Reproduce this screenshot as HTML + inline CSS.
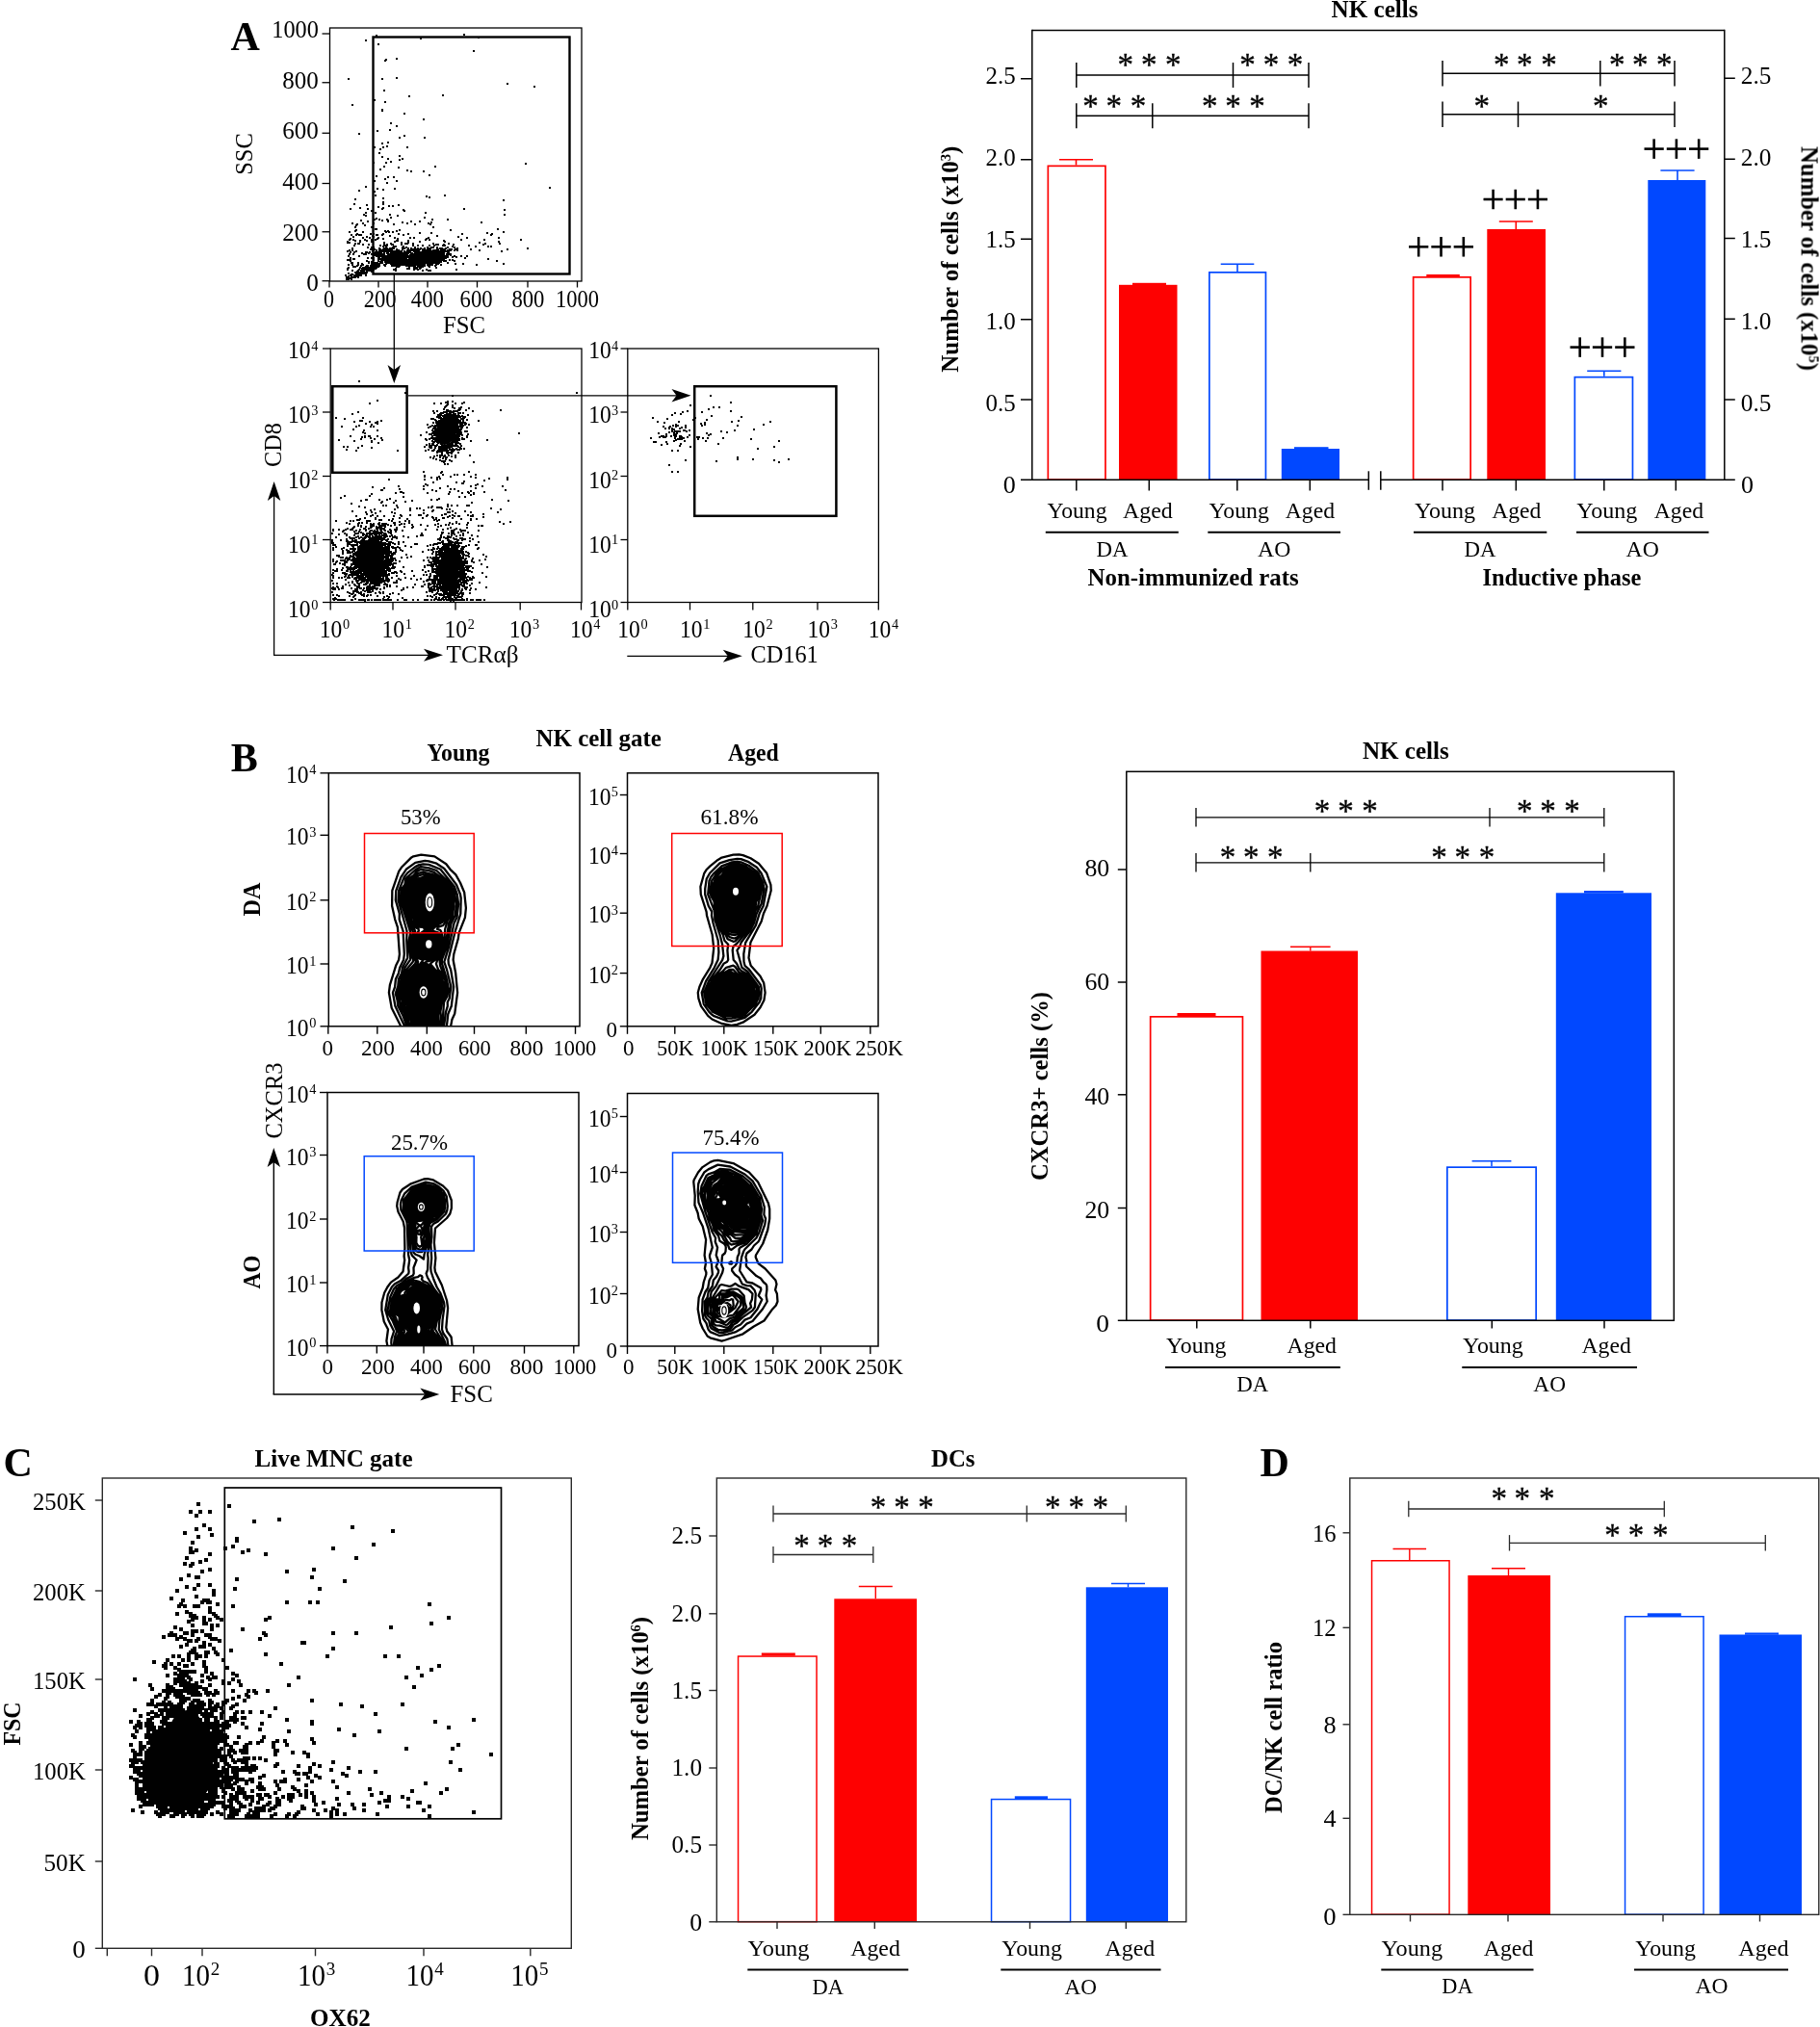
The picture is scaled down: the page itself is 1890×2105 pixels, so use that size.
<!DOCTYPE html>
<html><head><meta charset="utf-8"><title>Figure</title>
<style>html,body{margin:0;padding:0;background:#fff}body{width:1890px;height:2105px;overflow:hidden}svg{display:block}text{font-family:"Liberation Serif",serif;fill:#000}</style></head>
<body>
<svg width="1890" height="2105" viewBox="0 0 1890 2105">
<rect width="1890" height="2105" fill="#fff"/>
<g opacity="0.999">
<text x="239.5" y="52" font-size="42" font-weight="bold">A</text>
<path d="M437 276h2M447 267h2M394 262h2M413 277h2M427 276h2M436 272h2M454 267h2M429 278h2M423 272h2M417 273h2M411 269h2M414 270h2M447 264h2M410 261h2M446 266h2M429 268h2M434 267h2M457 267h2M404 258h2M438 276h2M432 268h2M454 268h2M421 263h2M434 274h2M407 274h2M440 271h2M450 264h2M445 272h2M457 263h2M411 267h2M396 265h2M444 269h2M420 270h2M418 263h2M411 268h2M454 261h2M425 270h2M443 259h2M433 262h2M416 267h2M447 269h2M438 265h2M460 259h2M415 266h2M396 270h2M422 279h2M446 274h2M437 265h2M439 269h2M419 271h2M433 272h2M406 264h2M455 268h2M423 273h2M459 261h2M404 271h2M402 264h2M402 259h2M403 265h2M432 270h2M407 265h2M409 273h2M386 261h2M419 267h2M415 271h2M387 265h2M430 272h2M409 268h2M426 266h2M451 260h2M438 277h2M444 266h2M451 272h2M431 269h2M455 266h2M407 257h2M456 267h2M415 265h2M396 273h2M429 270h2M455 272h2M437 271h2M421 274h2M412 272h2M405 266h2M402 261h2M411 263h2M413 260h2M445 268h2M402 271h2M430 264h2M429 264h2M433 274h2M433 266h2M404 264h2M428 275h2M446 265h2M409 275h2M441 261h2M446 273h2M435 266h2M436 265h2M441 264h2M413 269h2M394 272h2M454 254h2M408 269h2M424 270h2M446 275h2M411 265h2M448 267h2M448 271h2M430 257h2M405 267h2M395 263h2M446 268h2M451 263h2M405 262h2M438 271h2M469 267h2M403 268h2M396 271h2M398 261h2M425 276h2M452 267h2M433 270h2M432 267h2M398 275h2M450 272h2M435 264h2M399 258h2M457 272h2M397 270h2M442 267h2M443 270h2M418 266h2M426 265h2M416 271h2M441 273h2M425 266h2M410 266h2M421 271h2M452 271h2M464 273h2M443 265h2M430 270h2M394 269h2M446 267h2M443 267h2M407 264h2M460 264h2M404 268h2M404 273h2M450 270h2M443 273h2M408 275h2M422 274h2M436 269h2M444 271h2M399 269h2M435 277h2M436 268h2M452 278h2M442 269h2M395 265h2M426 258h2M408 268h2M431 263h2M401 268h2M410 265h2M410 268h2M424 274h2M440 265h2M418 273h2M460 266h2M459 265h2M421 268h2M409 266h2M437 264h2M391 262h2M420 268h2M459 255h2M436 275h2M458 258h2M439 273h2M411 272h2M421 262h2M443 272h2M462 271h2M407 263h2M442 271h2M417 274h2M424 269h2M446 269h2M435 274h2M395 260h2M431 275h2M414 269h2M396 267h2M441 266h2M449 268h2M401 267h2M458 270h2M398 262h2M458 264h2M456 264h2M447 265h2M457 271h2M406 270h2M418 268h2M429 274h2M438 259h2M447 271h2M431 279h2M458 260h2M408 271h2M416 268h2M392 262h2M450 255h2M460 270h2M452 272h2M456 268h2M445 269h2M451 271h2M428 264h2M439 274h2M437 269h2M405 260h2M462 268h2M452 264h2M412 265h2M419 264h2M427 268h2M403 264h2M461 259h2M451 268h2M400 269h2M440 262h2M445 265h2M407 273h2M415 270h2M444 265h2M432 264h2M438 270h2M447 272h2M399 276h2M380 262h2M399 272h2M395 261h2M413 271h2M440 267h2M424 275h2M432 259h2M438 281h2M416 269h2M447 261h2M393 260h2M410 270h2M453 266h2M422 267h2M449 269h2M435 268h2M406 275h2M417 269h2M436 267h2M459 267h2M437 273h2M398 265h2M429 266h2M447 257h2M400 271h2M453 263h2M431 270h2M402 269h2M419 266h2M434 262h2M453 257h2M413 270h2M433 280h2M390 266h2M407 272h2M439 271h2M430 268h2M445 267h2M428 273h2M422 266h2M424 273h2M417 263h2M408 266h2M460 271h2M433 265h2M409 272h2M420 267h2M434 260h2M455 269h2M457 261h2M443 264h2M445 255h2M400 257h2M426 276h2M445 266h2M420 271h2M448 264h2M410 263h2M394 266h2M444 258h2M403 271h2M434 266h2M446 262h2M444 263h2M433 268h2M403 269h2M449 271h2M380 271h2M438 264h2M416 263h2M430 267h2M393 261h2M431 268h2M445 260h2M452 265h2M389 262h2M416 264h2M437 272h2M420 265h2M437 266h2M440 273h2M443 271h2M456 263h2M431 264h2M397 266h2M444 268h2M421 267h2M412 269h2M453 270h2M412 263h2M414 267h2M417 271h2M414 261h2M407 271h2M441 249h2M438 266h2M410 267h2M466 270h2M402 263h2M431 272h2M460 254h2M409 271h2M451 270h2M409 270h2M457 275h2M444 260h2M423 276h2M416 275h2M434 269h2M439 266h2M428 271h2M432 273h2M449 273h2M420 272h2M444 270h2M441 269h2M417 267h2M409 264h2M452 274h2M423 259h2M438 262h2M407 268h2M434 272h2M406 271h2M414 266h2M419 269h2M413 272h2M458 268h2M411 273h2M424 266h2M447 266h2M455 271h2M426 267h2M446 271h2M408 265h2M457 260h2M420 274h2M415 268h2M403 270h2M418 271h2M420 273h2M459 262h2M442 263h2M435 276h2M390 260h2M441 260h2M443 266h2M460 267h2M433 277h2M460 268h2M415 269h2M430 271h2M425 267h2M449 267h2M427 271h2M399 255h2M446 281h2M445 277h2M411 277h2M397 261h2M452 275h2M448 268h2M408 258h2M382 263h2M435 279h2M443 263h2M441 265h2M441 268h2M451 273h2M421 273h2M456 270h2M448 262h2M425 268h2M415 263h2M439 265h2M429 272h2M456 266h2M412 274h2M447 270h2M461 255h2M457 269h2M410 272h2M452 268h2M455 262h2M408 261h2M448 274h2M413 264h2M408 276h2M426 273h2M407 269h2M416 274h2M451 276h2M454 264h2M432 266h2M467 264h2M453 269h2M450 262h2M410 256h2M466 259h2M450 268h2M464 264h2M466 264h2M430 262h2M453 245h2M406 266h2M414 264h2M406 276h2M415 267h2M436 274h2M401 269h2M429 269h2M421 275h2M436 264h2M440 258h2M421 266h2M424 267h2M445 264h2M423 271h2M389 263h2M400 261h2M453 264h2M402 268h2M405 269h2M440 260h2M406 265h2M449 257h2M398 268h2M465 260h2M412 271h2M426 272h2M433 267h2M418 267h2M456 262h2M396 261h2M405 272h2M444 281h2M436 278h2M400 274h2M395 269h2M402 265h2M412 260h2M446 261h2M448 263h2M446 260h2M441 267h2M435 269h2M440 276h2M419 261h2M450 271h2M469 256h2M444 273h2M444 274h2M426 271h2M422 260h2M438 274h2M435 270h2M431 267h2M428 260h2M412 261h2M442 268h2M422 253h2M418 269h2M464 260h2M428 270h2M438 272h2M458 262h2M404 270h2M424 279h2M412 262h2M464 265h2M398 267h2M427 265h2M417 264h2M460 263h2M439 276h2M453 271h2M412 266h2M436 270h2M405 265h2M452 270h2M423 267h2M393 268h2M440 272h2M411 262h2M397 269h2M448 272h2M404 266h2M434 276h2M409 274h2M450 263h2M403 267h2M430 277h2M439 267h2M397 264h2M425 271h2M420 275h2M414 273h2M448 269h2M448 266h2M408 262h2M426 269h2M423 270h2M416 265h2M439 263h2M393 263h2M415 275h2M427 269h2M409 265h2M417 259h2M404 267h2M439 260h2M410 281h2M453 272h2M445 271h2M447 263h2M430 260h2M453 268h2M405 263h2M413 265h2M426 270h2M385 264h2M454 266h2M413 268h2M445 274h2M455 265h2M429 261h2M401 271h2M434 263h2M435 273h2M434 268h2M452 261h2M422 264h2M403 261h2M399 266h2M443 260h2M443 269h2M416 261h2M410 276h2M423 263h2M416 266h2M396 260h2M440 268h2M456 258h2M388 264h2M429 271h2M440 274h2M435 259h2M422 262h2M432 265h2M401 258h2M441 272h2M432 275h2M455 263h2M454 271h2M447 262h2M467 260h2M444 262h2M428 268h2M399 268h2M443 275h2M434 270h2M451 261h2M407 266h2M409 267h2M462 261h2M457 266h2M446 272h2M419 275h2M463 264h2M391 263h2M439 268h2M427 272h2M413 267h2M398 266h2M471 260h2M438 267h2M389 265h2M417 270h2M406 259h2M426 268h2M442 272h2M457 270h2M449 260h2M448 273h2M445 270h2M424 277h2M461 268h2M403 259h2M414 274h2M377 264h2M387 260h2M425 275h2M399 259h2M431 262h2M437 263h2M427 274h2M395 262h2M433 264h2M428 259h2M420 263h2M428 265h2M414 262h2M383 262h2M464 263h2M452 254h2M442 266h2M452 273h2M408 270h2M425 260h2M405 261h2M426 263h2M454 274h2M432 278h2M432 274h2M406 261h2M419 274h2M458 261h2M418 265h2M466 260h2M407 270h2M397 259h2M427 273h2M402 273h2M392 264h2M417 268h2M421 270h2M408 274h2M398 263h2M398 270h2M426 260h2M450 266h2M430 258h2M458 267h2M410 262h2M416 272h2M438 261h2M446 270h2M422 270h2M411 266h2M449 263h2M439 270h2M427 275h2M443 268h2M462 266h2M447 274h2M384 259h2M442 270h2M405 268h2M454 259h2M401 270h2M431 266h2M444 276h2M408 263h2M453 273h2M426 274h2M425 265h2M392 269h2M425 274h2M436 262h2M421 276h2M455 273h2M433 269h2M437 268h2M433 260h2M450 260h2M442 265h2M449 265h2M458 269h2M429 275h2M465 262h2M421 269h2M428 272h2M438 255h2M464 267h2M387 263h2M418 270h2M463 265h2M436 266h2M405 253h2M429 280h2M433 263h2M468 259h2M404 260h2M462 258h2M449 264h2M442 262h2M474 258h2M414 265h2M411 259h2M407 267h2M401 266h2M433 271h2M447 273h2M402 270h2M400 260h2M457 268h2M392 268h2M417 275h2M428 274h2M453 259h2M455 267h2M419 258h2M415 262h2M391 266h2M407 254h2M396 269h2M410 279h2M430 265h2M423 258h2M402 267h2M450 269h2M438 268h2M470 254h2M434 259h2M427 263h2M442 273h2M444 275h2M434 264h2M406 267h2M428 255h2M412 267h2M436 271h2M395 271h2M430 269h2M446 258h2M411 261h2M394 259h2M443 261h2M424 268h2M413 261h2M448 275h2M458 265h2M403 273h2M432 271h2M400 272h2M414 276h2M433 273h2M427 267h2M424 261h2M391 264h2M427 266h2M419 273h2M405 274h2M440 266h2M451 269h2M448 261h2M450 265h2M410 264h2M459 269h2M412 273h2M404 265h2M393 265h2M420 264h2M429 279h2M412 276h2M436 277h2M456 261h2M425 262h2M413 273h2M430 263h2M406 258h2M461 251h2M440 264h2M420 269h2M438 263h2M412 275h2M467 265h2M407 262h2M478 249h2M405 264h2M410 274h2M442 280h2M441 270h2M398 258h2M427 264h2M443 274h2M412 268h2M418 272h2M419 270h2M439 264h2M438 273h2M461 261h2M394 255h2M438 269h2M436 263h2M417 257h2M413 274h2M479 243h2M417 266h2M388 259h2M454 265h2M409 262h2M429 276h2M441 271h2M408 280h2M428 269h2M453 265h2M433 275h2M447 268h2M398 259h2M397 265h2M454 270h2M412 270h2M437 270h2M393 267h2M430 273h2M379 279h2M367 286h2M373 285h2M372 283h2M381 279h2M376 278h2M386 278h2M382 280h2M386 276h2M380 279h2M361 290h2M384 280h2M385 278h2M363 286h2M380 281h2M392 277h2M364 288h2M375 283h2M369 286h2M373 286h2M375 284h2M370 285h2M381 280h2M394 273h2M391 273h2M374 281h2M370 284h2M370 282h2M388 276h2M360 288h2M371 287h2M372 286h2M362 289h2M387 278h2M377 279h2M367 288h2M385 274h2M372 285h2M386 277h2M379 284h2M374 286h2M389 273h2M392 274h2M389 278h2M385 282h2M383 279h2M391 274h2M361 284h2M373 283h2M368 288h2M375 282h2M381 276h2M380 282h2M393 274h2M376 281h2M379 277h2M381 281h2M392 275h2M385 275h2M386 275h2M392 271h2M393 276h2M380 283h2M371 281h2M382 279h2M380 280h2M389 276h2M385 280h2M379 280h2M386 273h2M383 281h2M365 288h2M375 281h2M366 288h2M381 278h2M386 280h2M370 286h2M384 276h2M390 278h2M374 284h2M377 281h2M390 274h2M374 285h2M393 269h2M378 284h2M374 282h2M376 282h2M370 287h2M371 288h2M383 278h2M371 284h2M390 273h2M389 279h2M377 284h2M364 285h2M365 285h2M369 284h2M375 279h2M372 284h2M358 286h2M361 287h2M370 283h2M368 283h2M395 270h2M382 278h2M382 281h2M364 290h2M378 279h2M387 276h2M379 286h2M359 288h2M388 277h2M371 286h2M360 289h2M391 276h2M385 277h2M364 287h2M359 290h2M388 273h2M389 275h2M388 275h2M384 278h2M378 283h2M380 276h2M380 277h2M369 287h2M390 275h2M377 282h2M367 255h2M368 253h2M370 243h2M363 248h2M360 280h2M381 217h2M379 262h2M386 274h2M376 232h2M368 207h2M369 239h2M379 224h2M360 270h2M380 246h2M387 232h2M386 245h2M365 258h2M385 257h2M387 257h2M382 272h2M363 271h2M379 194h2M368 240h2M363 268h2M379 278h2M371 273h2M387 246h2M372 198h2M372 253h2M376 247h2M374 229h2M379 221h2M387 280h2M380 278h2M377 223h2M376 254h2M360 279h2M360 251h2M363 262h2M376 275h2M387 270h2M367 212h2M381 257h2M370 233h2M387 268h2M364 244h2M371 275h2M372 280h2M374 276h2M363 217h2M380 213h2M366 269h2M382 273h2M370 276h2M362 260h2M382 254h2M365 281h2M360 252h2M366 246h2M369 244h2M361 278h2M360 261h2M368 250h2M361 275h2M365 273h2M375 274h2M385 236h2M365 275h2M362 252h2M373 251h2M378 234h2M373 250h2M381 230h2M365 232h2M385 219h2M378 280h2M365 260h2M366 249h2M367 262h2M381 268h2M368 277h2M385 259h2M367 269h2M377 278h2M361 266h2M361 270h2M362 241h2M375 263h2M385 249h2M373 216h2M369 261h2M385 268h2M372 266h2M383 247h2M376 241h2M372 244h2M369 234h2M384 243h2M362 249h2M362 264h2M378 249h2M368 236h2M363 270h2M387 169h2M385 251h2M379 264h2M371 253h2M366 277h2M364 273h2M380 250h2M373 278h2M374 244h2M366 264h2M385 272h2M396 82h2M394 155h2M451 173h2M398 94h2M388 188h2M409 247h2M404 223h2M402 184h2M394 176h2M412 250h2M442 204h2M439 124h2M411 250h2M444 247h2M460 250h2M389 238h2M418 218h2M389 203h2M388 199h2M424 100h2M411 240h2M396 149h2M405 128h2M419 118h2M461 203h2M389 249h2M481 217h2M441 221h2M412 224h2M435 230h2M459 99h2M413 243h2M401 255h2M411 61h2M392 247h2M416 254h2M390 244h2M420 253h2M393 159h2M400 62h2M393 228h2M397 153h2M404 245h2M409 196h2M397 216h2M408 256h2M399 186h2M397 206h2M399 106h2M397 256h2M411 131h2M398 173h2M388 228h2M417 165h2M402 230h2M396 163h2M411 188h2M388 153h2M398 252h2M419 219h2M401 152h2M465 253h2M423 252h2M396 114h2M388 104h2M390 37h2M396 229h2M409 251h2M436 40h2M396 217h2M389 221h2M392 215h2M445 182h2M414 166h2M491 53h2M390 238h2M448 228h2M397 210h2M408 233h2M390 183h2M400 169h2M464 261h2M399 240h2M442 248h2M439 178h2M391 248h2M411 81h2M393 258h2M391 244h2M484 247h2M413 213h2M426 230h2M402 165h2M401 228h2M404 135h2M387 243h2M419 141h2M402 229h2M408 184h2M414 143h2M425 247h2M387 228h2M405 226h2M407 214h2M396 115h2M431 260h2M402 148h2M401 190h2M397 248h2M403 214h2M390 227h2M413 174h2M449 253h2M435 242h2M405 168h2M397 197h2M440 226h2M440 143h2M392 46h2M402 240h2M422 177h2M431 261h2M414 162h2M445 205h2M391 196h2M399 63h2M397 212h2M391 136h2M464 228h2M426 178h2M464 257h2M422 153h2M439 261h2M428 253h2M416 252h2M403 241h2M447 231h2M415 264h2M422 232h2M430 233h2M400 241h2M401 254h2M396 244h2M421 253h2M443 257h2M445 249h2M418 256h2M406 254h2M446 233h2M417 231h2M414 239h2M450 261h2M440 259h2M421 257h2M435 251h2M433 255h2M429 247h2M433 258h2M423 250h2M423 243h2M412 248h2M447 242h2M438 260h2M436 258h2M418 244h2M449 236h2M407 241h2M401 263h2M398 254h2M397 243h2M444 232h2M416 262h2M520 261h2M474 260h2M493 256h2M506 256h2M467 239h2M517 247h2M509 244h2M484 266h2M480 274h2M494 275h2M488 259h2M506 269h2M518 253h2M501 254h2M510 243h2M471 257h2M478 266h2M526 259h2M471 266h2M503 253h2M482 268h2M469 270h2M517 251h2M497 260h2M473 267h2M471 271h2M515 271h2M497 252h2M522 274h2M473 280h2M509 256h2M486 255h2M502 249h2M475 246h2M472 274h2M505 242h2M472 259h2M526 87h2M554 90h2M545 170h2M570 195h2M522 208h2M523 218h2M523 223h2M540 249h2M547 258h2M522 241h2M516 238h2M499 231h2M481 36h2M496 39h2M379 42h2M361 82h2M365 109h2M372 139h2" stroke="#000" stroke-width="2" fill="none"/>
<rect x="342.5" y="29" width="261.5" height="263" fill="none" stroke="#000" stroke-width="1.3"/>
<rect x="387.5" y="38.5" width="204" height="246" fill="none" stroke="#000" stroke-width="2.4"/>
<line x1="334.5" y1="35" x2="342.5" y2="35" stroke="#000" stroke-width="1.3"/>
<text x="282.3" y="39.15" font-size="26" textLength="48.5" lengthAdjust="spacingAndGlyphs">1000</text>
<line x1="334.5" y1="85.75" x2="342.5" y2="85.75" stroke="#000" stroke-width="1.3"/>
<text x="293.3" y="91.75" font-size="26" textLength="37.5" lengthAdjust="spacingAndGlyphs">800</text>
<line x1="334.5" y1="138.25" x2="342.5" y2="138.25" stroke="#000" stroke-width="1.3"/>
<text x="293.3" y="144.35" font-size="26" textLength="37.5" lengthAdjust="spacingAndGlyphs">600</text>
<line x1="334.5" y1="190.5" x2="342.5" y2="190.5" stroke="#000" stroke-width="1.3"/>
<text x="293.3" y="196.95" font-size="26" textLength="37.5" lengthAdjust="spacingAndGlyphs">400</text>
<line x1="334.5" y1="240.75" x2="342.5" y2="240.75" stroke="#000" stroke-width="1.3"/>
<text x="293.3" y="249.55" font-size="26" textLength="37.5" lengthAdjust="spacingAndGlyphs">200</text>
<line x1="334.5" y1="291.75" x2="342.5" y2="291.75" stroke="#000" stroke-width="1.3"/>
<text x="318.2" y="302.15" font-size="26" textLength="12.6" lengthAdjust="spacingAndGlyphs">0</text>
<line x1="342" y1="292" x2="342" y2="298.5" stroke="#000" stroke-width="1.3"/>
<text x="336" y="319.4" font-size="24.5" textLength="11" lengthAdjust="spacingAndGlyphs">0</text>
<line x1="393" y1="292" x2="393" y2="298.5" stroke="#000" stroke-width="1.3"/>
<text x="377.7" y="319.4" font-size="24.5" textLength="34" lengthAdjust="spacingAndGlyphs">200</text>
<line x1="444" y1="292" x2="444" y2="298.5" stroke="#000" stroke-width="1.3"/>
<text x="426.8" y="319.4" font-size="24.5" textLength="34" lengthAdjust="spacingAndGlyphs">400</text>
<line x1="495.5" y1="292" x2="495.5" y2="298.5" stroke="#000" stroke-width="1.3"/>
<text x="477.6" y="319.4" font-size="24.5" textLength="34" lengthAdjust="spacingAndGlyphs">600</text>
<line x1="548" y1="292" x2="548" y2="298.5" stroke="#000" stroke-width="1.3"/>
<text x="531.4" y="319.4" font-size="24.5" textLength="34" lengthAdjust="spacingAndGlyphs">800</text>
<line x1="599.5" y1="292" x2="599.5" y2="298.5" stroke="#000" stroke-width="1.3"/>
<text x="576.9" y="319.4" font-size="24.5" textLength="45" lengthAdjust="spacingAndGlyphs">1000</text>
<text x="460" y="346" font-size="24.5" textLength="44" lengthAdjust="spacingAndGlyphs">FSC</text>
<text transform="translate(261.5 160) rotate(-90)" x="-21.75" y="0" font-size="24.5" textLength="43.5" lengthAdjust="spacingAndGlyphs">SSC</text>
<line x1="409.3" y1="285" x2="409.3" y2="385" stroke="#000" stroke-width="1.3"/>
<polygon points="409.3,398 402.55,379 409.3,384 416.05,379" fill="#000"/>
<ellipse cx="463.6" cy="447.5" rx="11.08" ry="15.34" fill="#000" transform="rotate(18.52 463.6 447.5)"/>
<ellipse cx="385.8" cy="579.5" rx="13.2" ry="17.82" fill="#000" transform="rotate(9.09 385.8 579.5)"/>
<ellipse cx="466.5" cy="592" rx="10.13" ry="21.35" fill="#000" transform="rotate(0 466.5 592)"/>
<path d="M475 449h2M458 465h2M466 431h2M474 459h2M454 448h2M466 434h2M467 463h2M480 429h2M470 429h2M464 464h2M449 455h2M462 418h2M471 459h2M448 468h2M468 474h2M454 443h2M468 460h2M452 442h2M481 466h2M453 449h2M469 428h2M448 461h2M455 444h2M457 436h2M456 478h2M460 434h2M466 467h2M471 431h2M463 427h2M456 438h2M478 435h2M463 468h2M472 434h2M477 442h2M464 463h2M474 463h2M449 427h2M455 437h2M465 463h2M479 444h2M456 433h2M452 437h2M476 451h2M452 448h2M461 468h2M461 436h2M463 434h2M475 460h2M462 435h2M474 436h2M478 423h2M442 462h2M472 438h2M460 435h2M452 455h2M480 442h2M453 452h2M471 463h2M451 456h2M472 463h2M476 438h2M467 428h2M474 448h2M476 448h2M468 428h2M462 464h2M452 446h2M476 467h2M473 438h2M453 462h2M445 451h2M460 479h2M441 456h2M478 463h2M481 439h2M442 457h2M465 464h2M450 443h2M473 435h2M453 441h2M451 463h2M454 446h2M477 429h2M466 461h2M464 426h2M465 433h2M468 468h2M470 463h2M472 462h2M483 440h2M458 437h2M450 452h2M456 465h2M474 441h2M452 451h2M462 422h2M451 450h2M449 448h2M464 471h2M461 431h2M468 464h2M449 461h2M453 450h2M463 435h2M452 452h2M457 464h2M460 425h2M474 432h2M467 461h2M474 445h2M449 439h2M450 474h2M477 433h2M457 437h2M459 432h2M475 430h2M471 434h2M470 436h2M472 427h2M466 470h2M462 465h2M464 418h2M458 462h2M460 463h2M479 452h2M486 441h2M457 461h2M461 428h2M477 440h2M446 475h2M471 430h2M475 438h2M453 470h2M472 453h2M455 440h2M455 439h2M449 445h2M465 430h2M469 461h2M477 443h2M462 463h2M450 467h2M477 425h2M475 444h2M472 458h2M478 450h2M455 466h2M478 449h2M482 448h2M468 433h2M472 452h2M475 453h2M475 457h2M462 477h2M472 430h2M460 464h2M467 427h2M455 468h2M453 448h2M449 449h2M458 466h2M476 453h2M464 462h2M453 473h2M456 473h2M477 448h2M463 475h2M451 458h2M474 451h2M471 432h2M470 459h2M469 469h2M475 436h2M459 466h2M475 433h2M452 463h2M465 435h2M461 465h2M473 448h2M477 438h2M478 444h2M474 427h2M474 435h2M443 441h2M467 462h2M468 431h2M469 432h2M472 457h2M478 439h2M453 451h2M467 434h2M477 437h2M456 439h2M478 446h2M445 464h2M453 459h2M463 429h2M451 445h2M461 435h2M459 437h2M477 465h2M447 451h2M457 441h2M453 455h2M458 469h2M463 465h2M461 433h2M471 437h2M478 440h2M447 455h2M464 432h2M451 442h2M467 430h2M480 433h2M482 441h2M451 455h2M450 459h2M471 457h2M480 435h2M467 464h2M473 454h2M459 467h2M480 438h2M453 453h2M457 466h2M466 463h2M473 434h2M468 469h2M454 460h2M479 440h2M456 432h2M456 440h2M473 461h2M469 460h2M472 432h2M460 480h2M469 434h2M485 431h2M475 454h2M473 452h2M474 456h2M450 449h2M455 469h2M468 462h2M455 467h2M455 459h2M474 437h2M451 447h2M466 430h2M463 469h2M458 464h2M456 441h2M454 447h2M449 435h2M472 460h2M466 465h2M470 458h2M445 462h2M470 456h2M465 473h2M478 443h2M474 443h2M454 439h2M454 438h2M475 470h2M477 446h2M454 469h2M453 458h2M474 460h2M440 464h2M448 447h2M454 444h2M476 449h2M466 466h2M475 445h2M462 475h2M481 418h2M469 462h2M448 458h2M463 463h2M469 466h2M474 450h2M446 465h2M475 450h2M473 466h2M458 471h2M476 432h2M447 463h2M448 450h2M451 449h2M460 428h2M483 426h2M472 456h2M472 459h2M454 454h2M442 449h2M449 456h2M470 428h2M473 453h2M471 424h2M449 460h2M464 482h2M484 444h2M478 441h2M459 468h2M460 468h2M451 436h2M474 453h2M457 431h2M482 439h2M464 469h2M461 473h2M465 427h2M469 435h2M456 475h2M475 437h2M460 433h2M445 461h2M472 454h2M473 449h2M469 423h2M467 432h2M481 434h2M464 420h2M464 468h2M452 439h2M444 467h2M449 476h2M452 456h2M452 450h2M448 453h2M456 464h2M474 452h2M484 453h2M475 439h2M471 455h2M472 455h2M484 436h2M479 455h2M466 427h2M451 448h2M463 467h2M449 468h2M470 431h2M475 426h2M477 439h2M460 467h2M478 451h2M475 429h2M453 433h2M453 427h2M474 458h2M477 461h2M457 419h2M472 437h2M466 429h2M455 464h2M454 431h2M462 431h2M474 442h2M457 434h2M475 447h2M474 446h2M464 435h2M461 464h2M473 440h2M451 444h2M447 435h2M472 433h2M454 445h2M474 467h2M464 433h2M451 465h2M482 433h2M453 469h2M471 435h2M447 465h2M459 476h2M463 433h2M486 424h2M461 466h2M470 427h2M451 451h2M455 433h2M460 474h2M459 429h2M457 435h2M473 460h2M455 434h2M450 450h2M479 419h2M474 438h2M454 440h2M463 426h2M466 464h2M476 456h2M444 444h2M475 443h2M473 456h2M457 429h2M480 437h2M452 477h2M476 424h2M464 431h2M459 435h2M479 432h2M466 462h2M464 417h2M461 446h2M456 430h2M470 454h2M479 456h2M457 469h2M469 436h2M484 454h2M462 459h2M463 456h2M469 417h2M481 493h2M487 473h2M454 457h2M457 452h2M461 482h2M476 426h2M461 449h2M445 456h2M436 452h2M475 464h2M472 473h2M464 444h2M463 450h2M472 475h2M464 446h2M463 460h2M465 459h2M463 441h2M449 462h2M481 456h2M472 419h2M456 434h2M471 508h2M458 479h2M463 437h2M471 456h2M458 438h2M460 443h2M468 479h2M467 455h2M485 451h2M458 473h2M460 453h2M488 458h2M457 473h2M463 470h2M484 448h2M458 451h2M469 421h2M464 459h2M468 471h2M454 468h2M456 446h2M469 458h2M469 411h2M461 479h2M467 435h2M463 458h2M457 467h2M450 429h2M463 421h2M465 465h2M480 502h2M448 442h2M461 423h2M467 444h2M471 467h2M468 439h2M450 419h2M463 439h2M465 449h2M453 496h2M466 478h2M476 457h2M467 467h2M491 480h2M441 468h2M470 468h2M474 457h2M457 449h2M457 442h2M458 447h2M478 466h2M464 453h2M468 457h2M446 443h2M375 570h2M401 584h2M392 562h2M394 557h2M403 568h2M388 597h2M398 556h2M377 570h2M380 606h2M383 560h2M377 604h2M379 596h2M398 578h2M385 603h2M415 571h2M396 587h2M398 588h2M402 569h2M377 594h2M396 603h2M378 596h2M409 575h2M373 585h2M372 595h2M406 583h2M388 596h2M371 606h2M396 566h2M377 596h2M392 600h2M372 573h2M372 580h2M370 582h2M372 598h2M398 575h2M393 597h2M392 595h2M400 581h2M373 574h2M383 603h2M384 548h2M376 600h2M407 564h2M398 570h2M394 595h2M402 584h2M376 567h2M396 553h2M400 583h2M385 597h2M377 617h2M374 589h2M393 593h2M408 569h2M392 599h2M362 581h2M384 551h2M403 583h2M387 560h2M381 615h2M366 568h2M401 583h2M413 565h2M366 585h2M398 584h2M365 581h2M414 583h2M390 608h2M395 594h2M398 566h2M387 599h2M376 598h2M398 587h2M397 586h2M367 579h2M369 580h2M360 582h2M380 597h2M368 554h2M396 594h2M383 554h2M393 567h2M357 587h2M397 589h2M396 589h2M394 560h2M390 561h2M397 597h2M394 558h2M375 568h2M401 582h2M399 555h2M379 606h2M378 569h2M403 591h2M385 598h2M406 575h2M370 615h2M385 606h2M388 561h2M396 564h2M370 554h2M369 585h2M392 597h2M404 585h2M393 557h2M374 584h2M393 599h2M398 611h2M368 570h2M396 565h2M388 599h2M403 590h2M370 595h2M403 581h2M399 571h2M367 595h2M394 597h2M394 564h2M376 571h2M365 573h2M372 582h2M369 562h2M391 598h2M403 574h2M371 578h2M400 568h2M396 560h2M374 588h2M389 553h2M392 563h2M395 591h2M400 598h2M404 587h2M370 588h2M380 565h2M362 597h2M402 591h2M398 557h2M380 598h2M371 592h2M405 578h2M401 581h2M369 577h2M371 603h2M406 578h2M386 610h2M371 589h2M371 568h2M403 563h2M396 569h2M376 591h2M370 598h2M389 564h2M403 592h2M398 583h2M367 576h2M398 607h2M384 601h2M373 578h2M403 571h2M370 564h2M379 599h2M378 567h2M390 606h2M391 536h2M402 574h2M399 566h2M401 603h2M367 590h2M358 580h2M370 576h2M394 602h2M357 599h2M387 563h2M391 599h2M371 577h2M378 558h2M385 554h2M375 569h2M403 570h2M398 544h2M410 558h2M357 595h2M395 561h2M394 598h2M391 563h2M366 586h2M379 562h2M393 556h2M396 561h2M372 592h2M407 589h2M369 558h2M394 592h2M402 583h2M402 580h2M386 598h2M367 566h2M395 552h2M373 584h2M401 565h2M392 554h2M400 594h2M391 595h2M386 597h2M376 555h2M390 549h2M394 553h2M377 569h2M402 577h2M376 599h2M357 582h2M369 561h2M385 559h2M401 579h2M402 602h2M402 571h2M370 573h2M381 604h2M381 601h2M379 563h2M394 567h2M374 570h2M358 583h2M391 597h2M403 564h2M393 566h2M391 558h2M366 580h2M369 603h2M407 580h2M384 598h2M401 602h2M410 569h2M403 573h2M400 578h2M399 589h2M384 604h2M378 597h2M365 586h2M380 567h2M398 589h2M395 595h2M394 596h2M371 575h2M373 573h2M361 574h2M403 575h2M372 568h2M367 589h2M386 609h2M398 574h2M380 555h2M401 609h2M393 602h2M377 592h2M399 567h2M393 596h2M401 592h2M388 563h2M401 599h2M367 559h2M400 607h2M394 593h2M376 596h2M375 565h2M403 597h2M405 573h2M400 593h2M395 562h2M388 555h2M384 597h2M375 599h2M371 576h2M391 560h2M379 567h2M391 550h2M390 597h2M375 604h2M401 607h2M399 603h2M395 592h2M365 562h2M393 605h2M411 605h2M390 563h2M388 602h2M382 614h2M392 560h2M404 591h2M372 590h2M406 560h2M384 602h2M364 587h2M376 569h2M409 557h2M373 582h2M396 568h2M406 541h2M389 561h2M385 604h2M369 563h2M379 566h2M380 566h2M372 586h2M365 560h2M398 565h2M391 608h2M391 557h2M363 594h2M375 571h2M372 576h2M367 581h2M399 582h2M385 545h2M369 601h2M371 594h2M407 588h2M360 563h2M375 572h2M368 612h2M383 552h2M377 564h2M366 614h2M369 581h2M383 556h2M405 580h2M388 609h2M395 550h2M408 585h2M383 615h2M408 590h2M382 558h2M383 610h2M378 566h2M381 597h2M398 610h2M405 574h2M375 618h2M399 575h2M390 602h2M376 602h2M373 581h2M394 568h2M400 575h2M390 556h2M398 585h2M363 589h2M392 559h2M369 593h2M389 597h2M404 593h2M384 562h2M388 553h2M379 547h2M376 592h2M391 552h2M386 561h2M367 585h2M402 586h2M382 603h2M400 589h2M373 572h2M403 577h2M397 591h2M399 579h2M394 550h2M369 587h2M397 601h2M383 599h2M371 581h2M395 605h2M399 585h2M380 563h2M371 587h2M359 584h2M369 575h2M372 572h2M391 554h2M368 600h2M399 570h2M374 575h2M404 565h2M391 619h2M393 608h2M400 569h2M376 565h2M395 559h2M371 569h2M396 590h2M367 597h2M404 557h2M376 562h2M409 580h2M378 559h2M371 544h2M402 552h2M401 574h2M353 579h2M376 556h2M389 552h2M370 578h2M402 572h2M400 573h2M365 570h2M370 566h2M395 558h2M400 574h2M364 586h2M363 578h2M374 565h2M374 582h2M374 599h2M393 595h2M375 592h2M400 590h2M402 576h2M374 566h2M371 584h2M373 571h2M379 602h2M403 584h2M374 585h2M372 606h2M371 583h2M376 559h2M403 593h2M398 573h2M404 563h2M405 583h2M392 548h2M394 612h2M389 596h2M400 576h2M400 555h2M371 572h2M407 576h2M372 569h2M399 590h2M366 577h2M365 594h2M385 564h2M410 582h2M392 603h2M369 595h2M382 565h2M387 598h2M373 570h2M366 584h2M395 597h2M363 577h2M371 579h2M387 564h2M367 591h2M368 566h2M375 573h2M384 544h2M376 560h2M388 598h2M403 620h2M402 589h2M376 570h2M397 570h2M381 565h2M406 595h2M375 543h2M404 582h2M400 587h2M381 566h2M372 571h2M362 565h2M400 579h2M394 563h2M383 564h2M390 598h2M383 563h2M380 568h2M359 562h2M402 560h2M399 584h2M377 555h2M384 612h2M382 601h2M392 594h2M386 562h2M383 598h2M374 563h2M396 591h2M368 563h2M371 571h2M371 610h2M402 604h2M366 582h2M361 573h2M399 547h2M402 579h2M373 589h2M373 595h2M373 594h2M380 562h2M387 561h2M398 590h2M391 602h2M371 585h2M389 599h2M409 565h2M372 577h2M376 561h2M406 568h2M389 598h2M385 599h2M386 557h2M380 554h2M368 587h2M372 574h2M390 562h2M405 546h2M399 568h2M377 562h2M395 593h2M379 564h2M373 598h2M391 600h2M369 590h2M391 561h2M396 546h2M374 601h2M367 580h2M373 567h2M388 564h2M410 572h2M385 562h2M393 594h2M371 574h2M380 556h2M384 599h2M394 601h2M398 603h2M401 572h2M371 596h2M402 601h2M379 550h2M396 556h2M388 559h2M403 587h2M398 572h2M396 601h2M390 599h2M387 601h2M373 591h2M403 553h2M407 582h2M374 611h2M397 569h2M383 565h2M386 600h2M388 606h2M371 557h2M391 551h2M385 547h2M400 561h2M387 602h2M370 610h2M395 548h2M398 591h2M365 567h2M393 543h2M360 593h2M372 585h2M377 597h2M372 579h2M386 559h2M397 566h2M382 598h2M394 566h2M374 617h2M375 600h2M373 569h2M398 554h2M399 574h2M396 602h2M365 578h2M379 607h2M405 585h2M390 557h2M370 587h2M382 557h2M388 552h2M364 591h2M397 593h2M376 593h2M399 596h2M400 595h2M375 575h2M407 586h2M362 616h2M373 586h2M403 596h2M407 569h2M402 597h2M388 558h2M389 602h2M384 561h2M378 568h2M380 610h2M393 553h2M397 598h2M398 560h2M372 563h2M390 559h2M404 584h2M390 560h2M392 606h2M386 564h2M361 572h2M390 605h2M375 596h2M394 599h2M381 557h2M405 554h2M373 583h2M354 570h2M367 552h2M362 580h2M381 598h2M399 554h2M405 577h2M397 595h2M393 555h2M390 603h2M405 563h2M374 574h2M392 565h2M364 595h2M373 611h2M388 551h2M383 607h2M399 586h2M398 550h2M385 563h2M367 572h2M378 603h2M422 579h2M401 587h2M387 600h2M362 591h2M393 601h2M374 605h2M387 559h2M391 604h2M398 571h2M366 566h2M399 595h2M378 600h2M370 593h2M403 569h2M398 558h2M397 572h2M388 600h2M370 579h2M374 593h2M401 597h2M391 559h2M367 586h2M372 583h2M369 612h2M374 578h2M396 592h2M409 558h2M395 590h2M401 608h2M360 573h2M382 561h2M395 554h2M379 556h2M408 595h2M352 585h2M385 601h2M399 557h2M374 583h2M372 575h2M368 594h2M405 582h2M397 573h2M378 564h2M399 564h2M383 608h2M396 598h2M366 592h2M354 600h2M355 586h2M399 598h2M398 586h2M365 559h2M436 601h2M360 600h2M377 577h2M399 558h2M370 613h2M361 590h2M397 602h2M354 611h2M394 531h2M384 579h2M359 579h2M359 556h2M396 577h2M397 603h2M386 592h2M391 590h2M377 602h2M413 563h2M365 597h2M391 568h2M351 578h2M366 559h2M386 570h2M378 581h2M364 617h2M388 594h2M416 613h2M378 549h2M362 600h2M381 593h2M387 582h2M377 572h2M416 579h2M370 609h2M373 590h2M375 577h2M348 622h2M389 578h2M383 613h2M355 575h2M395 571h2M369 589h2M370 599h2M369 614h2M374 615h2M397 622h2M359 555h2M380 605h2M351 577h2M355 582h2M360 580h2M383 592h2M377 560h2M369 600h2M397 559h2M375 578h2M390 579h2M384 588h2M381 605h2M393 573h2M391 572h2M388 581h2M404 566h2M406 580h2M418 563h2M369 536h2M351 612h2M365 604h2M364 597h2M353 582h2M381 588h2M356 569h2M364 523h2M405 551h2M347 593h2M386 588h2M394 579h2M359 571h2M382 593h2M377 567h2M383 579h2M401 619h2M382 592h2M361 598h2M367 562h2M349 593h2M400 544h2M363 570h2M368 614h2M345 595h2M390 585h2M381 594h2M400 572h2M381 590h2M358 598h2M380 599h2M358 607h2M398 595h2M355 609h2M380 619h2M409 550h2M380 543h2M376 603h2M381 613h2M406 590h2M376 583h2M395 568h2M372 599h2M389 606h2M426 578h2M399 588h2M373 588h2M388 580h2M380 570h2M387 584h2M370 583h2M360 615h2M409 594h2M374 564h2M364 563h2M382 562h2M376 618h2M389 611h2M406 579h2M376 589h2M374 553h2M347 586h2M366 620h2M387 609h2M348 568h2M385 592h2M362 579h2M384 615h2M409 605h2M397 616h2M427 593h2M375 564h2M362 544h2M380 603h2M397 615h2M397 580h2M399 606h2M364 566h2M380 613h2M390 558h2M445 611h2M383 611h2M362 558h2M402 622h2M393 575h2M385 513h2M386 579h2M384 572h2M393 615h2M417 572h2M385 582h2M406 600h2M389 555h2M383 586h2M416 594h2M368 585h2M380 587h2M382 600h2M394 585h2M374 597h2M376 586h2M394 578h2M368 583h2M402 587h2M376 584h2M408 580h2M359 543h2M401 557h2M389 601h2M372 623h2M381 618h2M396 570h2M366 593h2M392 578h2M358 550h2M411 609h2M390 547h2M384 610h2M372 616h2M400 602h2M347 612h2M393 578h2M404 608h2M379 603h2M375 603h2M368 588h2M379 519h2M399 551h2M366 594h2M385 579h2M415 602h2M376 590h2M348 584h2M360 562h2M354 592h2M348 558h2M367 582h2M374 595h2M369 551h2M375 561h2M372 601h2M359 596h2M394 574h2M394 600h2M395 565h2M377 585h2M410 570h2M387 587h2M382 595h2M350 610h2M359 593h2M369 597h2M345 583h2M397 546h2M403 602h2M365 617h2M422 610h2M390 600h2M381 596h2M376 613h2M426 601h2M357 584h2M346 586h2M367 601h2M386 585h2M380 612h2M366 590h2M386 535h2M367 607h2M397 565h2M430 565h2M379 532h2M383 577h2M382 578h2M356 551h2M389 538h2M374 546h2M401 591h2M373 563h2M355 611h2M394 576h2M411 598h2M376 568h2M373 576h2M386 582h2M379 588h2M379 558h2M351 550h2M359 589h2M365 599h2M380 534h2M346 566h2M420 600h2M365 591h2M366 616h2M377 619h2M362 574h2M349 606h2M418 589h2M412 568h2M384 536h2M374 520h2M404 550h2M355 590h2M371 570h2M403 540h2M392 583h2M370 540h2M371 600h2M382 582h2M380 590h2M400 599h2M380 581h2M387 579h2M349 591h2M409 544h2M384 618h2M368 574h2M386 614h2M407 616h2M383 562h2M418 612h2M413 617h2M397 574h2M390 571h2M373 602h2M364 611h2M389 616h2M382 594h2M398 564h2M395 585h2M364 582h2M384 576h2M390 573h2M408 605h2M376 601h2M378 589h2M378 624h2M388 579h2M362 563h2M349 583h2M362 608h2M378 614h2M349 577h2M381 609h2M355 572h2M404 586h2M365 596h2M378 592h2M397 604h2M410 585h2M404 609h2M371 615h2M363 559h2M376 575h2M393 585h2M368 618h2M378 572h2M391 585h2M371 573h2M370 605h2M389 604h2M365 605h2M389 566h2M387 604h2M360 567h2M403 603h2M398 604h2M395 598h2M417 621h2M383 593h2M406 586h2M392 587h2M407 568h2M345 581h2M399 607h2M357 554h2M390 596h2M419 547h2M386 571h2M410 594h2M386 602h2M381 582h2M366 570h2M377 583h2M360 565h2M379 598h2M402 582h2M374 558h2M394 604h2M418 611h2M414 569h2M392 580h2M372 552h2M383 569h2M392 574h2M389 582h2M408 575h2M353 561h2M397 588h2M395 575h2M389 588h2M373 550h2M377 607h2M363 574h2M390 612h2M394 616h2M357 585h2M370 611h2M362 573h2M406 577h2M357 596h2M388 608h2M387 611h2M369 566h2M358 602h2M351 600h2M394 590h2M361 605h2M410 573h2M385 611h2M376 577h2M360 592h2M369 602h2M349 618h2M391 611h2M353 623h2M362 619h2M367 619h2M384 605h2M428 610h2M394 577h2M390 570h2M406 556h2M351 555h2M387 586h2M365 590h2M347 611h2M347 621h2M391 601h2M408 574h2M415 593h2M387 544h2M380 584h2M400 600h2M409 589h2M365 549h2M381 611h2M400 586h2M360 591h2M413 601h2M368 576h2M387 590h2M345 571h2M347 566h2M420 567h2M349 609h2M393 607h2M404 617h2M363 550h2M377 611h2M411 559h2M355 595h2M372 559h2M372 607h2M395 566h2M368 622h2M360 572h2M441 550h2M411 595h2M429 598h2M411 603h2M360 574h2M388 592h2M374 623h2M426 568h2M366 571h2M402 565h2M387 552h2M371 546h2M351 619h2M406 532h2M355 573h2M398 620h2M387 606h2M386 554h2M374 592h2M439 582h2M419 596h2M396 580h2M388 595h2M363 593h2M399 593h2M388 572h2M397 599h2M370 563h2M360 589h2M368 608h2M368 561h2M366 575h2M372 609h2M382 570h2M425 528h2M355 579h2M386 613h2M383 597h2M393 545h2M395 522h2M372 600h2M409 529h2M414 542h2M435 528h2M407 558h2M363 541h2M400 525h2M432 557h2M366 541h2M372 526h2M408 522h2M416 544h2M384 530h2M389 556h2M409 545h2M385 555h2M382 549h2M411 558h2M411 550h2M377 549h2M403 498h2M380 519h2M425 530h2M399 556h2M420 521h2M401 562h2M367 556h2M436 556h2M395 546h2M371 554h2M359 560h2M365 531h2M467 558h2M404 518h2M428 547h2M421 576h2M398 536h2M412 527h2M389 533h2M418 512h2M374 562h2M372 540h2M396 545h2M414 538h2M378 538h2M407 539h2M414 545h2M399 546h2M353 517h2M420 541h2M385 551h2M395 582h2M419 544h2M385 532h2M376 554h2M384 546h2M401 570h2M393 546h2M411 548h2M448 526h2M409 533h2M389 539h2M398 549h2M365 550h2M405 553h2M408 543h2M413 505h2M448 537h2M418 557h2M383 558h2M387 546h2M411 525h2M384 567h2M396 521h2M372 543h2M397 549h2M379 551h2M373 564h2M457 546h2M374 547h2M416 536h2M355 552h2M417 551h2M410 552h2M366 548h2M382 554h2M373 539h2M367 547h2M378 527h2M424 543h2M394 549h2M415 535h2M375 562h2M423 558h2M396 544h2M348 541h2M380 541h2M394 548h2M360 549h2M437 554h2M432 528h2M382 541h2M409 543h2M378 570h2M393 540h2M402 567h2M397 525h2M472 616h2M467 573h2M457 617h2M449 580h2M460 567h2M464 616h2M477 587h2M476 581h2M481 605h2M476 602h2M457 606h2M468 572h2M454 605h2M476 594h2M476 580h2M459 550h2M476 564h2M461 611h2M464 619h2M480 573h2M458 579h2M469 622h2M460 569h2M457 597h2M480 604h2M480 608h2M448 580h2M456 598h2M485 592h2M477 577h2M456 606h2M483 596h2M456 591h2M484 585h2M477 597h2M460 574h2M463 617h2M477 591h2M489 602h2M473 621h2M446 579h2M463 571h2M453 609h2M458 612h2M472 573h2M482 604h2M453 570h2M452 584h2M455 603h2M465 545h2M469 569h2M472 563h2M478 605h2M479 602h2M474 569h2M461 615h2M458 611h2M458 586h2M484 590h2M447 610h2M450 604h2M473 611h2M470 569h2M459 565h2M464 574h2M476 587h2M484 577h2M474 564h2M469 618h2M450 565h2M483 580h2M471 567h2M456 594h2M456 583h2M479 568h2M461 617h2M469 615h2M484 589h2M470 615h2M454 607h2M462 611h2M457 595h2M457 582h2M480 600h2M455 584h2M482 583h2M465 568h2M475 606h2M483 612h2M442 603h2M478 585h2M473 579h2M480 605h2M457 587h2M453 585h2M468 614h2M474 571h2M472 622h2M487 613h2M470 612h2M456 572h2M464 572h2M477 580h2M484 606h2M465 561h2M479 575h2M471 611h2M495 570h2M465 554h2M479 599h2M493 566h2M479 600h2M452 588h2M483 589h2M468 615h2M458 571h2M470 616h2M483 577h2M477 604h2M459 576h2M478 623h2M459 568h2M458 606h2M459 575h2M487 600h2M467 616h2M471 569h2M459 579h2M473 570h2M473 612h2M478 574h2M479 619h2M477 550h2M451 580h2M454 560h2M475 581h2M468 569h2M476 584h2M475 610h2M473 568h2M459 563h2M463 612h2M456 582h2M481 590h2M470 551h2M460 558h2M476 588h2M469 572h2M472 618h2M462 612h2M478 592h2M458 602h2M461 610h2M481 568h2M467 618h2M480 588h2M473 574h2M465 622h2M488 611h2M448 594h2M457 583h2M455 623h2M470 567h2M478 620h2M456 593h2M471 620h2M455 590h2M467 614h2M489 606h2M455 579h2M468 616h2M480 595h2M472 613h2M473 569h2M476 585h2M473 623h2M462 617h2M486 578h2M464 549h2M478 579h2M471 623h2M471 575h2M457 589h2M449 583h2M480 599h2M459 610h2M444 607h2M457 612h2M459 604h2M481 583h2M457 578h2M476 620h2M458 618h2M466 615h2M476 589h2M482 611h2M455 617h2M447 611h2M480 597h2M448 603h2M476 612h2M465 623h2M470 623h2M454 611h2M481 609h2M478 602h2M456 602h2M461 613h2M461 616h2M471 564h2M478 582h2M477 603h2M467 621h2M469 613h2M484 603h2M473 614h2M454 580h2M455 596h2M483 567h2M452 620h2M473 616h2M456 595h2M481 594h2M475 576h2M473 608h2M455 588h2M448 620h2M480 591h2M453 550h2M454 623h2M465 563h2M459 613h2M475 580h2M453 607h2M470 570h2M456 610h2M477 600h2M460 580h2M475 584h2M461 609h2M476 608h2M456 570h2M475 604h2M483 605h2M478 598h2M464 569h2M454 590h2M462 572h2M452 573h2M459 564h2M459 578h2M457 586h2M477 588h2M443 623h2M457 600h2M478 596h2M481 602h2M464 566h2M478 600h2M479 617h2M459 562h2M455 564h2M474 609h2M470 618h2M477 581h2M458 582h2M454 588h2M469 614h2M479 618h2M478 593h2M461 577h2M470 571h2M475 583h2M476 591h2M449 569h2M466 566h2M456 604h2M464 623h2M480 601h2M485 574h2M460 610h2M471 619h2M453 591h2M487 616h2M456 592h2M465 557h2M460 609h2M480 617h2M477 599h2M457 623h2M475 561h2M475 597h2M483 588h2M473 577h2M485 591h2M460 612h2M463 615h2M469 563h2M460 614h2M464 557h2M463 565h2M473 549h2M452 578h2M463 569h2M483 610h2M469 616h2M456 605h2M466 619h2M456 609h2M454 597h2M483 600h2M456 575h2M457 602h2M462 573h2M469 617h2M486 566h2M487 559h2M474 616h2M453 602h2M452 598h2M470 574h2M485 599h2M456 564h2M474 581h2M476 597h2M454 569h2M481 591h2M468 553h2M456 559h2M463 623h2M466 564h2M484 583h2M474 608h2M462 575h2M473 575h2M459 582h2M479 613h2M479 594h2M453 579h2M487 602h2M452 576h2M491 600h2M459 614h2M479 585h2M468 573h2M476 577h2M474 619h2M460 611h2M469 568h2M457 613h2M478 583h2M475 573h2M481 600h2M474 562h2M453 598h2M458 610h2M477 573h2M470 554h2M480 570h2M474 573h2M466 570h2M471 618h2M477 602h2M468 568h2M457 605h2M458 604h2M488 588h2M468 623h2M479 608h2M474 577h2M458 553h2M490 590h2M458 580h2M443 567h2M458 605h2M479 595h2M456 577h2M472 577h2M458 603h2M476 544h2M469 574h2M462 571h2M457 604h2M480 609h2M475 618h2M456 588h2M466 565h2M458 585h2M480 580h2M456 600h2M451 609h2M476 578h2M481 596h2M482 581h2M463 614h2M452 617h2M474 614h2M478 614h2M472 565h2M459 577h2M466 573h2M466 614h2M477 592h2M449 582h2M460 577h2M469 570h2M451 613h2M452 580h2M460 576h2M478 587h2M456 576h2M453 580h2M451 565h2M468 554h2M478 570h2M470 559h2M449 573h2M475 620h2M455 606h2M460 620h2M468 571h2M460 613h2M462 566h2M468 563h2M465 572h2M479 584h2M487 562h2M470 573h2M468 556h2M453 601h2M464 537h2M485 593h2M475 568h2M454 598h2M452 599h2M480 590h2M471 565h2M455 560h2M461 575h2M452 591h2M465 620h2M481 576h2M457 618h2M474 580h2M456 585h2M473 567h2M462 568h2M479 587h2M458 569h2M480 616h2M479 616h2M457 576h2M449 593h2M485 589h2M475 578h2M472 608h2M477 583h2M460 616h2M451 579h2M454 591h2M451 581h2M475 582h2M475 603h2M475 614h2M449 566h2M471 560h2M484 610h2M455 598h2M487 608h2M451 622h2M464 567h2M456 589h2M478 552h2M466 621h2M454 573h2M466 617h2M472 571h2M483 592h2M454 583h2M461 572h2M463 574h2M477 598h2M483 573h2M459 608h2M456 590h2M454 564h2M474 605h2M462 620h2M459 621h2M477 590h2M489 601h2M473 610h2M479 588h2M477 616h2M470 624h2M476 595h2M457 585h2M465 613h2M482 603h2M453 610h2M479 622h2M461 569h2M485 553h2M479 612h2M485 590h2M475 577h2M454 614h2M464 565h2M466 612h2M467 624h2M480 574h2M460 579h2M476 579h2M472 576h2M479 592h2M476 610h2M460 570h2M461 612h2M479 593h2M476 575h2M448 592h2M454 582h2M463 568h2M457 611h2M447 614h2M457 584h2M463 616h2M458 554h2M486 575h2M481 597h2M471 572h2M453 597h2M473 560h2M458 609h2M481 587h2M479 591h2M453 573h2M478 595h2M454 584h2M477 607h2M473 542h2M455 574h2M478 573h2M451 606h2M465 567h2M476 567h2M478 580h2M450 603h2M457 601h2M454 568h2M451 586h2M463 559h2M472 609h2M481 560h2M458 572h2M467 622h2M481 607h2M467 619h2M462 576h2M456 584h2M473 609h2M476 617h2M455 594h2M453 582h2M470 575h2M456 561h2M479 551h2M475 599h2M470 592h2M471 550h2M479 589h2M466 543h2M447 588h2M486 589h2M467 603h2M475 536h2M465 592h2M459 593h2M461 576h2M470 577h2M459 605h2M466 609h2M479 571h2M444 571h2M450 594h2M490 599h2M465 558h2M470 579h2M475 572h2M444 608h2M450 598h2M458 574h2M460 565h2M480 579h2M467 583h2M470 578h2M465 600h2M480 587h2M466 591h2M463 589h2M446 566h2M481 551h2M464 583h2M466 603h2M467 579h2M478 615h2M457 558h2M468 585h2M457 556h2M462 591h2M447 584h2M469 579h2M460 538h2M470 586h2M470 597h2M490 560h2M474 575h2M459 589h2M477 556h2M483 603h2M454 610h2M479 559h2M457 610h2M469 544h2M469 566h2M467 571h2M474 588h2M472 590h2M468 566h2M473 598h2M479 561h2M468 564h2M470 598h2M454 603h2M489 582h2M449 613h2M468 613h2M454 602h2M448 571h2M460 582h2M458 583h2M477 585h2M458 590h2M471 594h2M443 579h2M461 573h2M489 556h2M484 602h2M462 583h2M482 551h2M475 617h2M491 584h2M474 584h2M485 588h2M454 613h2M468 551h2M496 563h2M485 577h2M462 559h2M480 577h2M487 593h2M449 588h2M469 538h2M464 578h2M478 564h2M472 582h2M460 618h2M480 556h2M450 580h2M481 593h2M462 585h2M469 582h2M455 572h2M464 595h2M470 608h2M462 578h2M456 573h2M481 601h2M484 545h2M443 619h2M468 591h2M459 571h2M480 583h2M454 544h2M463 577h2M449 586h2M465 570h2M459 570h2M445 601h2M496 569h2M461 588h2M497 605h2M452 622h2M457 570h2M476 572h2M473 592h2M464 601h2M463 605h2M470 580h2M467 574h2M478 606h2M471 616h2M479 572h2M470 613h2M471 587h2M460 589h2M448 586h2M446 596h2M465 608h2M482 585h2M464 561h2M465 582h2M456 618h2M459 553h2M473 543h2M454 606h2M495 557h2M468 595h2M475 553h2M473 606h2M489 583h2M472 610h2M460 602h2M463 567h2M461 587h2M471 536h2M462 599h2M471 573h2M447 571h2M452 581h2M476 536h2M440 589h2M464 560h2M458 573h2M449 579h2M471 603h2M474 596h2M465 580h2M449 604h2M452 592h2M468 603h2M444 593h2M484 622h2M442 615h2M453 565h2M467 595h2M471 588h2M476 598h2M467 562h2M459 607h2M471 586h2M462 606h2M478 571h2M475 566h2M467 596h2M471 555h2M471 610h2M480 585h2M464 620h2M462 614h2M503 581h2M460 600h2M458 563h2M472 533h2M485 603h2M457 571h2M469 600h2M473 557h2M482 598h2M460 606h2M461 603h2M464 597h2M475 587h2M454 593h2M463 586h2M455 540h2M504 610h2M469 605h2M469 602h2M439 597h2M465 591h2M458 613h2M445 599h2M469 581h2M452 602h2M470 581h2M463 600h2M460 585h2M452 574h2M471 615h2M470 553h2M480 554h2M453 590h2M472 583h2M438 573h2M460 607h2M496 551h2M442 536h2M473 571h2M477 559h2M455 595h2M486 588h2M441 594h2M457 575h2M467 590h2M432 565h2M453 599h2M462 593h2M446 602h2M451 599h2M457 594h2M464 593h2M454 576h2M463 601h2M449 609h2M455 611h2M448 602h2M448 605h2M446 607h2M444 606h2M448 612h2M449 602h2M444 582h2M443 587h2M440 607h2M450 591h2M447 586h2M452 586h2M438 609h2M439 604h2M453 616h2M453 600h2M448 606h2M451 604h2M447 612h2M449 606h2M462 622h2M450 618h2M461 565h2M442 597h2M457 572h2M454 612h2M432 602h2M453 612h2M460 598h2M450 611h2M451 584h2M462 602h2M463 607h2M469 588h2M443 603h2M451 601h2M443 602h2M445 584h2M445 614h2M448 590h2M469 603h2M450 608h2M446 613h2M438 592h2M451 583h2M460 588h2M455 621h2M454 595h2M452 594h2M464 617h2M455 586h2M451 600h2M455 582h2M468 594h2M450 600h2M437 609h2M446 619h2M465 602h2M448 615h2M458 622h2M463 590h2M445 587h2M450 570h2M445 606h2M450 585h2M452 595h2M445 602h2M461 604h2M450 583h2M456 608h2M448 575h2M446 598h2M459 603h2M430 607h2M444 610h2M445 612h2M450 610h2M440 588h2M439 533h2M493 507h2M455 527h2M499 546h2M457 491h2M464 526h2M488 536h2M447 496h2M502 499h2M494 539h2M485 511h2M459 538h2M491 513h2M488 495h2M471 493h2M467 495h2M458 535h2M488 510h2M443 504h2M482 516h2M452 538h2M485 543h2M488 539h2M496 546h2M476 516h2M453 527h2M443 535h2M475 510h2M466 511h2M486 525h2M438 538h2M467 508h2M447 519h2M455 518h2M474 525h2M479 512h2M467 548h2M453 541h2M490 535h2M488 540h2M452 539h2M439 505h2M439 490h2M440 494h2M462 534h2M448 531h2M458 490h2M462 545h2M443 512h2M489 522h2M449 538h2M486 512h2M458 528h2M500 546h2M482 531h2M461 534h2M449 501h2M453 519h2M468 525h2M473 501h2M448 509h2M440 495h2M474 493h2M447 527h2M493 504h2M456 497h2M484 525h2M491 512h2M450 540h2M495 503h2M464 505h2M493 496h2M486 490h2M449 530h2M454 547h2M500 505h2M451 545h2M488 532h2M478 539h2M484 548h2M493 493h2M469 535h2M459 493h2M481 500h2M466 529h2M464 532h2M441 503h2M452 510h2M466 536h2M488 514h2M464 524h2M527 520h2M439 530h2M509 528h2M463 529h2M469 531h2M502 511h2M516 532h2M526 498h2M490 536h2M488 505h2M507 497h2M438 556h2M466 532h2M444 527h2M434 535h2M436 535h2M501 534h2M457 527h2M519 529h2M465 513h2M485 535h2M453 498h2M440 498h2M482 560h2M510 519h2M439 508h2M522 544h2M427 548h2M521 505h2M427 520h2M427 545h2M436 545h2M443 546h2M479 502h2M456 507h2M524 509h2M455 495h2M501 537h2M425 535h2M393 519h2M398 507h2M388 529h2M383 515h2M396 509h2M401 519h2M416 511h2M395 540h2M392 544h2M408 536h2M414 508h2M386 506h2M402 545h2M410 520h2M410 512h2M395 509h2M415 511h2M422 539h2M418 516h2M424 541h2M383 541h2M500 595h2M504 578h2M504 599h2M490 580h2M494 566h2M499 586h2M505 589h2M497 582h2M501 576h2M489 594h2M493 612h2M383 438h2M369 443h2M383 419h2M378 454h2M385 441h2M384 455h2M385 459h2M378 453h2M379 440h2M388 456h2M365 430h2M385 458h2M391 453h2M377 447h2M383 453h2M378 450h2M389 439h2M391 440h2M375 463h2M372 442h2M374 456h2M375 437h2M391 438h2M385 465h2M366 446h2M384 443h2M372 396h2M391 447h2M395 455h2M375 454h2M387 443h2M392 460h2M371 465h2M376 449h2M373 437h2M376 434h2M382 453h2M395 437h2M396 457h2M391 416h2M369 468h2M359 467h2M367 438h2M354 443h2M363 453h2M356 464h2M360 464h2M367 458h2M371 428h2M357 435h2M351 457h2M348 434h2M391 623h2M382 623h2M502 623h2M484 623h2M385 623h2M402 623h2M495 623h2M356 623h2M404 623h2M498 623h2M474 623h2M447 623h2M490 623h2M450 623h2M346 623h2M357 623h2M378 623h2M354 623h2M397 623h2M364 623h2M440 623h2M394 623h2M469 623h2M393 623h2M399 623h2M381 623h2M375 623h2M412 623h2M421 623h2M350 623h2M460 623h2M376 623h2M373 623h2M351 623h2M400 623h2M466 623h2M442 623h2M365 623h2M476 623h2M405 623h2M497 623h2M481 623h2M428 623h2M441 623h2M494 623h2M488 623h2M388 623h2M419 623h2M480 623h2M377 623h2M389 623h2M433 623h2M479 623h2M344 564h2M344 615h2M345 612h2M345 569h2M345 592h2M344 603h2M345 606h2M345 582h2M345 618h2M344 554h2M345 610h2M344 562h2M345 598h2M345 550h2M344 611h2M345 599h2M344 561h2M345 564h2M345 566h2M345 600h2M344 597h2M345 622h2M345 551h2M490 427h2M496 437h2M505 457h2M538 450h2M598 408h2M519 426h2M526 496h2M529 542h2M518 542h2M420 408h2M412 468h2M357 515h2" stroke="#000" stroke-width="2" fill="none"/>
<rect x="343.2" y="362" width="260.8" height="263.5" fill="none" stroke="#000" stroke-width="1.3"/>
<rect x="345.3" y="401.2" width="77.3" height="89.6" fill="none" stroke="#000" stroke-width="2.5"/>
<line x1="335" y1="362" x2="343.2" y2="362" stroke="#000" stroke-width="1.3"/>
<text x="299" y="371.9" font-size="25.5" textLength="23.5" lengthAdjust="spacingAndGlyphs">10</text>
<text x="323.3" y="363.5" font-size="14.3">4</text>
<line x1="335" y1="428" x2="343.2" y2="428" stroke="#000" stroke-width="1.3"/>
<text x="299" y="439.2" font-size="25.5" textLength="23.5" lengthAdjust="spacingAndGlyphs">10</text>
<text x="323.3" y="430.8" font-size="14.3">3</text>
<line x1="335" y1="494.5" x2="343.2" y2="494.5" stroke="#000" stroke-width="1.3"/>
<text x="299" y="506.5" font-size="25.5" textLength="23.5" lengthAdjust="spacingAndGlyphs">10</text>
<text x="323.3" y="498.1" font-size="14.3">2</text>
<line x1="335" y1="560.5" x2="343.2" y2="560.5" stroke="#000" stroke-width="1.3"/>
<text x="299" y="573.8" font-size="25.5" textLength="23.5" lengthAdjust="spacingAndGlyphs">10</text>
<text x="323.3" y="565.4" font-size="14.3">1</text>
<line x1="335" y1="625.5" x2="343.2" y2="625.5" stroke="#000" stroke-width="1.3"/>
<text x="299" y="641.1" font-size="25.5" textLength="23.5" lengthAdjust="spacingAndGlyphs">10</text>
<text x="323.3" y="632.7" font-size="14.3">0</text>
<line x1="343.2" y1="625.5" x2="343.2" y2="633.5" stroke="#000" stroke-width="1.3"/>
<text x="331.7" y="661.8" font-size="24.5" textLength="23.5" lengthAdjust="spacingAndGlyphs">10</text>
<text x="356" y="653.4" font-size="14.3">0</text>
<line x1="408" y1="625.5" x2="408" y2="633.5" stroke="#000" stroke-width="1.3"/>
<text x="396.5" y="661.8" font-size="24.5" textLength="23.5" lengthAdjust="spacingAndGlyphs">10</text>
<text x="420.8" y="653.4" font-size="14.3">1</text>
<line x1="473" y1="625.5" x2="473" y2="633.5" stroke="#000" stroke-width="1.3"/>
<text x="461.5" y="661.8" font-size="24.5" textLength="23.5" lengthAdjust="spacingAndGlyphs">10</text>
<text x="485.8" y="653.4" font-size="14.3">2</text>
<line x1="540.2" y1="625.5" x2="540.2" y2="633.5" stroke="#000" stroke-width="1.3"/>
<text x="528.7" y="661.8" font-size="24.5" textLength="23.5" lengthAdjust="spacingAndGlyphs">10</text>
<text x="553" y="653.4" font-size="14.3">3</text>
<line x1="603.5" y1="625.5" x2="603.5" y2="633.5" stroke="#000" stroke-width="1.3"/>
<text x="592" y="661.8" font-size="24.5" textLength="23.5" lengthAdjust="spacingAndGlyphs">10</text>
<text x="616.3" y="653.4" font-size="14.3">4</text>
<text transform="translate(292.2 462) rotate(-90)" x="-23" y="0" font-size="24.5" textLength="46" lengthAdjust="spacingAndGlyphs">CD8</text>
<line x1="284.6" y1="515" x2="284.6" y2="680.3" stroke="#000" stroke-width="1.3"/>
<line x1="284" y1="680.3" x2="445" y2="680.3" stroke="#000" stroke-width="1.3"/>
<polygon points="284.6,500 291.35,520 284.6,515 277.85,520" fill="#000"/>
<polygon points="460,680.3 440,686.8 445,680.3 440,673.8" fill="#000"/>
<text x="463.5" y="688" font-size="24.5" textLength="75" lengthAdjust="spacingAndGlyphs">TCRαβ</text>
<line x1="424" y1="410.8" x2="703" y2="410.8" stroke="#000" stroke-width="1.3"/>
<polygon points="717.5,410.8 697.5,417.55 702.5,410.8 697.5,404.05" fill="#000"/>
<path d="M705 455h2M688 443h2M699 451h2M700 448h2M692 435h2M704 448h2M699 446h2M710 458h2M701 457h2M713 454h2M692 461h2M703 442h2M705 456h2M710 447h2M697 431h2M697 468h2M680 459h2M705 463h2M711 444h2M716 421h2M682 438h2M702 448h2M699 458h2M707 454h2M706 461h2M698 442h2M689 439h2M678 459h2M708 428h2M688 453h2M683 450h2M694 445h2M715 452h2M720 441h2M715 447h2M709 447h2M694 444h2M694 449h2M699 452h2M697 445h2M716 464h2M719 436h2M677 434h2M701 443h2M700 455h2M684 454h2M703 468h2M691 459h2M703 456h2M688 454h2M712 448h2M687 453h2M691 453h2M686 453h2M705 448h2M700 454h2M697 448h2M675 455h2M697 447h2M711 442h2M706 453h2M695 443h2M696 453h2M701 441h2M713 427h2M701 453h2M700 429h2M705 453h2M701 451h2M686 462h2M690 445h2M711 478h2M691 451h2M707 456h2M699 449h2M707 444h2M705 445h2M690 454h2M706 430h2M702 450h2M709 455h2M704 438h2M721 434h2M750 455h2M735 452h2M729 455h2M731 439h2M727 440h2M781 477h2M762 447h2M745 461h2M792 441h2M803 478h2M786 466h2M731 441h2M766 437h2M737 411h2M728 428h2M799 438h2M759 438h2M740 423h2M779 456h2M738 432h2M748 448h2M746 423h2M725 454h2M733 450h2M765 477h2M735 425h2M734 455h2M723 454h2M728 442h2M737 451h2M724 456h2M733 436h2M754 449h2M732 458h2M803 464h2M808 458h2M808 480h2M818 477h2M758 418h2M758 427h2M769 433h2M765 442h2M782 446h2M743 479h2M765 475h2M697 490h2M703 490h2M694 483h2" stroke="#000" stroke-width="2" fill="none"/>
<rect x="651.8" y="362" width="260.6" height="263.5" fill="none" stroke="#000" stroke-width="1.3"/>
<rect x="721.2" y="401.2" width="147.2" height="134.6" fill="none" stroke="#000" stroke-width="2.5"/>
<line x1="644.5" y1="362" x2="651.8" y2="362" stroke="#000" stroke-width="1.3"/>
<text x="611.3" y="371.9" font-size="25.5" textLength="23.5" lengthAdjust="spacingAndGlyphs">10</text>
<text x="635" y="363.5" font-size="14.3">4</text>
<line x1="644.5" y1="428" x2="651.8" y2="428" stroke="#000" stroke-width="1.3"/>
<text x="611.3" y="439.2" font-size="25.5" textLength="23.5" lengthAdjust="spacingAndGlyphs">10</text>
<text x="635" y="430.8" font-size="14.3">3</text>
<line x1="644.5" y1="494.5" x2="651.8" y2="494.5" stroke="#000" stroke-width="1.3"/>
<text x="611.3" y="506.5" font-size="25.5" textLength="23.5" lengthAdjust="spacingAndGlyphs">10</text>
<text x="635" y="498.1" font-size="14.3">2</text>
<line x1="644.5" y1="560.5" x2="651.8" y2="560.5" stroke="#000" stroke-width="1.3"/>
<text x="611.3" y="573.8" font-size="25.5" textLength="23.5" lengthAdjust="spacingAndGlyphs">10</text>
<text x="635" y="565.4" font-size="14.3">1</text>
<line x1="644.5" y1="625.5" x2="651.8" y2="625.5" stroke="#000" stroke-width="1.3"/>
<text x="611.3" y="641.1" font-size="25.5" textLength="23.5" lengthAdjust="spacingAndGlyphs">10</text>
<text x="635" y="632.7" font-size="14.3">0</text>
<line x1="651.8" y1="625.5" x2="651.8" y2="633.5" stroke="#000" stroke-width="1.3"/>
<text x="641.3" y="661.8" font-size="24.5" textLength="23.5" lengthAdjust="spacingAndGlyphs">10</text>
<text x="665.6" y="653.4" font-size="14.3">0</text>
<line x1="716.5" y1="625.5" x2="716.5" y2="633.5" stroke="#000" stroke-width="1.3"/>
<text x="706" y="661.8" font-size="24.5" textLength="23.5" lengthAdjust="spacingAndGlyphs">10</text>
<text x="730.3" y="653.4" font-size="14.3">1</text>
<line x1="781.8" y1="625.5" x2="781.8" y2="633.5" stroke="#000" stroke-width="1.3"/>
<text x="771.3" y="661.8" font-size="24.5" textLength="23.5" lengthAdjust="spacingAndGlyphs">10</text>
<text x="795.6" y="653.4" font-size="14.3">2</text>
<line x1="849" y1="625.5" x2="849" y2="633.5" stroke="#000" stroke-width="1.3"/>
<text x="838.5" y="661.8" font-size="24.5" textLength="23.5" lengthAdjust="spacingAndGlyphs">10</text>
<text x="862.8" y="653.4" font-size="14.3">3</text>
<line x1="912.3" y1="625.5" x2="912.3" y2="633.5" stroke="#000" stroke-width="1.3"/>
<text x="901.8" y="661.8" font-size="24.5" textLength="23.5" lengthAdjust="spacingAndGlyphs">10</text>
<text x="926.1" y="653.4" font-size="14.3">4</text>
<line x1="651.3" y1="681.3" x2="756" y2="681.3" stroke="#000" stroke-width="1.3"/>
<polygon points="770.8,681.3 750.8,687.8 755.8,681.3 750.8,674.8" fill="#000"/>
<text x="779.5" y="688" font-size="24.5" textLength="70.3" lengthAdjust="spacingAndGlyphs">CD161</text>
<text x="1427.6" y="17.5" font-size="25" text-anchor="middle" font-weight="bold" textLength="90" lengthAdjust="spacingAndGlyphs">NK cells</text>
<rect x="1088.35" y="172.35" width="59.6" height="325.7" fill="none" stroke="#fe0000" stroke-width="1.7"/>
<line x1="1100" y1="165.8" x2="1135" y2="165.8" stroke="#fe0000" stroke-width="1.6"/>
<line x1="1117.5" y1="165.8" x2="1117.5" y2="171.5" stroke="#fe0000" stroke-width="1.6"/>
<rect x="1162" y="295.8" width="60.5" height="202.5" fill="#fe0000"/>
<rect x="1176" y="293.8" width="35" height="2.2" fill="#fe0000"/>
<rect x="1255.85" y="282.85" width="58.6" height="215.2" fill="none" stroke="#0048ff" stroke-width="1.7"/>
<line x1="1267.7" y1="274.3" x2="1302.3" y2="274.3" stroke="#0048ff" stroke-width="1.6"/>
<line x1="1285" y1="274.3" x2="1285" y2="282" stroke="#0048ff" stroke-width="1.6"/>
<rect x="1330.8" y="466" width="60.2" height="32.3" fill="#0048ff"/>
<rect x="1344" y="464.2" width="35.5" height="2" fill="#0048ff"/>
<rect x="1467.65" y="287.85" width="59.5" height="210.2" fill="none" stroke="#fe0000" stroke-width="1.7"/>
<rect x="1481.3" y="285" width="34.5" height="2.5" fill="#fe0000"/>
<rect x="1544.3" y="238" width="60.7" height="260.3" fill="#fe0000"/>
<line x1="1556.8" y1="230" x2="1591.8" y2="230" stroke="#fe0000" stroke-width="1.6"/>
<line x1="1574.3" y1="230" x2="1574.3" y2="238" stroke="#fe0000" stroke-width="1.6"/>
<rect x="1635.35" y="391.65" width="60.1" height="106.4" fill="none" stroke="#0048ff" stroke-width="1.7"/>
<line x1="1648.2" y1="385.3" x2="1683.4" y2="385.3" stroke="#0048ff" stroke-width="1.6"/>
<line x1="1665.8" y1="385.3" x2="1665.8" y2="390.8" stroke="#0048ff" stroke-width="1.6"/>
<rect x="1711.3" y="187" width="60" height="311.3" fill="#0048ff"/>
<line x1="1724.4" y1="177" x2="1759.6" y2="177" stroke="#0048ff" stroke-width="1.6"/>
<line x1="1742" y1="177" x2="1742" y2="187" stroke="#0048ff" stroke-width="1.6"/>
<line x1="1071.8" y1="31.5" x2="1790.8" y2="31.5" stroke="#000" stroke-width="1.5"/>
<line x1="1071.8" y1="30.75" x2="1071.8" y2="498.3" stroke="#000" stroke-width="1.5"/>
<line x1="1790.8" y1="30.75" x2="1790.8" y2="498.3" stroke="#000" stroke-width="1.5"/>
<line x1="1060" y1="498.3" x2="1421.3" y2="498.3" stroke="#000" stroke-width="1.5"/>
<line x1="1433.8" y1="498.3" x2="1801.8" y2="498.3" stroke="#000" stroke-width="1.5"/>
<line x1="1421.3" y1="489.3" x2="1421.3" y2="508.8" stroke="#000" stroke-width="1.5"/>
<line x1="1433.8" y1="489.3" x2="1433.8" y2="508.8" stroke="#000" stroke-width="1.5"/>
<line x1="1117.8" y1="498.3" x2="1117.8" y2="509.5" stroke="#000" stroke-width="1.5"/>
<line x1="1193.3" y1="498.3" x2="1193.3" y2="509.5" stroke="#000" stroke-width="1.5"/>
<line x1="1284.8" y1="498.3" x2="1284.8" y2="509.5" stroke="#000" stroke-width="1.5"/>
<line x1="1360.3" y1="498.3" x2="1360.3" y2="509.5" stroke="#000" stroke-width="1.5"/>
<line x1="1498" y1="498.3" x2="1498" y2="509.5" stroke="#000" stroke-width="1.5"/>
<line x1="1574.3" y1="498.3" x2="1574.3" y2="509.5" stroke="#000" stroke-width="1.5"/>
<line x1="1665.8" y1="498.3" x2="1665.8" y2="509.5" stroke="#000" stroke-width="1.5"/>
<line x1="1740.3" y1="498.3" x2="1740.3" y2="509.5" stroke="#000" stroke-width="1.5"/>
<line x1="1060" y1="81.75" x2="1071.8" y2="81.75" stroke="#000" stroke-width="1.5"/>
<text x="1023.6" y="87.1" font-size="26" textLength="31.2" lengthAdjust="spacingAndGlyphs">2.5</text>
<line x1="1060" y1="165.75" x2="1071.8" y2="165.75" stroke="#000" stroke-width="1.5"/>
<text x="1023.6" y="172.1" font-size="26" textLength="31.2" lengthAdjust="spacingAndGlyphs">2.0</text>
<line x1="1060" y1="248.25" x2="1071.8" y2="248.25" stroke="#000" stroke-width="1.5"/>
<text x="1023.6" y="257.1" font-size="26" textLength="31.2" lengthAdjust="spacingAndGlyphs">1.5</text>
<line x1="1060" y1="331.75" x2="1071.8" y2="331.75" stroke="#000" stroke-width="1.5"/>
<text x="1023.6" y="342.1" font-size="26" textLength="31.2" lengthAdjust="spacingAndGlyphs">1.0</text>
<line x1="1060" y1="415" x2="1071.8" y2="415" stroke="#000" stroke-width="1.5"/>
<text x="1023.6" y="427.1" font-size="26" textLength="31.2" lengthAdjust="spacingAndGlyphs">0.5</text>
<text x="1041.8" y="512.1" font-size="26" textLength="13" lengthAdjust="spacingAndGlyphs">0</text>
<line x1="1790.8" y1="81.25" x2="1801.8" y2="81.25" stroke="#000" stroke-width="1.5"/>
<text x="1807.8" y="87.1" font-size="26" textLength="31.6" lengthAdjust="spacingAndGlyphs">2.5</text>
<line x1="1790.8" y1="165.25" x2="1801.8" y2="165.25" stroke="#000" stroke-width="1.5"/>
<text x="1807.8" y="172.1" font-size="26" textLength="31.6" lengthAdjust="spacingAndGlyphs">2.0</text>
<line x1="1790.8" y1="247.5" x2="1801.8" y2="247.5" stroke="#000" stroke-width="1.5"/>
<text x="1807.8" y="257.1" font-size="26" textLength="31.6" lengthAdjust="spacingAndGlyphs">1.5</text>
<line x1="1790.8" y1="331.25" x2="1801.8" y2="331.25" stroke="#000" stroke-width="1.5"/>
<text x="1807.8" y="342.1" font-size="26" textLength="31.6" lengthAdjust="spacingAndGlyphs">1.0</text>
<line x1="1790.8" y1="415" x2="1801.8" y2="415" stroke="#000" stroke-width="1.5"/>
<text x="1807.8" y="427.1" font-size="26" textLength="31.6" lengthAdjust="spacingAndGlyphs">0.5</text>
<text x="1808" y="512.1" font-size="26" textLength="13" lengthAdjust="spacingAndGlyphs">0</text>
<line x1="1117.8" y1="78" x2="1359" y2="78" stroke="#000" stroke-width="1.5"/>
<line x1="1117.8" y1="65" x2="1117.8" y2="91" stroke="#000" stroke-width="1.5"/>
<line x1="1280.5" y1="65" x2="1280.5" y2="91" stroke="#000" stroke-width="1.5"/>
<line x1="1359" y1="65" x2="1359" y2="91" stroke="#000" stroke-width="1.5"/>
<line x1="1117.8" y1="120.3" x2="1359" y2="120.3" stroke="#000" stroke-width="1.5"/>
<line x1="1117.8" y1="107.3" x2="1117.8" y2="133.3" stroke="#000" stroke-width="1.5"/>
<line x1="1196.8" y1="107.3" x2="1196.8" y2="133.3" stroke="#000" stroke-width="1.5"/>
<line x1="1359" y1="107.3" x2="1359" y2="133.3" stroke="#000" stroke-width="1.5"/>
<text x="1168.8" y="78.04" font-size="33" text-anchor="middle" stroke="#000" stroke-width="0.35">*</text>
<text x="1193.3" y="78.04" font-size="33" text-anchor="middle" stroke="#000" stroke-width="0.35">*</text>
<text x="1218.3" y="78.04" font-size="33" text-anchor="middle" stroke="#000" stroke-width="0.35">*</text>
<text x="1295.5" y="78.04" font-size="33" text-anchor="middle" stroke="#000" stroke-width="0.35">*</text>
<text x="1320" y="78.04" font-size="33" text-anchor="middle" stroke="#000" stroke-width="0.35">*</text>
<text x="1345" y="78.04" font-size="33" text-anchor="middle" stroke="#000" stroke-width="0.35">*</text>
<text x="1132.5" y="121.14" font-size="33" text-anchor="middle" stroke="#000" stroke-width="0.35">*</text>
<text x="1156.8" y="121.14" font-size="33" text-anchor="middle" stroke="#000" stroke-width="0.35">*</text>
<text x="1182" y="121.14" font-size="33" text-anchor="middle" stroke="#000" stroke-width="0.35">*</text>
<text x="1256.3" y="121.14" font-size="33" text-anchor="middle" stroke="#000" stroke-width="0.35">*</text>
<text x="1280.5" y="121.14" font-size="33" text-anchor="middle" stroke="#000" stroke-width="0.35">*</text>
<text x="1305.5" y="121.14" font-size="33" text-anchor="middle" stroke="#000" stroke-width="0.35">*</text>
<line x1="1498" y1="76.3" x2="1739" y2="76.3" stroke="#000" stroke-width="1.5"/>
<line x1="1498" y1="63" x2="1498" y2="89.6" stroke="#000" stroke-width="1.5"/>
<line x1="1661.8" y1="63" x2="1661.8" y2="89.6" stroke="#000" stroke-width="1.5"/>
<line x1="1739" y1="63" x2="1739" y2="89.6" stroke="#000" stroke-width="1.5"/>
<line x1="1498" y1="118.8" x2="1739" y2="118.8" stroke="#000" stroke-width="1.5"/>
<line x1="1498" y1="105.5" x2="1498" y2="132.1" stroke="#000" stroke-width="1.5"/>
<line x1="1576.5" y1="105.5" x2="1576.5" y2="132.1" stroke="#000" stroke-width="1.5"/>
<line x1="1739" y1="105.5" x2="1739" y2="132.1" stroke="#000" stroke-width="1.5"/>
<text x="1559.3" y="78.04" font-size="33" text-anchor="middle" stroke="#000" stroke-width="0.35">*</text>
<text x="1583.3" y="78.04" font-size="33" text-anchor="middle" stroke="#000" stroke-width="0.35">*</text>
<text x="1608.5" y="78.04" font-size="33" text-anchor="middle" stroke="#000" stroke-width="0.35">*</text>
<text x="1679.3" y="78.04" font-size="33" text-anchor="middle" stroke="#000" stroke-width="0.35">*</text>
<text x="1703.3" y="78.04" font-size="33" text-anchor="middle" stroke="#000" stroke-width="0.35">*</text>
<text x="1728.3" y="78.04" font-size="33" text-anchor="middle" stroke="#000" stroke-width="0.35">*</text>
<text x="1538.8" y="121.14" font-size="33" text-anchor="middle" stroke="#000" stroke-width="0.35">*</text>
<text x="1662.3" y="121.14" font-size="33" text-anchor="middle" stroke="#000" stroke-width="0.35">*</text>
<line x1="1707.5" y1="154.6" x2="1727.77" y2="154.6" stroke="#000" stroke-width="2.6"/>
<line x1="1717.63" y1="144.35" x2="1717.63" y2="164.85" stroke="#000" stroke-width="2.6"/>
<line x1="1730.77" y1="154.6" x2="1751.03" y2="154.6" stroke="#000" stroke-width="2.6"/>
<line x1="1740.9" y1="144.35" x2="1740.9" y2="164.85" stroke="#000" stroke-width="2.6"/>
<line x1="1754.03" y1="154.6" x2="1774.3" y2="154.6" stroke="#000" stroke-width="2.6"/>
<line x1="1764.17" y1="144.35" x2="1764.17" y2="164.85" stroke="#000" stroke-width="2.6"/>
<line x1="1463" y1="256.3" x2="1483.33" y2="256.3" stroke="#000" stroke-width="2.6"/>
<line x1="1473.17" y1="246.05" x2="1473.17" y2="266.55" stroke="#000" stroke-width="2.6"/>
<line x1="1486.33" y1="256.3" x2="1506.67" y2="256.3" stroke="#000" stroke-width="2.6"/>
<line x1="1496.5" y1="246.05" x2="1496.5" y2="266.55" stroke="#000" stroke-width="2.6"/>
<line x1="1509.67" y1="256.3" x2="1530" y2="256.3" stroke="#000" stroke-width="2.6"/>
<line x1="1519.83" y1="246.05" x2="1519.83" y2="266.55" stroke="#000" stroke-width="2.6"/>
<line x1="1540.5" y1="207" x2="1560.67" y2="207" stroke="#000" stroke-width="2.6"/>
<line x1="1550.58" y1="196.75" x2="1550.58" y2="217.25" stroke="#000" stroke-width="2.6"/>
<line x1="1563.67" y1="207" x2="1583.83" y2="207" stroke="#000" stroke-width="2.6"/>
<line x1="1573.75" y1="196.75" x2="1573.75" y2="217.25" stroke="#000" stroke-width="2.6"/>
<line x1="1586.83" y1="207" x2="1607" y2="207" stroke="#000" stroke-width="2.6"/>
<line x1="1596.92" y1="196.75" x2="1596.92" y2="217.25" stroke="#000" stroke-width="2.6"/>
<line x1="1630.5" y1="360.6" x2="1650.83" y2="360.6" stroke="#000" stroke-width="2.6"/>
<line x1="1640.67" y1="350.35" x2="1640.67" y2="370.85" stroke="#000" stroke-width="2.6"/>
<line x1="1653.83" y1="360.6" x2="1674.17" y2="360.6" stroke="#000" stroke-width="2.6"/>
<line x1="1664" y1="350.35" x2="1664" y2="370.85" stroke="#000" stroke-width="2.6"/>
<line x1="1677.17" y1="360.6" x2="1697.5" y2="360.6" stroke="#000" stroke-width="2.6"/>
<line x1="1687.33" y1="350.35" x2="1687.33" y2="370.85" stroke="#000" stroke-width="2.6"/>
<text x="1087.5" y="538.3" font-size="24" textLength="62" lengthAdjust="spacingAndGlyphs">Young</text>
<text x="1166" y="538.3" font-size="24" textLength="51.8" lengthAdjust="spacingAndGlyphs">Aged</text>
<text x="1255.5" y="538.3" font-size="24" textLength="62.3" lengthAdjust="spacingAndGlyphs">Young</text>
<text x="1334.8" y="538.3" font-size="24" textLength="51.2" lengthAdjust="spacingAndGlyphs">Aged</text>
<text x="1469" y="538.3" font-size="24" textLength="63" lengthAdjust="spacingAndGlyphs">Young</text>
<text x="1549.3" y="538.3" font-size="24" textLength="51" lengthAdjust="spacingAndGlyphs">Aged</text>
<text x="1637.3" y="538.3" font-size="24" textLength="63" lengthAdjust="spacingAndGlyphs">Young</text>
<text x="1717.8" y="538.3" font-size="24" textLength="51.2" lengthAdjust="spacingAndGlyphs">Aged</text>
<line x1="1085.8" y1="552.8" x2="1223.8" y2="552.8" stroke="#000" stroke-width="2.1"/>
<line x1="1254.3" y1="552.8" x2="1392" y2="552.8" stroke="#000" stroke-width="2.1"/>
<line x1="1468" y1="552.8" x2="1606.3" y2="552.8" stroke="#000" stroke-width="2.1"/>
<line x1="1637" y1="552.8" x2="1774.5" y2="552.8" stroke="#000" stroke-width="2.1"/>
<text x="1138.5" y="577.5" font-size="24" textLength="33" lengthAdjust="spacingAndGlyphs">DA</text>
<text x="1306" y="577.5" font-size="24" textLength="34.3" lengthAdjust="spacingAndGlyphs">AO</text>
<text x="1520.5" y="577.5" font-size="24" textLength="33" lengthAdjust="spacingAndGlyphs">DA</text>
<text x="1688.5" y="577.5" font-size="24" textLength="34.3" lengthAdjust="spacingAndGlyphs">AO</text>
<text x="1129.5" y="607.5" font-size="25" textLength="219.3" lengthAdjust="spacingAndGlyphs" font-weight="bold">Non-immunized rats</text>
<text x="1539.5" y="607.5" font-size="25" textLength="164.8" lengthAdjust="spacingAndGlyphs" font-weight="bold">Inductive phase</text>
<text transform="translate(994.8 269.2) rotate(-90)" x="-117.5" y="0" font-size="25.5" textLength="235" lengthAdjust="spacingAndGlyphs" font-weight="bold">Number of cells (x10<tspan font-size="15" dy="-8">3</tspan><tspan dy="8">)</tspan></text>
<text transform="translate(1870.6 268.5) rotate(90)" x="-116.5" y="0" font-size="25.5" textLength="233" lengthAdjust="spacingAndGlyphs" font-weight="bold">Number of cells (x10<tspan font-size="15" dy="-8">5</tspan><tspan dy="8">)</tspan></text>
<text x="239.8" y="801" font-size="42" font-weight="bold">B</text>
<text x="443.5" y="790" font-size="25" textLength="65" lengthAdjust="spacingAndGlyphs" font-weight="bold">Young</text>
<text x="756" y="790" font-size="25" textLength="52.8" lengthAdjust="spacingAndGlyphs" font-weight="bold">Aged</text>
<text x="556.5" y="775" font-size="25" textLength="130.3" lengthAdjust="spacingAndGlyphs" font-weight="bold">NK cell gate</text>
<clipPath id="cp1"><rect x="341.3" y="802.8" width="260.7" height="263"/></clipPath>
<g clip-path="url(#cp1)">
<path d="M445.3 1093l-6-0.2l-6-3.2l-8-6.8l-3.2-4l-4.3-10l-11.1-22l-2.8-16l1-8l6.2-20l3-6l0.8-6l-2-28l-2.7-8l-3.1-14l0.2-16l6.9-20l2.7-4l10.4-10.4l2-1.1l8-1.7l14 1.8l12 7.8l4.2 5.6l5.8 5.6l4.7 8.4l4.2 10l1.7 16l-1 10l-6.3 16l-0.8 6l-4.5 15.9l-0.7 6.1l2.6 14l1.9 20l-2.9 22l-2.8 6l-1.5 8l-7.8 18l-4.8 4.8zM443.3 1089l-4-0.3l-3.6-1.9l-8.4-7.3l-2-2.7l-14.9-32l-2.5-14l2.2-6l0.8-8l3-6l1.3-6l3.9-8l0.7-6l-1.2-24l-3.9-12l0.1-6l-4-14l0.5-10l5.1-14l5.4-8l9.5-6.9l10-2l4 0.4l8 2.4l8 5.3l12.7 16.8l4 10l0.7 4l-0.4 16l-5.5 18l-7.3 30l0.3 4l2.3 6l3 18l-2.3 20l-3.5 8.2l-1.3 11.8l-2 8l-4.2 8l-2.5 3l-4 2.8zM449.3 1085.1l-4 1.2l-6-0.1l-2.4-1.4l-8.3-8l-5-8l-5.1-14l-5.2-10l-0.7-6l-1.6-6l0-2l2.3-6.8l0.6-7.2l3.2-6l0.8-6l5.4-10l-1-18l0.2-10l-9-32l0.7-10l5.6-14l3.5-4.4l8-6.3l4-2l4-0.7l6 0.5l12.1 4.9l14.5 18l2.9 8l1.3 10l-1.6 14l-3 6l-5.2 24l-5 16l2.7 8l4.3 18l-1.6 12l-2 4l0.1 4l-1.8 6l-2.6 20l-5.7 10zM449.3 1083l-4 1.2l-6-0.3l-8-6.9l-4.7-6.2l-2.2-4l-4.3-14l-4.4-8l-0.8-6l-1.9-6l3.4-16l2.9-5.6l1.1-6.4l5.5-8l0.4-2l-1.7-10l0.1-8l1.4-8l-0.2-2l-10.2-32l0.9-10l0.7-2l3.1-4l1-6l1.6-2l9-8l5.3-2.7l8 1.2l8 2.7l10 9.5l5.9 7.3l2.8 6l1.9 12l-1.2 12l-4.1 8l-4.5 24l-5.3 14l0.3 4l4.3 14l2.5 12l-1.5 8l-3.4 6l-1.9 28l-1.4 4l-3.7 6zM449.3 1081.1l-4 1.3l-6-0.8l-2.4-2.8l-5.6-3.9l-3.2-4.1l-2.1-4l-3.9-14l-4.3-8l-0.4-6l-2.7-6l3.2-14l2.7-6l1.6-6l6.6-8l0.2-2l-2.3-8l-0.5-8l0.7-6l1.9-6l-0.3-2l-4.3-10l-6.3-20l-0.5-4l1.4-8l3.7-6l0.3-4l1.1-2l5.4-3.5l4-4.7l4-1.8l8 1.3l6 2.1l10 7.7l5.5 6.9l3.1 6l1.1 4l0.3 10l-1.2 10l-3.9 8l-3.9 24l-5.8 14l0.6 6l3.1 8l3.8 14l-0.1 4l-1.4 6l-4 8l-1.1 8l0.5 4l-0.9 16l-5 8zM449.3 1079.3l-4 1.4l-4-0.2l-4-3.9l-4-1.4l-3.9-4.4l-1.9-4l-0.6-6l-2.9-8l-4.1-8l-0.2-6l-3-6l2.9-14l3.8-10l7.7-8l0.7-2l-3.7-10l-0.5-8l0.4-4l3.1-10l-5.1-10l-4.7-14l-2.2-10l1.7-8l3.2-6l1.3-4.8l5.2-3.2l3.9-4l4.9-1.2l12 2.9l8.6 6.3l4.9 6l4.6 10l-0.4 14l-1.3 6l-3.3 6l-2.2 8l-1.4 18l-5.9 12l-2 6l2.2 6l3.6 4l1.1 8l1.9 4l0.8 4l-1.5 8l-3.9 6l-1.7 8l-0.2 10l0.9 10l-4.5 8zM447.3 1078.9l-4 0.4l-2-0.7l-4-3.5l-4-1.1l-2.9-3.2l-1.4-4l-0.8-8l-5.5-12l-1.4-8.1l-2.4-5.9l2.2-14l3.2-8l1.1-2l8.3-8l0.4-2l-4.6-10l-0.6-8l1.4-6l3-6.3l1.6-1.7l-0.3-2l-3.3-1.8l-2-2.4l-4-10.2l-4.8-17.6l2.2-8l4.4-10l8.2-5.7l4-0.9l10 1.4l6 3.2l4.7 4l3.1 4l5.1 12l-0.2 10l-2.1 8l-5.5 10l-5.7 2l-0.7 2l3.3 1.2l1.4 2.8l1.2 10l-0.4 4l-7.6 14l-5.3 4l5.3 6l5.4 4.2l0.9 3.8l-0.9 4l2.7 4l1.1 4l-1.5 8l-4.2 6l-2.3 8l-0.1 8l1.6 6l0.1 6l-4.8 8zM447.3 1077.4l-4 0.5l-4-3.3l-6-1.7l-1.9-2.1l-1.3-4l-0.5-10l-5.4-10l-3.7-14l1.5-12l4-10l5.3-5.6l3.6-2.4l4.7-6l-4.3-1.3l-3.6-4.7l-1.7-10l0.8-4l3.4-6l6.2-4l0.6-2l-1.7-2l-4-0.1l-4-2.2l-1.7-5.7l-3.2-6l-4.5-16l2.4-6l0.7-4l2.8-6l7.5-4.8l6-1.7l10 1.6l8 6.2l3.5 4.7l3.6 8l0.7 4l-0.3 8l-2.5 8l-5 6.9l-6 3.6l-3.9 3.5l0.3 2l6.4 2l2.6 8l-0.3 6l-7.1 12.4l-2 1.6l-7 2l1 2l13.4 12l-1.1 6l2.7 4l1.6 6l-0.9 4l-4.1 6l-3.7 10l0.2 8l2.5 8l-0.5 4l-3.5 6z" fill="none" stroke="#000" stroke-width="2.3" stroke-linejoin="round"/>
<path d="M447.3 997l-2 0.3l-10-3.1l-2.9-3.4l-2-10l0.9-4l4-6.2l7.1-3.8l0-2l-3.1-3l-6-0.5l-2-2.4l-0.6-4.1l-3.7-6l-4.5-16l2.5-6l0.6-4l3.2-6l6.5-3.9l6-1.9l6 0.4l4 1.2l8 6.2l2.9 4l3.6 8l0.9 4l-0.8 10l-2.3 6l-4.3 5.7l-11.6 8.3l0.2 2l7.4 2.4l2.4 5.6l0.8 6l-3.6 8l-3.6 5.5zM445.3 1077.5l-2-0.2l-4-3.2l-5.4-1.3l-2-2l-1.3-4l-0.3-10l-4.7-8l-4.5-16l1.4-12l4.2-10l4.6-4.9l8-6.3l2 0.6l14.8 12.6l-1.1 6l2.7 4l1.7 6l-1 4l-4.1 6l-3.8 10l0.3 8l2.7 8l-0.6 4l-3.6 6l-2 2z" fill="#000" stroke="#000" stroke-width="2.3" stroke-linejoin="round"/>
<ellipse cx="446.3" cy="937" rx="4.6" ry="9.5" fill="#fff"/>
<ellipse cx="446.3" cy="937" rx="2.39" ry="5.23" fill="none" stroke="#000" stroke-width="1.1"/>
<ellipse cx="445.3" cy="980.5" rx="3.2" ry="4.2" fill="#fff"/>
<ellipse cx="439.8" cy="1030.5" rx="4.2" ry="6.2" fill="#fff"/>
<ellipse cx="439.8" cy="1030.5" rx="2.18" ry="3.41" fill="none" stroke="#000" stroke-width="1.1"/>
</g>
<rect x="341.3" y="802.8" width="260.7" height="263" fill="none" stroke="#000" stroke-width="1.5"/>
<rect x="378.5" y="865.5" width="113.7" height="103.3" fill="none" stroke="#fe0000" stroke-width="1.5"/>
<text x="416" y="856.3" font-size="24" textLength="41.5" lengthAdjust="spacingAndGlyphs">53%</text>
<line x1="332.5" y1="802.8" x2="341.3" y2="802.8" stroke="#000" stroke-width="1.4"/>
<text x="297" y="812.8" font-size="24.5" textLength="23.5" lengthAdjust="spacingAndGlyphs">10</text>
<text x="321.3" y="804.4" font-size="14.3">4</text>
<line x1="332.5" y1="867.3" x2="341.3" y2="867.3" stroke="#000" stroke-width="1.4"/>
<text x="297" y="877.3" font-size="24.5" textLength="23.5" lengthAdjust="spacingAndGlyphs">10</text>
<text x="321.3" y="868.9" font-size="14.3">3</text>
<line x1="332.5" y1="934.8" x2="341.3" y2="934.8" stroke="#000" stroke-width="1.4"/>
<text x="297" y="944.8" font-size="24.5" textLength="23.5" lengthAdjust="spacingAndGlyphs">10</text>
<text x="321.3" y="936.4" font-size="14.3">2</text>
<line x1="332.5" y1="1001" x2="341.3" y2="1001" stroke="#000" stroke-width="1.4"/>
<text x="297" y="1011" font-size="24.5" textLength="23.5" lengthAdjust="spacingAndGlyphs">10</text>
<text x="321.3" y="1002.6" font-size="14.3">1</text>
<line x1="332.5" y1="1065.8" x2="341.3" y2="1065.8" stroke="#000" stroke-width="1.4"/>
<text x="297" y="1075.8" font-size="24.5" textLength="23.5" lengthAdjust="spacingAndGlyphs">10</text>
<text x="321.3" y="1067.4" font-size="14.3">0</text>
<line x1="340.8" y1="1065.8" x2="340.8" y2="1073.8" stroke="#000" stroke-width="1.4"/>
<line x1="391.8" y1="1065.8" x2="391.8" y2="1073.8" stroke="#000" stroke-width="1.4"/>
<line x1="443.3" y1="1065.8" x2="443.3" y2="1073.8" stroke="#000" stroke-width="1.4"/>
<line x1="492.5" y1="1065.8" x2="492.5" y2="1073.8" stroke="#000" stroke-width="1.4"/>
<line x1="546.3" y1="1065.8" x2="546.3" y2="1073.8" stroke="#000" stroke-width="1.4"/>
<line x1="597.5" y1="1065.8" x2="597.5" y2="1073.8" stroke="#000" stroke-width="1.4"/>
<text x="334.5" y="1095.5" font-size="24" textLength="11.5" lengthAdjust="spacingAndGlyphs">0</text>
<text x="375" y="1095.5" font-size="24" textLength="34.8" lengthAdjust="spacingAndGlyphs">200</text>
<text x="426" y="1095.5" font-size="24" textLength="33.8" lengthAdjust="spacingAndGlyphs">400</text>
<text x="476" y="1095.5" font-size="24" textLength="33.8" lengthAdjust="spacingAndGlyphs">600</text>
<text x="529.5" y="1095.5" font-size="24" textLength="34.8" lengthAdjust="spacingAndGlyphs">800</text>
<text x="574.5" y="1095.5" font-size="24" textLength="44.8" lengthAdjust="spacingAndGlyphs">1000</text>
<clipPath id="cp2"><rect x="651.5" y="802.8" width="260.5" height="263"/></clipPath>
<g clip-path="url(#cp2)">
<path d="M759.5 1064.9l-10-1.9l-10-4.5l-4.3-3.7l-7.2-10l-2.6-8l-0.6-6l1.6-6l3.6-8l7.4-12l2.1-4.8l1.7-15.2l-1.5-14l-5.7-20l-0.4-4l-5.8-18l-0.4-8l3.9-14l2.2-3.5l4-3.9l8-6.5l4-2.3l12-3l6-0.2l4 0.7l8 3.2l8.4 5.5l8.3 10l4.2 12l0.3 6l-4.2 16l-3.6 8l-2.2 8l-11.3 22l-1.9 16l2.2 8l9.8 10.9l3.7 7.1l1.4 10l-1.2 8l-3.9 7.5l-6 7.4l-12 8l-6 2.2zM765.5 1059.2l-6 1.5l-4-0.4l-14-5.1l-2-1.4l-3.1-3l-5.6-8l-2.1-12l4.4-12l8.7-14l3.8-8l0.8-8l-0.7-12l-5.1-18l-1.6-8l0.3-4l-3.5-6l-3.6-12l0-6l1.5-10l3.4-6l10.4-10.4l10-3.3l8-1.3l4 0.4l8 3l8.4 5.6l4.6 6l5.9 14l-3.7 20l-4.1 8l-3.7 12l-10.7 18l-1.9 12l0.2 8l1 4l4 3.5l12.3 16.5l0.9 4l-0.5 10l-1.6 4l-7.9 10l-7.2 6.1zM763.5 1056.8l-4 0.8l-6-0.3l-13.5-6.5l-6.6-8l-2.2-12l4.9-12l14.1-22l1.2-4l-1.3-12l-2.5-10l-5.3-16l-0.1-8l-7-18l1.3-14l1.8-4l3.2-4l8-7.5l10-3.8l6-0.5l4 0.3l8 3.4l8 5.9l2 2.2l4.7 10l1.4 6l-3 16l-4.9 10l-2.7 10l-4.2 8l-9.2 12l-1.4 4l-2.8 4l5 18l5.7 4l11.7 16l0.5 6l-0.7 6l-3.2 6l-10.9 11.2l-2 1.3zM761.5 1055.1l-8 0.1l-12-6l-4.3-4.4l-2.4-4l-1.8-10l6.8-14l8-10l3.7-6l3.6-2l1.1-2l-0.8-10l0.8-6l-3.8-4l-1.6-6l-4.1-8l-2.4-8l-0.1-8l-2.1-6l-0.6-5l-2.9-5l-1.2-4l1.7-12l4.4-6.8l6-5.7l10-4.6l4-0.7l6 0.9l6 2.5l9.1 6.4l1.8 2l3.7 8l1.2 6l-4.1 18l-3.2 6l-1.8 8l-4.4 10l-12.3 14.7l-4 3.3l-0.8 4l1 10l3.4 4l2.4 5l2 2.2l6 3.3l9 11.5l1.5 4l0.1 8l-1.3 4l-2.5 4l-10.4 10l-2.4 1.1zM763.5 977.4l-2 0.4l-6-2.7l-1.9-4.3l-4.6-6l-2.9-10l-0.3-8l-2.3-10.3l-2.9-5.7l-1.3-6l1-6l3.6-8l5.8-6l9.8-5.2l4-1l10 3l10 6.5l2 2.5l2.9 6.2l0.8 6l-0.9 8l-3.1 6l-0.5 4l-2.7 6l-1.7 8l-4.4 10zM765.5 1052.8l-6 0.9l-6-0.3l-10-5.2l-4-3l-1.8-2.4l-3.1-10l0.6-4l2.8-4l2.4-6l4.3-6l5.8-4l3.6-4l7.4-2.1l2 1.3l4 5.9l6.7 2.9l8.4 10l1.9 10l-1.5 6l-3.5 5l-10 8.2zM765.5 973.2l-2 1.1l-2 0.1l-4-1.4l-6.8-8.2l-3.6-12l0.1-8l-6.3-20l0.3-4l4.3-8.8l4-3.1l2-2.8l9.6-5.3l2.4-0.5l8 2.2l10.5 6.3l1.9 2l2.1 4l1.3 6l-0.6 10l-3.4 6l-0.4 4l-2.6 6l-2.3 10l-4.1 8zM767.5 1050.9l-8 1.5l-4-0.1l-4-1.3l-10-6l-2-2l-3.5-10.2l0.9-4l8-14l12.6-7.9l4 0.1l4 4.2l8 3.2l6 6.5l2.2 3.9l1.3 8l-1.5 5.6l-4 5.3zM763.5 971l-4-0.3l-2-1l-4.9-4.9l-4.2-12l0.5-8l-5.9-16l-0.8-6l0.5-2l4.5-8l2.7-2l3.2-4l10.4-4.8l6 1.5l12 6.9l3.8 6.4l0.6 4l-0.4 9l-3.5 7l-0.6 4l-2.7 6l-2.9 12l-2.3 4.1l-4 4.7l-2 1.9zM761.5 1051.1l-8-0.5l-12-7.4l-1.6-2.4l-2.6-8l0.1-2l8.1-14.2l2-2.1l10-5l2-0.1l8 4.6l6 2.2l6 6.6l2.2 10l-0.8 4l-3.4 5l-10 7.6zM767.5 967.7l-2 0.9l-6-0.5l-4.4-3.3l-5.4-12l-0.4-2l1.1-6l-2.9-6.3l-3.8-13.7l0.6-4l3.2-6l6-6.5l10-4.4l2-0.1l11.2 5l2.8 2l4 5.7l1.2 4.3l-0.5 8l-3.1 6l-0.9 6l-3 6l-1.8 10l-3.2 6zM765.5 1048.8l-6 1.6l-6-0.9l-12-8.3l-2.4-6.4l-0.2-4l6.6-11.2l4-4.5l6-3.3l4-0.4l2 0.6l6 3.3l4 1.2l6.4 6.3l1 2l1.7 8l-1.1 4l-2.8 4z" fill="none" stroke="#000" stroke-width="2.3" stroke-linejoin="round"/>
<path d="M767.5 967.1l-2 0.8l-6-0.7l-3.4-2.4l-5.8-12l-0.5-2l1.1-6l-3.4-7.8l-3.2-12.2l0.8-4l3-6l5.6-6l1.8-1.3l4.1-0.7l3.9-2.1l2-0.3l13.1 6.4l4.9 7.1l0.7 2.9l-0.6 8l-3 6l-0.9 6l-3.1 6l-1.6 10l-3.4 6zM763.5 1049l-6 1l-4.4-1.2l-11.2-8l-2.8-8l3.5-8l5.8-8l5.1-3.6l4-1.2l4 0.5l10 4.5l2 1.8l4.9 6l1.7 8l-1.1 4l-3 4l-8.5 6.5z" fill="#000" stroke="#000" stroke-width="2.3" stroke-linejoin="round"/>
<ellipse cx="764" cy="925.8" rx="3" ry="4" fill="#fff"/>
</g>
<rect x="651.5" y="802.8" width="260.5" height="263" fill="none" stroke="#000" stroke-width="1.5"/>
<rect x="697.7" y="865.5" width="114.5" height="117" fill="none" stroke="#fe0000" stroke-width="1.5"/>
<text x="727.5" y="856.3" font-size="24" textLength="60" lengthAdjust="spacingAndGlyphs">61.8%</text>
<line x1="643.8" y1="825.5" x2="651.5" y2="825.5" stroke="#000" stroke-width="1.4"/>
<text x="611" y="835.5" font-size="24.5" textLength="23.5" lengthAdjust="spacingAndGlyphs">10</text>
<text x="634.7" y="827.1" font-size="14.3">5</text>
<line x1="643.8" y1="886.5" x2="651.5" y2="886.5" stroke="#000" stroke-width="1.4"/>
<text x="611" y="896.5" font-size="24.5" textLength="23.5" lengthAdjust="spacingAndGlyphs">10</text>
<text x="634.7" y="888.1" font-size="14.3">4</text>
<line x1="643.8" y1="948.2" x2="651.5" y2="948.2" stroke="#000" stroke-width="1.4"/>
<text x="611" y="958.2" font-size="24.5" textLength="23.5" lengthAdjust="spacingAndGlyphs">10</text>
<text x="634.7" y="949.8" font-size="14.3">3</text>
<line x1="643.8" y1="1010.6" x2="651.5" y2="1010.6" stroke="#000" stroke-width="1.4"/>
<text x="611" y="1020.6" font-size="24.5" textLength="23.5" lengthAdjust="spacingAndGlyphs">10</text>
<text x="634.7" y="1012.2" font-size="14.3">2</text>
<line x1="643.8" y1="1065.8" x2="651.5" y2="1065.8" stroke="#000" stroke-width="1.4"/>
<text x="629.5" y="1077.3" font-size="24" textLength="11.5" lengthAdjust="spacingAndGlyphs">0</text>
<line x1="651.5" y1="1065.8" x2="651.5" y2="1073.8" stroke="#000" stroke-width="1.4"/>
<line x1="700.8" y1="1065.8" x2="700.8" y2="1073.8" stroke="#000" stroke-width="1.4"/>
<line x1="751.8" y1="1065.8" x2="751.8" y2="1073.8" stroke="#000" stroke-width="1.4"/>
<line x1="802.8" y1="1065.8" x2="802.8" y2="1073.8" stroke="#000" stroke-width="1.4"/>
<line x1="852.3" y1="1065.8" x2="852.3" y2="1073.8" stroke="#000" stroke-width="1.4"/>
<line x1="903.8" y1="1065.8" x2="903.8" y2="1073.8" stroke="#000" stroke-width="1.4"/>
<text x="647" y="1095.5" font-size="24" textLength="11.5" lengthAdjust="spacingAndGlyphs">0</text>
<text x="682" y="1095.5" font-size="24" textLength="38.5" lengthAdjust="spacingAndGlyphs">50K</text>
<text x="727.5" y="1095.5" font-size="24" textLength="49.3" lengthAdjust="spacingAndGlyphs">100K</text>
<text x="782" y="1095.5" font-size="24" textLength="47.3" lengthAdjust="spacingAndGlyphs">150K</text>
<text x="834.5" y="1095.5" font-size="24" textLength="49.8" lengthAdjust="spacingAndGlyphs">200K</text>
<text x="888.3" y="1095.5" font-size="24" textLength="49.7" lengthAdjust="spacingAndGlyphs">250K</text>
<clipPath id="cp3"><rect x="340" y="1134.5" width="261" height="263.1"/></clipPath>
<g clip-path="url(#cp3)">
<path d="M434 1416.7l-4 0.2l-11.9-2.4l-10.2-6l-4.6-6l-1.9-10l1.6-12l-4.2-8l-2.4-12l0.1-8l2.7-10l3.2-6l3.6-4.9l7.4-5.1l5.1-6l1.7-12l-0.6-4l0.8-8l-0.4-21.6l-1.3-6.4l-5.2-10l-1.3-6l0.4-4l2.8-10l2.6-3.5l8-5.3l14-5.2l4-0.4l6 1.3l10 6.1l5 5l3.8 10l0.1 8l-1.6 6l-3.3 4.5l-12 10.5l-1.1 15l1.5 16l-1 10l0.5 4l6.9 14l5.2 16l1.1 8l-1.8 20l0.9 4l4.4 6l1.1 10l-1.8 6l-3.6 4l-4.3 2.9l-10 3.7zM446 1412.5l-16 1.5l-10-2.4l-8-4.2l-2-1.8l-2.9-5.1l-0.8-6l0.2-4l2.6-8l-5.9-12l-3-10l2.6-16l4.1-8l3.1-3.2l6-3.2l8.3-7.6l0.3-2l-0.5-4l1.1-8l-1.2-6l-1.3-32l-0.7-2.9l-5.6-11.1l-0.4-6l0.7-4l3.3-6.8l7.6-7.2l14.4-4.8l8 1.4l6 3.5l4.5 3.9l3.3 6l1 10l-0.4 4l-1.4 4l-8.2 8l-4.8 2.6l-2 2.7l0.4 10.7l-1 8l0.8 14l-0.9 10l0.3 4l2.7 8l3.3 8l3.6 6l3.8 10l0.5 4l-1.9 14l-0.6 10l1.3 4l4.1 6l1.2 8l-1.2 4l-4.4 4.9l-8 4zM448 1410.5l-16 1.5l-10-2.3l-6-2.3l-4.4-2.9l-2.1-4l-0.5-4l0.9-8l2.3-6l-4.2-10.2l-4.5-7.8l-0.9-4l2.8-14l3.6-8l3-3.3l4.9-2.7l5.1-4.6l6.8-3.4l0.9-2l-0.2-6l3.1-8l-4.6-4.6l-1.4-3.4l-2.2-24l0.9-6l-6.5-14l0.3-10l8.9-11.8l2-1.2l12-3.4l8 1.6l6 3.3l4.7 5.5l1.3 6l0 8l-0.8 4l-7.6 8l-5.6 2.6l-1.5 1.4l-1.1 4l0.7 10l-0.9 12l-1.1 6l0.5 4l-0.5 12l-1.5 4l1.3 4l7 12l5.1 6.6l2.7 7.4l0.3 6l-2.6 12l-0.7 10l5.9 12l1.3 4l-0.7 4l-2.2 3.1l-8 5.5zM440 1307.7l-4.1-3.2l-4.7-2l-1.8-2l-3.2-22l1.2-8l-1.5-4l-3.8-6l-1.7-8l0.8-6l6.8-9.7l4-2.3l10-2.5l8 1.5l5.3 3l4.4 6l0.6 6l-0.3 6.5l-1.5 3.5l-6.5 6.7l-6 2.7l-1.5 2.6l-1.1 6l0.9 6l-1 12l-2.7 8zM448 1409.1l-10 1.4l-6-0.3l-12-3l-6-2.7l-1.7-2l-1.2-4l0.4-8l2.8-6l-0.3-3.6l-5.5-12.4l-3.7-6l2.5-14l4.7-10l12-9l6-2.6l4-0.7l2-1.9l2 0.8l0.6 1.4l-0.7 2l1.8 2l4.3 1.7l9.2 12.3l2.4 4l1.2 4l-0.4 12l-2.3 6l-2.1 10l7.4 12l1.5 4l-0.2 2l-1 2l-4.1 4zM440 1298.5l-2 1.7l-4-0.2l-2-0.8l-2-3.4l-2.1-17.3l1.5-6l-0.3-2l-6-12l-1.1-6l1-6l5.4-8l3.6-2.7l10-2.3l8 1.4l5.4 3.6l3.3 6l0.1 6l-0.5 4l-1.1 2l-5.2 6.1l-6 3.1l-3.2 4.8l-0.9 4l0.7 8l-0.7 10zM442 1409l-4 0.4l-8-1.1l-12-3.3l-3.5-2.5l-1-2l-0.5-8l2.7-6l0.1-6l-3.2-6l-1.4-6l-4.5-6l0.7-8l5.4-14l3.2-3.2l12-7.6l2-0.2l6 1.7l6.6 3.3l7.3 8l4.1 6.4l1.2 3.6l-0.1 12l-3.4 8l-2.2 8l0.5 2.6l6.5 7.4l2.5 6l-0.3 2l-2.7 3.4l-6 5.1zM438 1297.3l-2 0.3l-3-1.1l-2.2-4l-0.2-8l-1-6l1.9-6l-6.8-14l-1.1-6l1.1-6l5.5-8l3.8-2.2l10-1.4l6 1.2l4 2.8l3.3 5.6l0.1 6l-1.4 4.4l-6 6.8l-6 4.1l-2.9 4.7l-0.9 4l0.5 8l-1 4l0.6 6l-0.3 2zM448 1406.6l-8 1.7l-10-1.1l-10-3.2l-2.7-1.5l-1.3-2l-1.3-8l2.7-6l0.2-6l-3.5-6l0.7-6l-0.7-2l-4.1-2.3l-1.5-1.7l-0.2-6l6.4-16l3.3-2.7l4-1.7l3.9-3.6l2.1-0.8l8 1.3l6 3.4l6.6 6.1l5.2 10l0.6 6l-0.5 6l-3.9 8.1l-2.4 9.9l2.4 3.5l4.8 4.5l2.4 6l-0.3 2l-1.7 2zM436 1294.8l-2-1.3l-1.7-3l0.2-6l-1.1-4l0.6-4.1l3.6-3.9l-3.6-2.9l-2-3.1l-4.3-10l-0.5-6l1.1-4l5.5-8l2.2-1.2l10-1.4l6 1.3l3.8 3.3l2.1 4l0.2 6l-0.4 2l-7 8l-5.1 4l-5.6 7.2l-1.6 0.8l1.6 2.6l1.1 5.4l-1.9 4l1.1 8l-0.3 1zM444 1406.6l-4 0.8l-10-1.3l-8-3l-3.3-2.6l-2.3-6l-0.1-2l3.9-10l-1.4-4l-3.1-4l-0.2-2l1.1-4l-0.6-2l-6-4.5l-0.7-1.5l0.3-4l6.4-15.1l2-1.8l4-1.5l4-3.7l2-0.6l8 0.7l10 7.2l5.5 8.8l1.4 4l0.5 4l-0.7 6l-4.1 8l-3.2 8l0 2l3 4l4.9 4l2.3 6l-0.5 2l-5.8 6zM438 1267.6l-4 0.6l-2.4-1.7l-4.7-12l-0.1-6l4.4-8l2.8-2.2l8-1.4l8 1.4l2.3 2.2l1.9 4l0.7 4l-0.8 4l-7.4 8zM436 1281.8l-2-0.2l-0.5-1.1l0.5-2.7l2-0.5l0.8 3.2zM440 1406.5l-10-1.3l-5.9-2.7l-4.4-4l-2-4l-0.1-2l2.4-4.6l4.1-5.4l-6.7-8l0.4-6l-0.9-2l-6.1-6l0.4-4l4.8-10.7l4.4-1.3l0-2l1.6-2l6-4.1l6-0.6l6 2.8l6 5.1l5.2 8.8l1 4l-0.7 8l-8.6 16l0.5 2l4.6 5.8l4 2.5l2.1 5.7l-0.9 2l-5.2 5.4z" fill="none" stroke="#000" stroke-width="2.3" stroke-linejoin="round"/>
<path d="M436 1266.6l-2 0.5l-2-1.1l-0.8-1.5l-4-12l0.1-4l2.9-6l3.8-3.8l8-1.4l7.4 1.2l2.3 2l2.3 5.5l0.4 4.5l-0.9 2l-9.5 9.7l-4 3zM446 1404.6l-6 1.6l-10-1.4l-7.5-4.3l-4.3-6l0.8-4l6.4-8l-0.7-2l-6.5-6l0-6l-0.9-2l-5.9-6l-0.2-2l4.8-11.4l4-1l2.1-1.6l1.7-4l6.2-3.4l6-0.3l4 2.4l5.8 5.3l5.6 10l0.6 4l-1 6l-3.9 6l-1.3 4l-3.5 4l-0.3 2l5.2 8l4.8 3l1.5 5l-4.7 6z" fill="#000" stroke="#000" stroke-width="2.3" stroke-linejoin="round"/>
<ellipse cx="437.4" cy="1253.4" rx="3.6" ry="4.6" fill="#fff"/>
<ellipse cx="437.4" cy="1253.4" rx="1.87" ry="2.53" fill="none" stroke="#000" stroke-width="1.1"/>
<ellipse cx="432.7" cy="1358.5" rx="3.3" ry="6" fill="#fff"/>
<ellipse cx="434.8" cy="1380.5" rx="1.6" ry="4" fill="#fff"/>
</g>
<rect x="340" y="1134.5" width="261" height="263.1" fill="none" stroke="#000" stroke-width="1.5"/>
<rect x="378.2" y="1200.7" width="114" height="98.3" fill="none" stroke="#0048ff" stroke-width="1.5"/>
<text x="406" y="1193.8" font-size="24" textLength="59" lengthAdjust="spacingAndGlyphs">25.7%</text>
<line x1="332" y1="1134.5" x2="340" y2="1134.5" stroke="#000" stroke-width="1.4"/>
<text x="297" y="1144.5" font-size="24.5" textLength="23.5" lengthAdjust="spacingAndGlyphs">10</text>
<text x="321.3" y="1136.1" font-size="14.3">4</text>
<line x1="332" y1="1199.5" x2="340" y2="1199.5" stroke="#000" stroke-width="1.4"/>
<text x="297" y="1209.5" font-size="24.5" textLength="23.5" lengthAdjust="spacingAndGlyphs">10</text>
<text x="321.3" y="1201.1" font-size="14.3">3</text>
<line x1="332" y1="1266" x2="340" y2="1266" stroke="#000" stroke-width="1.4"/>
<text x="297" y="1276" font-size="24.5" textLength="23.5" lengthAdjust="spacingAndGlyphs">10</text>
<text x="321.3" y="1267.6" font-size="14.3">2</text>
<line x1="332" y1="1332" x2="340" y2="1332" stroke="#000" stroke-width="1.4"/>
<text x="297" y="1342" font-size="24.5" textLength="23.5" lengthAdjust="spacingAndGlyphs">10</text>
<text x="321.3" y="1333.6" font-size="14.3">1</text>
<line x1="332" y1="1397.6" x2="340" y2="1397.6" stroke="#000" stroke-width="1.4"/>
<text x="297" y="1407.6" font-size="24.5" textLength="23.5" lengthAdjust="spacingAndGlyphs">10</text>
<text x="321.3" y="1399.2" font-size="14.3">0</text>
<line x1="340" y1="1397.6" x2="340" y2="1405.6" stroke="#000" stroke-width="1.4"/>
<line x1="391.3" y1="1397.6" x2="391.3" y2="1405.6" stroke="#000" stroke-width="1.4"/>
<line x1="440" y1="1397.6" x2="440" y2="1405.6" stroke="#000" stroke-width="1.4"/>
<line x1="491.8" y1="1397.6" x2="491.8" y2="1405.6" stroke="#000" stroke-width="1.4"/>
<line x1="544.5" y1="1397.6" x2="544.5" y2="1405.6" stroke="#000" stroke-width="1.4"/>
<line x1="595.8" y1="1397.6" x2="595.8" y2="1405.6" stroke="#000" stroke-width="1.4"/>
<text x="334.5" y="1426.8" font-size="24" textLength="11.5" lengthAdjust="spacingAndGlyphs">0</text>
<text x="375" y="1426.8" font-size="24" textLength="34.8" lengthAdjust="spacingAndGlyphs">200</text>
<text x="426" y="1426.8" font-size="24" textLength="33.8" lengthAdjust="spacingAndGlyphs">400</text>
<text x="476" y="1426.8" font-size="24" textLength="33.8" lengthAdjust="spacingAndGlyphs">600</text>
<text x="529.5" y="1426.8" font-size="24" textLength="34.8" lengthAdjust="spacingAndGlyphs">800</text>
<text x="574.5" y="1426.8" font-size="24" textLength="44.8" lengthAdjust="spacingAndGlyphs">1000</text>
<clipPath id="cp4"><rect x="651.5" y="1135.5" width="260.5" height="262.5"/></clipPath>
<g clip-path="url(#cp4)">
<path d="M753.5 1391.5l-4 1.1l-12-3.3l-2.9-1.8l-4.9-8l-2.5-6l-2.5-14l1-12l4-10l1-6l2.6-8l0.1-2l-1.5-4l1.1-6l-1.4-8l1.5-16l-3.4-14l-4-8l-1.1-6l-3.2-8l0.3-10l-1.4-14l0.3-2l4.4-8l4.5-5.4l8-5.2l4-1.6l4-0.5l16 3.3l16.5 9.4l9.1 10l10.8 22l1.3 6l0 10l-2 12l-5 14l-7.3 12l-0.2 2l2.8 6.6l7.1 5.4l10.8 12l1.1 4l-1.4 6l1.8 4l0.6 8l-1.6 4l-4.4 4.8l-8 11.2l-10.7 6l-11.3 7.8zM755.5 1385.7l-8 1.5l-10-4.1l-2-2.6l-2-6.4l-3.1-4.6l-1.3-8l0.5-12l2.9-8l2.7-4l1.4-8l3.3-6l-1.1-12l-1.8-6l0-2l2.8-8l-4.3-19.9l-5.5-16.1l-4.5-10.6l-0.8-11.4l0.5-8l1.4-4l4.9-8.3l4-2.8l10-4.8l12.9 1.9l15.1 8l8 6.9l8.8 15.1l3.5 12l-0.4 8l1.7 4l-0.8 6l-5.7 16l-1.1 2l-4.5 4l-2.5 4l-5 4l-1.1 4l1 4l-0.7 4l0.7 2l10.1 9.6l4.4 2.4l3 4l2.6 2.1l0.8 1.9l0.1 4l-0.8 6l1.1 6l-4.8 8l-10.4 12.5l-6 2.6l-5.1 4.9l-6.9 3.9zM751.5 1383.8l-4 0.4l-8.9-4.7l-1.2-2l-1.1-6l-2.8-2.6l-1.5-3.4l-0.1-14l2.7-4l1.1-6l4.2-6l0.9-6l3.3-4l1.9-4l0.2-2l-2.6-4l2.4-6l-2.3-6l1.4-8l-2.4-6l0.4-4l-3.4-6l-7.6-22l-4.9-18l1.4-8l4.9-10.5l2-1.6l6-2l6-3.5l10 0.7l14.1 6.9l7.9 6.9l9.1 15.1l2.4 12l-0.7 6l1.8 6l-3.6 12l-3 6l-12 11.7l-1.3 2.3l-2.1 6l-2 14l7.4 11.9l6 1.1l8.6 5l0.2 2l-2.6 6l3.6 4l-4.8 10l-7 8.8l-6 2.3l-4.5 4.9l-5.5 2.7l-3.2 3.3zM749.5 1381.5l-4-0.7l-5.4-3.3l-0.9-2l-0.3-6l-3.4-2.6l-1.9-3.4l-0.1-10l0.7-2l3.4-4l1.1-6l4.9-6l6.6-14l0.9-4l-1.9-4l0.7-8l0.4-2l2.4-2l0.8-1.9l0.3-4.1l-0.4-2l-1.5-2l-4.4-2.7l-1.4-5.3l-4.6-6l-1.5-6l-2.9-6l-1.4-6l-3.5-8l-2.7-12l1.1-6l4.9-10.5l6-2.8l4-3.1l4-0.9l6 0.4l14 6.2l9.6 8.7l8 14l1.9 10l-0.5 6l1.2 6l-4.5 14l-9.7 10.2l-6.8 3.8l-1.2 1.7l0.1 4.3l-1.8 4l-0.5 6l-1.8 3l-3.3 3l-0.1 2l3 4l4.4 3.4l3.3 6.6l4.7 1.6l4 0.3l4 4.3l1.3 3.8l-0.9 14l-2.4 3.4l-10 7l-6 5.5l-3.7 2.1l-2.9 4l-3.4 1.5zM759.5 1297.9l-2-0.9l-1.3-3.5l-4.6-6l-2-4l-4.1-4.1l-2-3.2l-1.4-4.7l-3.6-6l-1-8l-3.6-6l-1.9-10l0.3-6l4-10l2.1-2l4.4-2l4.7-3.4l8 0.6l5.3 2.8l6.7 2.3l9.3 7.7l7.5 12l3.1 12l0.2 12l-3.4 12l-10.7 11l-8 2.9zM759.5 1312.7l-2-0.4l-0.4-0.8l2.4-1.4l1.1 1.4zM757.5 1377.6l-2 1.1l-2-0.2l-6-1.9l-4-0.2l-2-1.2l-1.3-7.7l-4.6-4l-0.3-10l4.7-6l7.5-12.7l2-0.8l8 1.8l2-0.4l4-2.5l4 2.8l10 3.7l4 4.1l-0.6 6l-1.8 4l1 4l-10.6 8.8l-4 4.6l-5.2 2.6zM763.5 1291.7l-4 0.9l-2-1.3l-2-2.1l-6-10.4l-4-3.5l-5.7-9.8l0-8l-4.1-6l-1.4-16l3.1-8l1.4-2l4.7-2.4l4-3.3l6 0.1l6 3.1l6 1.4l10 7.8l7.1 11.3l3.6 12l-0.2 12l-2.8 10l-5.7 7.2l-4 3.4l-2 1.2zM755.5 1375.6l-2 0.2l-6-2.7l-4-0.6l-1.5-5l-4-4l0.3-4l-1-6l12.2-13.4l4 0.6l6-2l6 0l1.7 0.8l5.4 6l0.9 7.4l1.6 4.6l-1 2l-6.6 5.5l-3.3 4.5l-5.1 2zM769.5 1288l-8 1.4l-2-0.5l-1.6-3.4l-4.7-4l-1.7-4.8l-4-2.1l-6.4-9.1l-0.3-2l1.1-4l-3.8-8l-1.4-6l-0.2-10l3-7l8.9-7l5.1 0.2l6 2.9l6 1.1l9.3 7.8l7.2 12l2.9 10l-0.2 12l-0.8 4l-1.6 4l-4.8 7.3zM753.5 1372.9l-2-0.3l-6-3.5l-5.2-5.6l0.6-4l-1.3-4l0.2-2l1.7-2.5l2-1.5l3.5 0l0.2-4l2.3-2.2l4 0.1l4-1.8l4-0.2l8 4.6l1.2 1.5l1.5 10l-1.2 2l-5.1 4l-2.5 4l-5.9 1.9zM769.5 1285.8l-6 0.1l-4-3.5l-4-1.1l-2.9-5.8l-3.6-2l-6.4-8l0.7-6l-3-6l-2.3-10l0.8-8l2.7-4.7l4-2.5l4-4.9l4 0.1l4 2.1l8 1.5l8 7.4l7.4 11l2.8 10l-1 16l-5.7 10l-1.5 1.5zM751.5 1367.6l-6-1.1l-2.9-3l0.4-4l-1.4-4l0.3-2l1.6-1.7l4.5-0.3l1.5-2l0.7-4l5.3-0.7l4-1.6l2 0.2l6.2 4.1l1.6 2l-0.1 6l-7.7 10.2zM773.5 1282.1l-10 0.4l-2-1.4l-4-1l-2-1.8l-2-3.9l-4-2.7l-5.3-6.2l0.1-6l-2.9-6l-1.7-8l0.8-8l1.5-4l4.7-4l2.8-3.6l2-1l6 2l6 0.5l2 1.1l5.2 5l9.3 12l2.4 8l-0.4 16l-1.3 4l-3.2 5.1l-2 2.6zM755.5 1364.4l-6 0.9l-4-1.8l-2.5-8l1.1-2l5.4-1.3l2.4-4.7l3.6-0.5l4-2l2 0.2l5.2 6.3l-3.2 6.6zM773.5 1280.1l-16-1.8l-6-8.8l-5.4-4l-0.6-1.4l-0.2-4.6l-3.1-6l-1.1-10l2-8l8.4-8.8l12 2l2 1.3l3.6 3.5l4 6l4.4 3.8l1.5 2.2l2.3 8l-1.3 12l0.2 6l-4.7 7.7zM753.5 1363.7l-4.8-0.2l-3.7-6l-0.4-2l0.9-0.9l4-0.7l4-4.1l4 0.6l2-1.3l1.6 0.4l0.6 6l-0.8 2l-3.8 4zM773.5 1277.8l-14.1-0.3l-1.9-1.3l-4.8-8.7l-5.2-2.5l-1-1.5l-1-5.8l-2.6-4.2l-0.8-8l2.5-4l-0.3-4l2-4l3.2-3.6l2-1.1l12 1.2l4.2 3.5l3.8 6.6l6.4 5.4l0.4 4l1.6 4l-0.4 8l-1.2 4l0.7 6l-1.5 3.3l-2 2.2zM753.5 1362.2l-2 0.2l-2-0.8l-0.4-2.1l-1.7-2l2.1-0.2l4-3.9l2-0.2l3.1 2.3l-0.2 2l-2.9 3.7z" fill="none" stroke="#000" stroke-width="2.3" stroke-linejoin="round"/>
<path d="M773.5 1275.6l-2-0.3l-6 1l-6-0.7l-6-9.3l-4-1.5l-2-1.6l-1.3-5.7l-2.5-4l-0.5-6l0.4-2l3.9-0.4l1.6-1.6l-3.1-4l1.7-6l1.8-2.2l10-0.9l4 0.8l4.6 4.3l3.4 7.2l4.7 2.8l0.8 2l-2.2 4l2.7 2.1l0.8 1.9l0.1 6l-1.8 4l1.1 6l-0.6 2l-1.6 1.7zM753.5 1359.7l0-2.7l2-1l0.6 1.5l-0.6 1.4z" fill="#000" stroke="#000" stroke-width="2.3" stroke-linejoin="round"/>
<ellipse cx="752.2" cy="1249" rx="2" ry="2.4" fill="#fff"/>
<ellipse cx="752" cy="1361" rx="4.2" ry="7.5" fill="#fff"/>
<ellipse cx="752" cy="1361" rx="2.18" ry="4.12" fill="none" stroke="#000" stroke-width="1.1"/>
</g>
<rect x="651.5" y="1135.5" width="260.5" height="262.5" fill="none" stroke="#000" stroke-width="1.5"/>
<rect x="698.5" y="1197" width="114" height="114.3" fill="none" stroke="#0048ff" stroke-width="1.5"/>
<text x="729.5" y="1188.8" font-size="24" textLength="59" lengthAdjust="spacingAndGlyphs">75.4%</text>
<line x1="643.8" y1="1159.5" x2="651.5" y2="1159.5" stroke="#000" stroke-width="1.4"/>
<text x="611" y="1169.5" font-size="24.5" textLength="23.5" lengthAdjust="spacingAndGlyphs">10</text>
<text x="634.7" y="1161.1" font-size="14.3">5</text>
<line x1="643.8" y1="1217.5" x2="651.5" y2="1217.5" stroke="#000" stroke-width="1.4"/>
<text x="611" y="1227.5" font-size="24.5" textLength="23.5" lengthAdjust="spacingAndGlyphs">10</text>
<text x="634.7" y="1219.1" font-size="14.3">4</text>
<line x1="643.8" y1="1279.5" x2="651.5" y2="1279.5" stroke="#000" stroke-width="1.4"/>
<text x="611" y="1289.5" font-size="24.5" textLength="23.5" lengthAdjust="spacingAndGlyphs">10</text>
<text x="634.7" y="1281.1" font-size="14.3">3</text>
<line x1="643.8" y1="1343.5" x2="651.5" y2="1343.5" stroke="#000" stroke-width="1.4"/>
<text x="611" y="1353.5" font-size="24.5" textLength="23.5" lengthAdjust="spacingAndGlyphs">10</text>
<text x="634.7" y="1345.1" font-size="14.3">2</text>
<line x1="643.8" y1="1398" x2="651.5" y2="1398" stroke="#000" stroke-width="1.4"/>
<text x="629.5" y="1409.5" font-size="24" textLength="11.5" lengthAdjust="spacingAndGlyphs">0</text>
<line x1="651.5" y1="1398" x2="651.5" y2="1406" stroke="#000" stroke-width="1.4"/>
<line x1="700.8" y1="1398" x2="700.8" y2="1406" stroke="#000" stroke-width="1.4"/>
<line x1="751.8" y1="1398" x2="751.8" y2="1406" stroke="#000" stroke-width="1.4"/>
<line x1="802.8" y1="1398" x2="802.8" y2="1406" stroke="#000" stroke-width="1.4"/>
<line x1="852.3" y1="1398" x2="852.3" y2="1406" stroke="#000" stroke-width="1.4"/>
<line x1="903.8" y1="1398" x2="903.8" y2="1406" stroke="#000" stroke-width="1.4"/>
<text x="647" y="1426.8" font-size="24" textLength="11.5" lengthAdjust="spacingAndGlyphs">0</text>
<text x="682" y="1426.8" font-size="24" textLength="38.5" lengthAdjust="spacingAndGlyphs">50K</text>
<text x="727.5" y="1426.8" font-size="24" textLength="49.3" lengthAdjust="spacingAndGlyphs">100K</text>
<text x="782" y="1426.8" font-size="24" textLength="47.3" lengthAdjust="spacingAndGlyphs">150K</text>
<text x="834.5" y="1426.8" font-size="24" textLength="49.8" lengthAdjust="spacingAndGlyphs">200K</text>
<text x="888.3" y="1426.8" font-size="24" textLength="49.7" lengthAdjust="spacingAndGlyphs">250K</text>
<text transform="translate(270 934) rotate(-90)" x="-17.5" y="0" font-size="25" textLength="35" lengthAdjust="spacingAndGlyphs" font-weight="bold">DA</text>
<text transform="translate(270 1321) rotate(-90)" x="-17.5" y="0" font-size="25" textLength="35" lengthAdjust="spacingAndGlyphs" font-weight="bold">AO</text>
<text transform="translate(292.5 1143) rotate(-90)" x="-39.5" y="0" font-size="24.5" textLength="79" lengthAdjust="spacingAndGlyphs">CXCR3</text>
<line x1="284.3" y1="1207" x2="284.3" y2="1448" stroke="#000" stroke-width="1.4"/>
<line x1="283.6" y1="1448" x2="441" y2="1448" stroke="#000" stroke-width="1.4"/>
<polygon points="284.3,1192 291.05,1212 284.3,1207 277.55,1212" fill="#000"/>
<polygon points="456.3,1448 436.3,1454.5 441.3,1448 436.3,1441.5" fill="#000"/>
<text x="467.5" y="1456.3" font-size="24.5" textLength="44.3" lengthAdjust="spacingAndGlyphs">FSC</text>
<text x="1415" y="787.5" font-size="25" textLength="89.8" lengthAdjust="spacingAndGlyphs" font-weight="bold">NK cells</text>
<rect x="1194.65" y="1055.85" width="95.8" height="315.2" fill="none" stroke="#fe0000" stroke-width="1.7"/>
<rect x="1222.5" y="1052" width="40" height="3" fill="#fe0000"/>
<rect x="1309.5" y="987.5" width="100.5" height="383.8" fill="#fe0000"/>
<line x1="1340" y1="983.3" x2="1381.6" y2="983.3" stroke="#fe0000" stroke-width="1.4"/>
<line x1="1360.8" y1="983.3" x2="1360.8" y2="987.5" stroke="#fe0000" stroke-width="1.4"/>
<rect x="1502.85" y="1212.15" width="92.3" height="158.9" fill="none" stroke="#0048ff" stroke-width="1.7"/>
<line x1="1528.6" y1="1205.8" x2="1569.4" y2="1205.8" stroke="#0048ff" stroke-width="1.5"/>
<line x1="1549" y1="1205.8" x2="1549" y2="1211.3" stroke="#0048ff" stroke-width="1.5"/>
<rect x="1615.8" y="927.3" width="99.2" height="444" fill="#0048ff"/>
<rect x="1645" y="925" width="40.8" height="2.5" fill="#0048ff"/>
<rect x="1169.8" y="801.3" width="568.5" height="570" fill="none" stroke="#000" stroke-width="1.5"/>
<line x1="1160.8" y1="903" x2="1169.8" y2="903" stroke="#000" stroke-width="1.5"/>
<text x="1126.4" y="910" font-size="26" textLength="25.8" lengthAdjust="spacingAndGlyphs">80</text>
<line x1="1160.8" y1="1020" x2="1169.8" y2="1020" stroke="#000" stroke-width="1.5"/>
<text x="1126.4" y="1028.3" font-size="26" textLength="25.8" lengthAdjust="spacingAndGlyphs">60</text>
<line x1="1160.8" y1="1136.8" x2="1169.8" y2="1136.8" stroke="#000" stroke-width="1.5"/>
<text x="1126.4" y="1146.6" font-size="26" textLength="25.8" lengthAdjust="spacingAndGlyphs">40</text>
<line x1="1160.8" y1="1254.5" x2="1169.8" y2="1254.5" stroke="#000" stroke-width="1.5"/>
<text x="1126.4" y="1264.9" font-size="26" textLength="25.8" lengthAdjust="spacingAndGlyphs">20</text>
<line x1="1160.8" y1="1371.3" x2="1169.8" y2="1371.3" stroke="#000" stroke-width="1.5"/>
<text x="1138.3" y="1383.2" font-size="26" textLength="13.7" lengthAdjust="spacingAndGlyphs">0</text>
<line x1="1242.8" y1="1371.3" x2="1242.8" y2="1379.5" stroke="#000" stroke-width="1.5"/>
<line x1="1360.8" y1="1371.3" x2="1360.8" y2="1379.5" stroke="#000" stroke-width="1.5"/>
<line x1="1549.3" y1="1371.3" x2="1549.3" y2="1379.5" stroke="#000" stroke-width="1.5"/>
<line x1="1666" y1="1371.3" x2="1666" y2="1379.5" stroke="#000" stroke-width="1.5"/>
<line x1="1242" y1="848.8" x2="1665.8" y2="848.8" stroke="#000" stroke-width="1.3"/>
<line x1="1242" y1="839" x2="1242" y2="858.6" stroke="#000" stroke-width="1.3"/>
<line x1="1547" y1="839" x2="1547" y2="858.6" stroke="#000" stroke-width="1.3"/>
<line x1="1665.8" y1="839" x2="1665.8" y2="858.6" stroke="#000" stroke-width="1.3"/>
<line x1="1242" y1="895.8" x2="1665.8" y2="895.8" stroke="#000" stroke-width="1.3"/>
<line x1="1242" y1="886" x2="1242" y2="905.6" stroke="#000" stroke-width="1.3"/>
<line x1="1360.8" y1="886" x2="1360.8" y2="905.6" stroke="#000" stroke-width="1.3"/>
<line x1="1665.8" y1="886" x2="1665.8" y2="905.6" stroke="#000" stroke-width="1.3"/>
<text x="1373" y="853.34" font-size="33" text-anchor="middle" stroke="#000" stroke-width="0.35">*</text>
<text x="1397.5" y="853.34" font-size="33" text-anchor="middle" stroke="#000" stroke-width="0.35">*</text>
<text x="1422.5" y="853.34" font-size="33" text-anchor="middle" stroke="#000" stroke-width="0.35">*</text>
<text x="1583.3" y="853.34" font-size="33" text-anchor="middle" stroke="#000" stroke-width="0.35">*</text>
<text x="1607.5" y="853.34" font-size="33" text-anchor="middle" stroke="#000" stroke-width="0.35">*</text>
<text x="1632.5" y="853.34" font-size="33" text-anchor="middle" stroke="#000" stroke-width="0.35">*</text>
<text x="1275" y="900.84" font-size="33" text-anchor="middle" stroke="#000" stroke-width="0.35">*</text>
<text x="1299.3" y="900.84" font-size="33" text-anchor="middle" stroke="#000" stroke-width="0.35">*</text>
<text x="1324.3" y="900.84" font-size="33" text-anchor="middle" stroke="#000" stroke-width="0.35">*</text>
<text x="1494.5" y="900.84" font-size="33" text-anchor="middle" stroke="#000" stroke-width="0.35">*</text>
<text x="1518.8" y="900.84" font-size="33" text-anchor="middle" stroke="#000" stroke-width="0.35">*</text>
<text x="1544" y="900.84" font-size="33" text-anchor="middle" stroke="#000" stroke-width="0.35">*</text>
<text x="1211" y="1405" font-size="24" textLength="62.5" lengthAdjust="spacingAndGlyphs">Young</text>
<text x="1336.5" y="1405" font-size="24" textLength="51.5" lengthAdjust="spacingAndGlyphs">Aged</text>
<text x="1519" y="1405" font-size="24" textLength="62.8" lengthAdjust="spacingAndGlyphs">Young</text>
<text x="1642.5" y="1405" font-size="24" textLength="51.3" lengthAdjust="spacingAndGlyphs">Aged</text>
<line x1="1210" y1="1420" x2="1391.8" y2="1420" stroke="#000" stroke-width="2.1"/>
<line x1="1518.3" y1="1420" x2="1700" y2="1420" stroke="#000" stroke-width="2.1"/>
<text x="1284.3" y="1444.5" font-size="24" textLength="33" lengthAdjust="spacingAndGlyphs">DA</text>
<text x="1592.3" y="1444.5" font-size="24" textLength="33.7" lengthAdjust="spacingAndGlyphs">AO</text>
<text transform="translate(1087.5 1128) rotate(-90)" x="-98" y="0" font-size="25.5" textLength="196" lengthAdjust="spacingAndGlyphs" font-weight="bold">CXCR3+ cells (%)</text>
<text x="3.5" y="1533" font-size="42" font-weight="bold">C</text>
<text x="264.5" y="1523.3" font-size="25" textLength="164" lengthAdjust="spacingAndGlyphs" font-weight="bold">Live MNC gate</text>
<path d="M236 1822h4M218 1856h4M180 1804h4M152 1796h4M224 1818h4M156 1854h4M200 1802h4M206 1812h4M192 1792h4M214 1820h4M184 1876h4M196 1806h4M232 1830h4M182 1796h4M224 1796h4M162 1864h4M182 1878h4M228 1884h4M150 1790h4M238 1846h4M138 1794h4M232 1792h4M156 1824h4M216 1806h4M156 1784h4M150 1850h4M178 1798h4M140 1850h4M152 1828h4M220 1826h4M228 1844h4M216 1860h4M222 1806h4M154 1828h4M214 1814h4M194 1876h4M232 1850h4M196 1874h4M216 1866h4M138 1804h4M212 1868h4M166 1870h4M152 1844h4M230 1860h4M164 1872h4M158 1812h4M176 1796h4M164 1878h4M174 1802h4M166 1794h4M148 1830h4M206 1808h4M148 1848h4M184 1788h4M210 1816h4M214 1788h4M166 1788h4M184 1798h4M160 1804h4M144 1842h4M210 1802h4M176 1876h4M240 1818h4M152 1846h4M230 1866h4M228 1828h4M224 1882h4M166 1810h4M152 1874h4M182 1802h4M210 1782h4M204 1810h4M234 1856h4M240 1836h4M160 1866h4M220 1860h4M160 1872h4M220 1868h4M222 1812h4M156 1858h4M220 1836h4M150 1852h4M214 1874h4M168 1878h4M222 1850h4M174 1874h4M202 1876h4M168 1796h4M196 1790h4M176 1804h4M160 1870h4M174 1804h4M162 1810h4M226 1840h4M220 1790h4M214 1808h4M232 1826h4M210 1876h4M212 1808h4M170 1808h4M184 1880h4M220 1834h4M148 1840h4M206 1798h4M212 1810h4M170 1882h4M230 1840h4M186 1792h4M162 1866h4M144 1828h4M152 1810h4M148 1874h4M150 1848h4M188 1880h4M156 1812h4M192 1798h4M140 1798h4M182 1876h4M172 1872h4M206 1872h4M210 1790h4M220 1858h4M220 1812h4M200 1882h4M154 1796h4M188 1800h4M220 1838h4M216 1824h4M148 1864h4M186 1802h4M186 1880h4M154 1866h4M212 1882h4M234 1838h4M212 1806h4M140 1848h4M204 1870h4M210 1864h4M192 1876h4M144 1862h4M150 1874h4M134 1812h4M166 1872h4M174 1796h4M218 1816h4M224 1854h4M150 1840h4M166 1780h4M230 1858h4M156 1806h4M216 1826h4M210 1798h4M198 1804h4M162 1808h4M216 1858h4M136 1830h4M204 1886h4M224 1840h4M206 1868h4M160 1802h4M190 1804h4M142 1868h4M152 1836h4M134 1788h4M196 1884h4M172 1882h4M164 1866h4M168 1806h4M172 1880h4M136 1818h4M204 1800h4M154 1830h4M152 1858h4M150 1856h4M214 1864h4M170 1786h4M192 1784h4M232 1808h4M164 1876h4M168 1872h4M248 1838h4M234 1846h4M220 1866h4M196 1880h4M204 1874h4M250 1836h4M202 1794h4M170 1876h4M160 1882h4M140 1852h4M228 1872h4M136 1880h4M218 1822h4M212 1864h4M150 1802h4M230 1794h4M174 1880h4M236 1886h4M166 1808h4M222 1842h4M182 1784h4M218 1818h4M206 1874h4M234 1832h4M180 1878h4M134 1834h4M222 1864h4M218 1884h4M196 1878h4M192 1782h4M152 1854h4M150 1864h4M202 1790h4M210 1878h4M202 1780h4M206 1804h4M170 1810h4M182 1788h4M148 1836h4M200 1774h4M192 1878h4M152 1826h4M260 1836h4M168 1802h4M214 1816h4M252 1820h4M178 1876h4M202 1874h4M214 1804h4M144 1866h4M144 1858h4M138 1824h4M194 1796h4M160 1812h4M190 1800h4M224 1834h4M188 1878h4M144 1822h4M154 1816h4M180 1802h4M220 1848h4M196 1882h4M216 1812h4M230 1846h4M206 1870h4M224 1842h4M220 1824h4M194 1882h4M200 1798h4M160 1862h4M148 1856h4M140 1860h4M210 1866h4M166 1876h4M232 1824h4M188 1874h4M190 1878h4M142 1862h4M158 1868h4M146 1830h4M208 1880h4M166 1778h4M228 1816h4M162 1800h4M198 1886h4M154 1872h4M180 1806h4M154 1808h4M146 1882h4M224 1824h4M164 1868h4M208 1872h4M224 1820h4M220 1852h4M170 1800h4M156 1860h4M170 1806h4M152 1830h4M196 1804h4M150 1820h4M154 1858h4M166 1878h4M154 1826h4M160 1864h4M184 1776h4M224 1848h4M224 1846h4M234 1840h4M246 1858h4M206 1876h4M202 1802h4M222 1856h4M200 1874h4M182 1884h4M154 1868h4M212 1880h4M202 1872h4M202 1806h4M214 1866h4M152 1802h4M184 1762h4M152 1842h4M202 1880h4M154 1820h4M140 1822h4M230 1828h4M180 1882h4M148 1842h4M218 1854h4M162 1884h4M224 1866h4M150 1858h4M218 1850h4M198 1878h4M176 1886h4M148 1854h4M184 1874h4M218 1872h4M144 1816h4M162 1770h4M218 1852h4M162 1812h4M134 1846h4M172 1806h4M146 1836h4M198 1876h4M186 1882h4M164 1886h4M206 1882h4M210 1806h4M234 1850h4M190 1884h4M222 1808h4M210 1814h4M212 1814h4M188 1796h4M208 1870h4M172 1802h4M142 1838h4M164 1812h4M144 1812h4M230 1872h4M220 1840h4M144 1844h4M162 1816h4M162 1876h4M148 1852h4M158 1870h4M154 1810h4M158 1806h4M222 1814h4M150 1830h4M198 1884h4M214 1822h4M136 1834h4M216 1810h4M218 1820h4M168 1798h4M180 1776h4M196 1802h4M140 1856h4M216 1856h4M176 1790h4M170 1804h4M148 1868h4M164 1806h4M210 1874h4M220 1874h4M156 1822h4M234 1876h4M158 1858h4M146 1860h4M138 1820h4M242 1846h4M198 1874h4M156 1826h4M206 1810h4M152 1800h4M184 1804h4M196 1794h4M194 1804h4M190 1876h4M154 1852h4M228 1850h4M176 1806h4M148 1870h4M216 1854h4M142 1842h4M244 1844h4M194 1802h4M230 1836h4M236 1846h4M146 1816h4M160 1818h4M222 1818h4M168 1884h4M164 1804h4M226 1820h4M208 1886h4M152 1818h4M222 1828h4M158 1872h4M202 1808h4M150 1792h4M176 1874h4M150 1866h4M166 1804h4M168 1882h4M180 1796h4M164 1800h4M220 1850h4M194 1792h4M154 1864h4M216 1804h4M180 1880h4M202 1810h4M156 1804h4M140 1828h4M158 1808h4M242 1820h4M160 1772h4M200 1796h4M144 1876h4M142 1836h4M212 1798h4M222 1832h4M210 1808h4M164 1798h4M152 1872h4M178 1886h4M150 1842h4M148 1834h4M186 1876h4M168 1790h4M152 1860h4M228 1854h4M182 1778h4M180 1798h4M210 1868h4M154 1792h4M216 1816h4M200 1778h4M148 1814h4M156 1778h4M242 1830h4M150 1824h4M148 1844h4M156 1794h4M140 1862h4M150 1832h4M192 1800h4M146 1870h4M138 1848h4M156 1864h4M232 1878h4M138 1838h4M182 1804h4M222 1826h4M200 1806h4M222 1872h4M210 1804h4M178 1780h4M212 1874h4M218 1876h4M170 1798h4M184 1780h4M232 1862h4M164 1802h4M134 1828h4M166 1882h4M206 1786h4M220 1846h4M208 1868h4M188 1886h4M170 1802h4M220 1804h4M156 1866h4M222 1860h4M178 1806h4M218 1848h4M164 1810h4M144 1850h4M188 1790h4M218 1860h4M154 1824h4M156 1874h4M214 1876h4M158 1804h4M228 1856h4M220 1820h4M188 1798h4M178 1878h4M204 1796h4M220 1842h4M164 1874h4M192 1806h4M194 1800h4M140 1836h4M214 1878h4M158 1798h4M164 1870h4M238 1864h4M138 1840h4M178 1880h4M166 1806h4M146 1858h4M224 1810h4M152 1804h4M154 1870h4M150 1834h4M236 1834h4M200 1878h4M184 1802h4M220 1862h4M234 1844h4M224 1808h4M144 1820h4M218 1828h4M214 1810h4M226 1852h4M198 1802h4M210 1884h4M174 1806h4M188 1804h4M224 1832h4M212 1804h4M222 1838h4M186 1798h4M172 1778h4M180 1864h4M194 1776h4M198 1860h4M180 1820h4M194 1826h4M186 1806h4M182 1776h4M144 1810h4M158 1796h4M206 1830h4M198 1788h4M186 1784h4M222 1756h4M180 1848h4M230 1796h4M202 1860h4M208 1824h4M180 1818h4M164 1834h4M202 1748h4M170 1868h4M216 1820h4M180 1832h4M176 1848h4M154 1788h4M186 1788h4M224 1792h4M180 1862h4M244 1786h4M162 1798h4M194 1844h4M206 1840h4M216 1844h4M154 1844h4M204 1824h4M156 1840h4M190 1826h4M180 1772h4M216 1830h4M160 1780h4M198 1838h4M236 1792h4M216 1800h4M170 1816h4M234 1812h4M230 1808h4M170 1830h4M198 1858h4M188 1864h4M144 1790h4M196 1808h4M210 1826h4M200 1834h4M244 1836h4M210 1858h4M198 1790h4M208 1834h4M184 1836h4M178 1852h4M188 1836h4M160 1782h4M188 1840h4M156 1754h4M200 1832h4M164 1844h4M198 1798h4M176 1798h4M166 1834h4M158 1852h4M222 1776h4M232 1838h4M228 1804h4M188 1822h4M200 1824h4M210 1810h4M172 1794h4M212 1844h4M156 1802h4M174 1834h4M168 1808h4M210 1846h4M178 1808h4M194 1816h4M180 1834h4M174 1810h4M198 1824h4M214 1832h4M188 1826h4M208 1820h4M140 1830h4M192 1786h4M228 1780h4M202 1798h4M192 1814h4M240 1866h4M176 1836h4M214 1798h4M204 1864h4M228 1774h4M172 1782h4M206 1796h4M192 1864h4M164 1760h4M178 1860h4M196 1816h4M180 1822h4M202 1862h4M212 1812h4M194 1784h4M194 1838h4M202 1826h4M250 1830h4M170 1764h4M264 1758h4M234 1788h4M216 1818h4M212 1852h4M164 1820h4M196 1754h4M246 1848h4M200 1800h4M188 1784h4M166 1816h4M218 1810h4M214 1818h4M186 1812h4M196 1826h4M192 1848h4M192 1834h4M220 1816h4M230 1876h4M190 1766h4M162 1842h4M220 1828h4M206 1828h4M210 1850h4M186 1826h4M160 1816h4M152 1824h4M186 1786h4M190 1808h4M212 1776h4M202 1796h4M208 1836h4M202 1836h4M200 1786h4M218 1838h4M192 1826h4M198 1814h4M192 1842h4M176 1778h4M178 1782h4M222 1788h4M184 1810h4M198 1844h4M162 1850h4M142 1864h4M194 1862h4M162 1806h4M212 1802h4M186 1820h4M214 1850h4M212 1846h4M228 1824h4M172 1808h4M220 1800h4M182 1840h4M206 1850h4M202 1788h4M144 1782h4M182 1834h4M238 1854h4M180 1788h4M204 1776h4M166 1840h4M186 1846h4M182 1782h4M166 1836h4M138 1826h4M204 1794h4M234 1852h4M188 1792h4M174 1820h4M188 1814h4M176 1794h4M226 1872h4M210 1824h4M224 1770h4M172 1762h4M186 1766h4M218 1782h4M208 1828h4M214 1828h4M204 1808h4M190 1816h4M210 1848h4M182 1824h4M142 1788h4M204 1838h4M222 1846h4M206 1806h4M220 1822h4M170 1840h4M186 1818h4M188 1842h4M138 1776h4M204 1828h4M152 1794h4M202 1838h4M166 1832h4M216 1870h4M156 1838h4M210 1812h4M158 1826h4M192 1818h4M178 1796h4M188 1806h4M226 1802h4M210 1830h4M168 1828h4M158 1814h4M202 1828h4M208 1806h4M188 1848h4M192 1844h4M186 1756h4M180 1844h4M178 1818h4M222 1810h4M208 1842h4M190 1828h4M186 1790h4M184 1792h4M174 1822h4M172 1846h4M234 1794h4M214 1784h4M204 1834h4M218 1802h4M198 1806h4M220 1796h4M206 1836h4M200 1810h4M238 1876h4M208 1794h4M178 1834h4M194 1822h4M214 1834h4M214 1796h4M162 1832h4M196 1800h4M162 1814h4M184 1806h4M182 1846h4M170 1842h4M176 1802h4M202 1842h4M194 1834h4M188 1830h4M244 1810h4M204 1882h4M198 1842h4M182 1836h4M190 1810h4M174 1836h4M176 1868h4M214 1790h4M158 1834h4M180 1808h4M216 1790h4M200 1784h4M232 1812h4M174 1824h4M164 1776h4M192 1820h4M218 1864h4M230 1770h4M200 1792h4M188 1860h4M182 1828h4M206 1864h4M228 1808h4M150 1828h4M204 1842h4M182 1790h4M218 1594h4M190 1740h4M206 1622h4M180 1690h4M192 1754h4M210 1706h4M172 1754h4M190 1668h4M190 1798h4M228 1792h4M214 1742h4M194 1684h4M202 1784h4M232 1768h4M238 1784h4M200 1736h4M190 1796h4M212 1720h4M178 1756h4M230 1778h4M222 1802h4M246 1746h4M192 1764h4M202 1638h4M188 1786h4M198 1714h4M172 1804h4M222 1772h4M216 1614h4M216 1774h4M232 1794h4M194 1774h4M216 1630h4M188 1768h4M198 1760h4M218 1692h4M190 1592h4M210 1796h4M230 1768h4M184 1746h4M196 1750h4M244 1770h4M194 1704h4M216 1674h4M226 1704h4M184 1742h4M212 1782h4M214 1780h4M194 1764h4M196 1796h4M192 1730h4M178 1754h4M224 1772h4M226 1804h4M218 1778h4M184 1794h4M216 1780h4M186 1774h4M228 1800h4M216 1570h4M136 1802h4M190 1786h4M202 1760h4M176 1756h4M214 1760h4M216 1646h4M222 1786h4M198 1768h4M188 1738h4M194 1736h4M180 1744h4M168 1756h4M200 1678h4M186 1804h4M198 1688h4M178 1802h4M230 1724h4M174 1768h4M188 1780h4M202 1722h4M228 1784h4M194 1724h4M200 1756h4M186 1780h4M176 1752h4M186 1748h4M176 1728h4M198 1624h4M160 1762h4M202 1588h4M200 1750h4M224 1758h4M138 1744h4M180 1792h4M186 1740h4M186 1666h4M156 1766h4M242 1786h4M216 1758h4M216 1664h4M192 1790h4M172 1760h4M190 1624h4M208 1664h4M180 1748h4M220 1792h4M212 1686h4M140 1792h4M220 1676h4M164 1794h4M208 1768h4M220 1760h4M198 1728h4M216 1744h4M202 1680h4M202 1658h4M244 1778h4M204 1788h4M220 1652h4M166 1770h4M212 1756h4M206 1772h4M218 1702h4M206 1778h4M186 1750h4M180 1780h4M182 1756h4M178 1720h4M192 1696h4M222 1702h4M192 1796h4M226 1798h4M224 1788h4M180 1760h4M198 1774h4M210 1730h4M198 1756h4M216 1768h4M174 1758h4M196 1612h4M168 1700h4M198 1752h4M218 1768h4M190 1746h4M196 1770h4M184 1668h4M174 1776h4M170 1732h4M220 1742h4M250 1790h4M170 1776h4M202 1718h4M208 1780h4M172 1750h4M210 1684h4M228 1798h4M204 1752h4M178 1698h4M206 1710h4M182 1762h4M184 1740h4M192 1708h4M194 1742h4M218 1800h4M212 1698h4M208 1632h4M186 1700h4M194 1758h4M192 1802h4M168 1768h4M202 1752h4M204 1772h4M194 1748h4M186 1640h4M200 1668h4M192 1804h4M236 1748h4M206 1760h4M180 1790h4M194 1752h4M198 1770h4M202 1694h4M190 1756h4M158 1726h4M198 1698h4M198 1694h4M198 1602h4M184 1800h4M204 1668h4M202 1574h4M176 1698h4M194 1636h4M196 1676h4M176 1696h4M188 1724h4M198 1682h4M190 1790h4M228 1682h4M184 1770h4M172 1758h4M192 1618h4M218 1688h4M186 1794h4M156 1770h4M152 1780h4M230 1748h4M206 1788h4M230 1790h4M190 1696h4M184 1760h4M214 1802h4M216 1670h4M190 1736h4M186 1710h4M204 1562h4M234 1732h4M208 1740h4M180 1698h4M208 1772h4M192 1674h4M188 1746h4M176 1774h4M208 1796h4M224 1718h4M170 1728h4M182 1774h4M184 1790h4M202 1772h4M218 1738h4M192 1740h4M210 1662h4M192 1648h4M196 1716h4M230 1804h4M230 1746h4M232 1802h4M160 1800h4M202 1756h4M204 1802h4M196 1744h4M224 1680h4M212 1716h4M246 1804h4M220 1806h4M174 1782h4M224 1804h4M156 1768h4M204 1646h4M238 1774h4M196 1570h4M186 1772h4M220 1776h4M194 1780h4M152 1786h4M194 1722h4M190 1780h4M202 1704h4M222 1716h4M168 1788h4M200 1716h4M186 1692h4M208 1694h4M182 1702h4M186 1736h4M224 1800h4M210 1710h4M198 1612h4M176 1660h4M202 1610h4M216 1708h4M158 1794h4M216 1588h4M196 1736h4M170 1770h4M220 1712h4M206 1792h4M172 1790h4M184 1784h4M168 1730h4M182 1746h4M212 1784h4M220 1656h4M170 1796h4M190 1750h4M186 1760h4M210 1686h4M172 1784h4M184 1720h4M206 1720h4M198 1782h4M200 1650h4M196 1784h4M218 1794h4M152 1770h4M200 1766h4M184 1734h4M214 1662h4M188 1762h4M188 1742h4M172 1800h4M182 1676h4M212 1780h4M224 1688h4M222 1758h4M214 1716h4M172 1740h4M210 1770h4M180 1738h4M216 1698h4M216 1700h4M196 1608h4M216 1792h4M198 1786h4M188 1778h4M200 1760h4M208 1746h4M190 1730h4M212 1620h4M168 1784h4M210 1726h4M212 1788h4M144 1794h4M224 1666h4M232 1608h4M204 1798h4M190 1788h4M212 1732h4M198 1776h4M150 1804h4M166 1776h4M204 1596h4M206 1570h4M172 1770h4M210 1680h4M216 1766h4M262 1756h4M170 1774h4M176 1770h4M188 1794h4M234 1766h4M212 1754h4M188 1776h4M214 1664h4M190 1702h4M200 1712h4M186 1778h4M222 1796h4M190 1752h4M182 1652h4M156 1790h4M222 1678h4M216 1682h4M182 1798h4M208 1774h4M176 1776h4M206 1752h4M220 1774h4M212 1736h4M196 1704h4M154 1750h4M224 1794h4M216 1770h4M196 1678h4M186 1796h4M210 1584h4M188 1744h4M204 1768h4M184 1728h4M212 1758h4M192 1756h4M204 1766h4M190 1764h4M172 1724h4M196 1626h4M194 1718h4M210 1754h4M212 1794h4M188 1662h4M162 1782h4M174 1754h4M204 1758h4M222 1742h4M216 1750h4M222 1784h4M234 1804h4M152 1788h4M206 1776h4M204 1702h4M204 1638h4M180 1732h4M168 1800h4M182 1800h4M174 1698h4M294 1848h4M244 1740h4M304 1858h4M248 1750h4M270 1856h4M434 1872h4M360 1836h4M316 1864h4M394 1862h4M400 1876h4M256 1756h4M266 1886h4M246 1828h4M286 1874h4M248 1876h4M246 1762h4M286 1870h4M344 1878h4M316 1854h4M258 1836h4M260 1834h4M326 1844h4M242 1810h4M444 1876h4M256 1866h4M242 1852h4M316 1862h4M244 1862h4M246 1880h4M258 1880h4M240 1756h4M318 1824h4M308 1842h4M238 1886h4M244 1884h4M258 1874h4M240 1878h4M268 1858h4M254 1794h4M270 1778h4M300 1870h4M284 1862h4M326 1874h4M268 1852h4M248 1874h4M294 1850h4M260 1870h4M388 1840h4M252 1766h4M318 1846h4M278 1872h4M356 1884h4M290 1728h4M284 1884h4M286 1818h4M250 1862h4M260 1866h4M236 1870h4M238 1814h4M316 1860h4M278 1880h4M278 1782h4M270 1808h4M254 1816h4M238 1878h4M288 1858h4M260 1850h4M272 1876h4M382 1858h4M282 1814h4M298 1798h4M358 1844h4M320 1836h4M376 1880h4M276 1864h4M466 1830h4M280 1878h4M314 1878h4M248 1818h4M286 1808h4M242 1780h4M306 1884h4M242 1836h4M266 1864h4M302 1820h4M298 1864h4M278 1866h4M258 1886h4M238 1872h4M322 1850h4M246 1856h4M284 1834h4M242 1880h4M364 1874h4M316 1842h4M308 1848h4M252 1862h4M268 1702h4M264 1884h4M366 1878h4M490 1882h4M318 1822h4M268 1826h4M270 1868h4M324 1866h4M322 1862h4M306 1842h4M284 1822h4M320 1664h4M254 1886h4M240 1744h4M324 1870h4M240 1886h4M324 1868h4M342 1838h4M302 1864h4M304 1886h4M310 1864h4M250 1860h4M252 1838h4M258 1810h4M390 1884h4M392 1798h4M254 1812h4M262 1834h4M276 1874h4M240 1840h4M308 1834h4M422 1876h4M274 1682h4M292 1866h4M290 1850h4M298 1884h4M308 1860h4M298 1750h4M240 1868h4M236 1818h4M350 1796h4M270 1880h4M272 1880h4M254 1820h4M262 1886h4M248 1858h4M248 1828h4M254 1834h4M320 1840h4M252 1828h4M250 1848h4M348 1880h4M348 1856h4M238 1848h4M372 1840h4M308 1882h4M266 1856h4M252 1784h4M274 1828h4M344 1850h4M440 1852h4M252 1876h4M402 1870h4M260 1860h4M296 1886h4M256 1884h4M258 1778h4M296 1664h4M438 1880h4M330 1846h4M244 1838h4M312 1876h4M348 1868h4M236 1856h4M244 1866h4M324 1832h4M474 1812h4M268 1846h4M246 1872h4M262 1838h4M330 1834h4M272 1858h4M268 1864h4M250 1858h4M238 1714h4M246 1860h4M328 1884h4M348 1882h4M240 1772h4M238 1824h4M350 1874h4M312 1878h4M322 1806h4M274 1698h4M258 1848h4M508 1822h4M402 1866h4M292 1840h4M314 1820h4M316 1866h4M240 1858h4M288 1870h4M238 1882h4M282 1878h4M296 1812h4M242 1782h4M284 1876h4M324 1880h4M336 1880h4M242 1882h4M360 1862h4M476 1838h4M282 1810h4M256 1826h4M388 1780h4M286 1832h4M338 1720h4M342 1882h4M366 1802h4M398 1870h4M266 1872h4M342 1886h4M260 1848h4M272 1844h4M298 1866h4M384 1864h4M354 1842h4M420 1816h4M252 1866h4M422 1868h4M242 1788h4M242 1866h4M266 1882h4M250 1784h4M288 1874h4M238 1868h4M386 1604h4M352 1770h4M314 1706h4M266 1880h4M240 1738h4M236 1850h4M262 1826h4M244 1840h4M264 1878h4M250 1692h4M322 1788h4M274 1718h4M242 1650h4M286 1868h4M244 1850h4M244 1870h4M248 1860h4M280 1886h4M446 1686h4M406 1590h4M240 1764h4M426 1860h4M368 1696h4M264 1836h4M240 1668h4M262 1882h4M252 1814h4M436 1740h4M334 1872h4M284 1774h4M276 1756h4M344 1712h4M308 1742h4M254 1852h4M462 1858h4M374 1772h4M256 1762h4M266 1810h4M268 1878h4M304 1840h4M314 1842h4M252 1826h4M286 1854h4M244 1640h4M246 1862h4M250 1778h4M242 1844h4M324 1810h4M294 1808h4M254 1830h4M284 1818h4M252 1818h4M298 1868h4M262 1836h4M450 1788h4M274 1864h4M330 1650h4M240 1828h4M270 1790h4M432 1872h4M446 1734h4M272 1696h4M322 1766h4M254 1868h4M238 1786h4M272 1804h4M344 1696h4M274 1614h4M376 1874h4M296 1632h4M416 1770h4M278 1680h4M244 1598h4M344 1830h4M392 1872h4M328 1664h4M250 1820h4M284 1850h4M268 1868h4M302 1856h4M356 1642h4M348 1884h4M268 1796h4M240 1606h4M416 1866h4M312 1706h4M262 1580h4M254 1850h4M322 1790h4M296 1786h4M250 1612h4M302 1866h4M254 1760h4M256 1838h4M258 1840h4M236 1564h4M288 1578h4M364 1586h4M244 1600h4M256 1610h4M344 1608h4M368 1618h4M324 1630h4M322 1638h4M444 1666h4M464 1680h4M404 1690h4M490 1786h4M464 1794h4M468 1816h4M456 1862h4M444 1886h4M432 1732h4M454 1730h4M398 1720h4M412 1720h4M420 1742h4M428 1752h4" stroke="#000" stroke-width="4" fill="none"/>
<ellipse cx="186" cy="1838" rx="36" ry="38.5" fill="#000"/>
<ellipse cx="194" cy="1800" rx="18" ry="24" fill="#000"/>
<rect x="106.3" y="1535" width="487" height="488.3" fill="none" stroke="#2a2a2a" stroke-width="1.4"/>
<rect x="233.3" y="1545" width="287.2" height="343.8" fill="none" stroke="#000" stroke-width="1.7"/>
<line x1="98.8" y1="1558" x2="106.3" y2="1558" stroke="#2a2a2a" stroke-width="1.4"/>
<text x="34" y="1568" font-size="26" textLength="54.8" lengthAdjust="spacingAndGlyphs">250K</text>
<line x1="98.8" y1="1652" x2="106.3" y2="1652" stroke="#2a2a2a" stroke-width="1.4"/>
<text x="34" y="1662" font-size="26" textLength="54.8" lengthAdjust="spacingAndGlyphs">200K</text>
<line x1="98.8" y1="1744" x2="106.3" y2="1744" stroke="#2a2a2a" stroke-width="1.4"/>
<text x="34" y="1754" font-size="26" textLength="54.8" lengthAdjust="spacingAndGlyphs">150K</text>
<line x1="98.8" y1="1838" x2="106.3" y2="1838" stroke="#2a2a2a" stroke-width="1.4"/>
<text x="34" y="1848" font-size="26" textLength="54.8" lengthAdjust="spacingAndGlyphs">100K</text>
<line x1="98.8" y1="1933" x2="106.3" y2="1933" stroke="#2a2a2a" stroke-width="1.4"/>
<text x="45.5" y="1943" font-size="26" textLength="43.3" lengthAdjust="spacingAndGlyphs">50K</text>
<line x1="98.8" y1="2023.3" x2="106.3" y2="2023.3" stroke="#2a2a2a" stroke-width="1.4"/>
<text x="75.3" y="2033.3" font-size="26" textLength="13.5" lengthAdjust="spacingAndGlyphs">0</text>
<line x1="111.3" y1="2023.3" x2="111.3" y2="2031.3" stroke="#2a2a2a" stroke-width="1.4"/>
<line x1="157.5" y1="2023.3" x2="157.5" y2="2031.3" stroke="#2a2a2a" stroke-width="1.4"/>
<line x1="210" y1="2023.3" x2="210" y2="2031.3" stroke="#2a2a2a" stroke-width="1.4"/>
<line x1="327.5" y1="2023.3" x2="327.5" y2="2031.3" stroke="#2a2a2a" stroke-width="1.4"/>
<line x1="440" y1="2023.3" x2="440" y2="2031.3" stroke="#2a2a2a" stroke-width="1.4"/>
<line x1="550.8" y1="2023.3" x2="550.8" y2="2031.3" stroke="#2a2a2a" stroke-width="1.4"/>
<text x="149" y="2062" font-size="31" textLength="17" lengthAdjust="spacingAndGlyphs">0</text>
<text x="189" y="2062" font-size="31" textLength="29" lengthAdjust="spacingAndGlyphs">10</text>
<text x="218.8" y="2051" font-size="19">2</text>
<text x="309" y="2062" font-size="31" textLength="29" lengthAdjust="spacingAndGlyphs">10</text>
<text x="338.8" y="2051" font-size="19">3</text>
<text x="421.5" y="2062" font-size="31" textLength="29" lengthAdjust="spacingAndGlyphs">10</text>
<text x="451.3" y="2051" font-size="19">4</text>
<text x="530.3" y="2062" font-size="31" textLength="29" lengthAdjust="spacingAndGlyphs">10</text>
<text x="560.1" y="2051" font-size="19">5</text>
<text transform="translate(21 1790) rotate(-90)" x="-22.5" y="0" font-size="25" textLength="45" lengthAdjust="spacingAndGlyphs" font-weight="bold">FSC</text>
<text x="322" y="2104" font-size="25" textLength="62.8" lengthAdjust="spacingAndGlyphs" font-weight="bold">OX62</text>
<text x="967" y="1523.3" font-size="25" textLength="45.5" lengthAdjust="spacingAndGlyphs" font-weight="bold">DCs</text>
<rect x="766.55" y="1720.05" width="81.5" height="275.6" fill="none" stroke="#fe0000" stroke-width="1.5"/>
<rect x="790.8" y="1716.5" width="35" height="3" fill="#fe0000"/>
<rect x="866.3" y="1660.3" width="85.7" height="335.5" fill="#fe0000"/>
<line x1="891.8" y1="1647.5" x2="926.8" y2="1647.5" stroke="#fe0000" stroke-width="1.4"/>
<line x1="909.3" y1="1647.5" x2="909.3" y2="1660.3" stroke="#fe0000" stroke-width="1.4"/>
<rect x="1029.55" y="1868.55" width="82" height="127.1" fill="none" stroke="#0048ff" stroke-width="1.5"/>
<rect x="1053.8" y="1865.3" width="34.2" height="2.7" fill="#0048ff"/>
<rect x="1127.8" y="1648.3" width="85.2" height="347.5" fill="#0048ff"/>
<line x1="1154" y1="1644.5" x2="1189" y2="1644.5" stroke="#0048ff" stroke-width="1.4"/>
<line x1="1171.5" y1="1644.5" x2="1171.5" y2="1648.3" stroke="#0048ff" stroke-width="1.4"/>
<rect x="744.3" y="1535" width="487.5" height="460.8" fill="none" stroke="#2a2a2a" stroke-width="1.4"/>
<line x1="736.3" y1="1595" x2="744.3" y2="1595" stroke="#2a2a2a" stroke-width="1.4"/>
<text x="697.5" y="1603.1" font-size="26" textLength="31.5" lengthAdjust="spacingAndGlyphs">2.5</text>
<line x1="736.3" y1="1675.8" x2="744.3" y2="1675.8" stroke="#2a2a2a" stroke-width="1.4"/>
<text x="697.5" y="1683.9" font-size="26" textLength="31.5" lengthAdjust="spacingAndGlyphs">2.0</text>
<line x1="736.3" y1="1755.5" x2="744.3" y2="1755.5" stroke="#2a2a2a" stroke-width="1.4"/>
<text x="697.5" y="1763.6" font-size="26" textLength="31.5" lengthAdjust="spacingAndGlyphs">1.5</text>
<line x1="736.3" y1="1836" x2="744.3" y2="1836" stroke="#2a2a2a" stroke-width="1.4"/>
<text x="697.5" y="1844.1" font-size="26" textLength="31.5" lengthAdjust="spacingAndGlyphs">1.0</text>
<line x1="736.3" y1="1916" x2="744.3" y2="1916" stroke="#2a2a2a" stroke-width="1.4"/>
<text x="697.5" y="1924.1" font-size="26" textLength="31.5" lengthAdjust="spacingAndGlyphs">0.5</text>
<line x1="736.3" y1="1995.8" x2="744.3" y2="1995.8" stroke="#2a2a2a" stroke-width="1.4"/>
<text x="716.3" y="2005" font-size="26" textLength="12.9" lengthAdjust="spacingAndGlyphs">0</text>
<line x1="807" y1="1995.8" x2="807" y2="2003" stroke="#2a2a2a" stroke-width="1.4"/>
<line x1="908.3" y1="1995.8" x2="908.3" y2="2003" stroke="#2a2a2a" stroke-width="1.4"/>
<line x1="1069.5" y1="1995.8" x2="1069.5" y2="2003" stroke="#2a2a2a" stroke-width="1.4"/>
<line x1="1169.3" y1="1995.8" x2="1169.3" y2="2003" stroke="#2a2a2a" stroke-width="1.4"/>
<line x1="803" y1="1572" x2="1169.3" y2="1572" stroke="#2a2a2a" stroke-width="1.3"/>
<line x1="803" y1="1563.6" x2="803" y2="1580.4" stroke="#2a2a2a" stroke-width="1.3"/>
<line x1="1066.3" y1="1563.6" x2="1066.3" y2="1580.4" stroke="#2a2a2a" stroke-width="1.3"/>
<line x1="1169.3" y1="1563.6" x2="1169.3" y2="1580.4" stroke="#2a2a2a" stroke-width="1.3"/>
<line x1="803" y1="1614.5" x2="906.8" y2="1614.5" stroke="#2a2a2a" stroke-width="1.3"/>
<line x1="803" y1="1606.1" x2="803" y2="1622.9" stroke="#2a2a2a" stroke-width="1.3"/>
<line x1="906.8" y1="1606.1" x2="906.8" y2="1622.9" stroke="#2a2a2a" stroke-width="1.3"/>
<text x="912" y="1576.34" font-size="33" text-anchor="middle" stroke="#000" stroke-width="0.35">*</text>
<text x="936.5" y="1576.34" font-size="33" text-anchor="middle" stroke="#000" stroke-width="0.35">*</text>
<text x="961.5" y="1576.34" font-size="33" text-anchor="middle" stroke="#000" stroke-width="0.35">*</text>
<text x="1093.3" y="1576.34" font-size="33" text-anchor="middle" stroke="#000" stroke-width="0.35">*</text>
<text x="1117.8" y="1576.34" font-size="33" text-anchor="middle" stroke="#000" stroke-width="0.35">*</text>
<text x="1142.8" y="1576.34" font-size="33" text-anchor="middle" stroke="#000" stroke-width="0.35">*</text>
<text x="832.5" y="1615.84" font-size="33" text-anchor="middle" stroke="#000" stroke-width="0.35">*</text>
<text x="857" y="1615.84" font-size="33" text-anchor="middle" stroke="#000" stroke-width="0.35">*</text>
<text x="882" y="1615.84" font-size="33" text-anchor="middle" stroke="#000" stroke-width="0.35">*</text>
<text x="776.5" y="2030.8" font-size="24" textLength="64" lengthAdjust="spacingAndGlyphs">Young</text>
<text x="883.3" y="2030.8" font-size="24" textLength="51.5" lengthAdjust="spacingAndGlyphs">Aged</text>
<text x="1040.3" y="2030.8" font-size="24" textLength="62.7" lengthAdjust="spacingAndGlyphs">Young</text>
<text x="1147.5" y="2030.8" font-size="24" textLength="51.8" lengthAdjust="spacingAndGlyphs">Aged</text>
<line x1="776.3" y1="2045.5" x2="943.3" y2="2045.5" stroke="#000" stroke-width="2.1"/>
<line x1="1039.3" y1="2045.5" x2="1205.5" y2="2045.5" stroke="#000" stroke-width="2.1"/>
<text x="843.5" y="2070.5" font-size="24" textLength="32.5" lengthAdjust="spacingAndGlyphs">DA</text>
<text x="1105.5" y="2070.5" font-size="24" textLength="33.5" lengthAdjust="spacingAndGlyphs">AO</text>
<text transform="translate(672.5 1795) rotate(-90)" x="-116" y="0" font-size="25.5" textLength="232" lengthAdjust="spacingAndGlyphs" font-weight="bold">Number of cells (x10<tspan font-size="15" dy="-8">6</tspan><tspan dy="8">)</tspan></text>
<text x="1308.5" y="1532.5" font-size="42" font-weight="bold">D</text>
<rect x="1424.55" y="1620.75" width="80.5" height="367.4" fill="none" stroke="#fe0000" stroke-width="1.5"/>
<line x1="1446.5" y1="1608.5" x2="1481.1" y2="1608.5" stroke="#fe0000" stroke-width="1.4"/>
<line x1="1463.8" y1="1608.5" x2="1463.8" y2="1620" stroke="#fe0000" stroke-width="1.4"/>
<rect x="1524.3" y="1636" width="85.7" height="352.3" fill="#fe0000"/>
<line x1="1549" y1="1628.8" x2="1584" y2="1628.8" stroke="#fe0000" stroke-width="1.4"/>
<line x1="1566.5" y1="1628.8" x2="1566.5" y2="1636" stroke="#fe0000" stroke-width="1.4"/>
<rect x="1687.55" y="1678.75" width="81.5" height="309.4" fill="none" stroke="#0048ff" stroke-width="1.5"/>
<rect x="1710.8" y="1675.3" width="35" height="3" fill="#0048ff"/>
<rect x="1785.5" y="1697.5" width="85.5" height="290.8" fill="#0048ff"/>
<rect x="1812" y="1695.5" width="35" height="2.2" fill="#0048ff"/>
<rect x="1401.8" y="1535" width="487" height="453.3" fill="none" stroke="#2a2a2a" stroke-width="1.4"/>
<line x1="1394.5" y1="1591.8" x2="1401.8" y2="1591.8" stroke="#2a2a2a" stroke-width="1.4"/>
<text x="1362.9" y="1600.7" font-size="26" textLength="24.6" lengthAdjust="spacingAndGlyphs">16</text>
<line x1="1394.5" y1="1690.3" x2="1401.8" y2="1690.3" stroke="#2a2a2a" stroke-width="1.4"/>
<text x="1362.9" y="1699.2" font-size="26" textLength="24.6" lengthAdjust="spacingAndGlyphs">12</text>
<line x1="1394.5" y1="1790.8" x2="1401.8" y2="1790.8" stroke="#2a2a2a" stroke-width="1.4"/>
<text x="1374.4" y="1799.7" font-size="26" textLength="13.1" lengthAdjust="spacingAndGlyphs">8</text>
<line x1="1394.5" y1="1888.3" x2="1401.8" y2="1888.3" stroke="#2a2a2a" stroke-width="1.4"/>
<text x="1374.4" y="1897.2" font-size="26" textLength="13.1" lengthAdjust="spacingAndGlyphs">4</text>
<line x1="1394.5" y1="1988.3" x2="1401.8" y2="1988.3" stroke="#2a2a2a" stroke-width="1.4"/>
<text x="1374.2" y="1998.8" font-size="26" textLength="13.3" lengthAdjust="spacingAndGlyphs">0</text>
<line x1="1464.5" y1="1988.3" x2="1464.5" y2="1995.5" stroke="#2a2a2a" stroke-width="1.4"/>
<line x1="1566" y1="1988.3" x2="1566" y2="1995.5" stroke="#2a2a2a" stroke-width="1.4"/>
<line x1="1727" y1="1988.3" x2="1727" y2="1995.5" stroke="#2a2a2a" stroke-width="1.4"/>
<line x1="1827.5" y1="1988.3" x2="1827.5" y2="1995.5" stroke="#2a2a2a" stroke-width="1.4"/>
<line x1="1462.8" y1="1567" x2="1728.3" y2="1567" stroke="#2a2a2a" stroke-width="1.3"/>
<line x1="1462.8" y1="1558.8" x2="1462.8" y2="1575.2" stroke="#2a2a2a" stroke-width="1.3"/>
<line x1="1728.3" y1="1558.8" x2="1728.3" y2="1575.2" stroke="#2a2a2a" stroke-width="1.3"/>
<line x1="1567.5" y1="1602.3" x2="1833.3" y2="1602.3" stroke="#2a2a2a" stroke-width="1.3"/>
<line x1="1567.5" y1="1594.1" x2="1567.5" y2="1610.5" stroke="#2a2a2a" stroke-width="1.3"/>
<line x1="1833.3" y1="1594.1" x2="1833.3" y2="1610.5" stroke="#2a2a2a" stroke-width="1.3"/>
<text x="1556.8" y="1567.04" font-size="33" text-anchor="middle" stroke="#000" stroke-width="0.35">*</text>
<text x="1580.8" y="1567.04" font-size="33" text-anchor="middle" stroke="#000" stroke-width="0.35">*</text>
<text x="1606.3" y="1567.04" font-size="33" text-anchor="middle" stroke="#000" stroke-width="0.35">*</text>
<text x="1674.5" y="1605.04" font-size="33" text-anchor="middle" stroke="#000" stroke-width="0.35">*</text>
<text x="1699" y="1605.04" font-size="33" text-anchor="middle" stroke="#000" stroke-width="0.35">*</text>
<text x="1724.3" y="1605.04" font-size="33" text-anchor="middle" stroke="#000" stroke-width="0.35">*</text>
<text x="1434.5" y="2030.8" font-size="24" textLength="63.5" lengthAdjust="spacingAndGlyphs">Young</text>
<text x="1540.8" y="2030.8" font-size="24" textLength="51.5" lengthAdjust="spacingAndGlyphs">Aged</text>
<text x="1698.3" y="2030.8" font-size="24" textLength="62.7" lengthAdjust="spacingAndGlyphs">Young</text>
<text x="1805.3" y="2030.8" font-size="24" textLength="52.2" lengthAdjust="spacingAndGlyphs">Aged</text>
<line x1="1434.3" y1="2045.5" x2="1592.5" y2="2045.5" stroke="#000" stroke-width="2.1"/>
<line x1="1697" y1="2045.5" x2="1857" y2="2045.5" stroke="#000" stroke-width="2.1"/>
<text x="1497.3" y="2070.3" font-size="24" textLength="32.2" lengthAdjust="spacingAndGlyphs">DA</text>
<text x="1760.5" y="2070.3" font-size="24" textLength="34" lengthAdjust="spacingAndGlyphs">AO</text>
<text transform="translate(1331 1794) rotate(-90)" x="-89" y="0" font-size="25.5" textLength="178" lengthAdjust="spacingAndGlyphs" font-weight="bold">DC/NK cell ratio</text>
</g>
</svg></body></html>
